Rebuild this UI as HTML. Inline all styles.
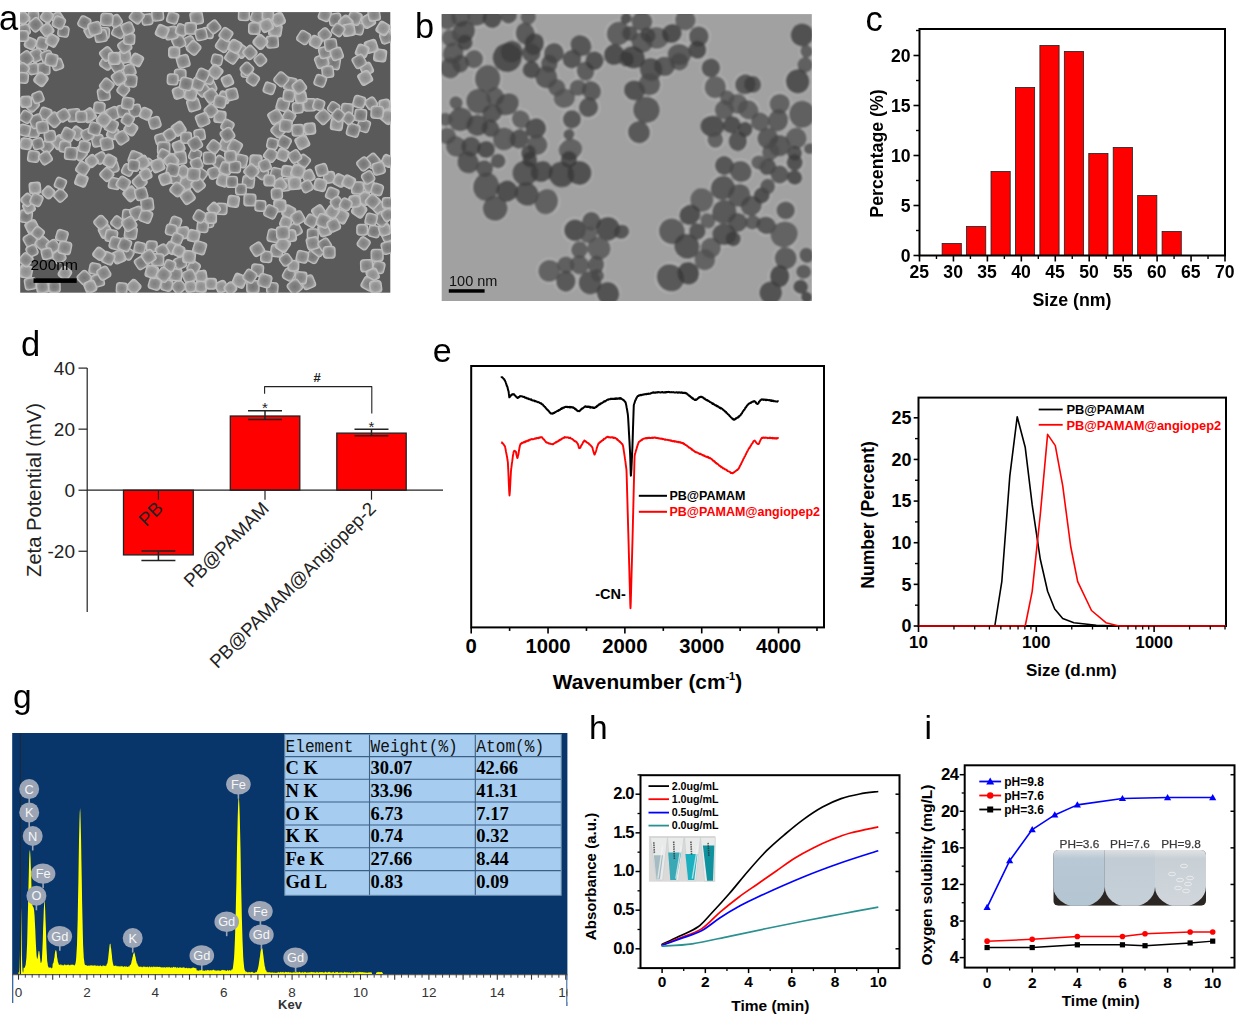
<!DOCTYPE html>
<html><head><meta charset="utf-8"><style>
html,body{margin:0;padding:0;background:#fff;width:1236px;height:1016px;overflow:hidden}
svg{display:block}
</style></head><body>
<svg width="1236" height="1016" viewBox="0 0 1236 1016">
<defs><clipPath id="clipA"><rect x="20.2" y="12.1" width="370.1" height="280.6"/></clipPath><filter id="blurA" x="-5%" y="-5%" width="110%" height="110%"><feGaussianBlur stdDeviation="0.7"/></filter><radialGradient id="pg1"><stop offset="0" stop-color="#7e7e7e"/><stop offset="0.7" stop-color="#8e8e8e"/><stop offset="1" stop-color="#a8a8a8"/></radialGradient><radialGradient id="pg2"><stop offset="0" stop-color="#8c8c8c"/><stop offset="0.7" stop-color="#9a9a9a"/><stop offset="1" stop-color="#b4b4b4"/></radialGradient><radialGradient id="pg3"><stop offset="0" stop-color="#747474"/><stop offset="0.7" stop-color="#848484"/><stop offset="1" stop-color="#a0a0a0"/></radialGradient></defs>
<rect x="20.2" y="12.1" width="370.1" height="280.6" fill="#5a5a5a" stroke="none" stroke-width="1" />
<g clip-path="url(#clipA)"><g filter="url(#blurA)">
<rect x="-5.81" y="-5.81" width="11.62" height="11.62" rx="2.8" fill="url(#pg2)" stroke="#bdbdbd" stroke-width="1.3" transform="translate(219.97,116.79) rotate(5.79)"/>
<rect x="-6.27" y="-6.27" width="12.54" height="12.54" rx="2.8" fill="url(#pg3)" stroke="#bdbdbd" stroke-width="1.3" transform="translate(333.74,62.9) rotate(9.43)"/>
<rect x="-5.57" y="-5.57" width="11.14" height="11.14" rx="2.8" fill="url(#pg2)" stroke="#bdbdbd" stroke-width="1.3" transform="translate(201.14,276.25) rotate(81.53)"/>
<rect x="-5.57" y="-5.57" width="11.14" height="11.14" rx="2.8" fill="url(#pg1)" stroke="#bdbdbd" stroke-width="1.3" transform="translate(114.31,183.44) rotate(11.66)"/>
<rect x="-6.15" y="-6.15" width="12.3" height="12.3" rx="2.8" fill="url(#pg3)" stroke="#bdbdbd" stroke-width="1.3" transform="translate(294.82,229.84) rotate(60.84)"/>
<rect x="-5.71" y="-5.71" width="11.41" height="11.41" rx="2.8" fill="url(#pg1)" stroke="#bdbdbd" stroke-width="1.3" transform="translate(210.99,110.8) rotate(48.29)"/>
<rect x="-6" y="-6" width="12" height="12" rx="2.8" fill="url(#pg1)" stroke="#bdbdbd" stroke-width="1.3" transform="translate(276.86,250.8) rotate(8.05)"/>
<rect x="-6.1" y="-6.1" width="12.2" height="12.2" rx="2.8" fill="url(#pg1)" stroke="#bdbdbd" stroke-width="1.3" transform="translate(282.84,104.81) rotate(16.5)"/>
<rect x="-5.57" y="-5.57" width="11.14" height="11.14" rx="2.8" fill="url(#pg1)" stroke="#bdbdbd" stroke-width="1.3" transform="translate(221.47,208.89) rotate(1.51)"/>
<rect x="-6.1" y="-6.1" width="12.2" height="12.2" rx="2.8" fill="url(#pg2)" stroke="#bdbdbd" stroke-width="1.3" transform="translate(380.15,55.41) rotate(7.54)"/>
<rect x="-5.37" y="-5.37" width="10.73" height="10.73" rx="2.8" fill="url(#pg1)" stroke="#bdbdbd" stroke-width="1.3" transform="translate(33.47,68.89) rotate(77.65)"/>
<rect x="-5.31" y="-5.31" width="10.62" height="10.62" rx="2.8" fill="url(#pg1)" stroke="#bdbdbd" stroke-width="1.3" transform="translate(33.47,16.49) rotate(89.49)"/>
<rect x="-6.23" y="-6.23" width="12.45" height="12.45" rx="2.8" fill="url(#pg2)" stroke="#bdbdbd" stroke-width="1.3" transform="translate(225.96,145.23) rotate(24.11)"/>
<rect x="-5.34" y="-5.34" width="10.69" height="10.69" rx="2.8" fill="url(#pg1)" stroke="#bdbdbd" stroke-width="1.3" transform="translate(189.16,41.94) rotate(63.86)"/>
<rect x="-6.27" y="-6.27" width="12.54" height="12.54" rx="2.8" fill="url(#pg2)" stroke="#bdbdbd" stroke-width="1.3" transform="translate(239.43,280.74) rotate(23.57)"/>
<rect x="-5.5" y="-5.5" width="11" height="11" rx="2.8" fill="url(#pg3)" stroke="#bdbdbd" stroke-width="1.3" transform="translate(288.83,274.75) rotate(28.08)"/>
<rect x="-5.83" y="-5.83" width="11.66" height="11.66" rx="2.8" fill="url(#pg1)" stroke="#bdbdbd" stroke-width="1.3" transform="translate(42.46,43.44) rotate(18.53)"/>
<rect x="-5.8" y="-5.8" width="11.6" height="11.6" rx="2.8" fill="url(#pg3)" stroke="#bdbdbd" stroke-width="1.3" transform="translate(374.16,231.34) rotate(16.01)"/>
<rect x="-6.1" y="-6.1" width="12.21" height="12.21" rx="2.8" fill="url(#pg1)" stroke="#bdbdbd" stroke-width="1.3" transform="translate(357.69,187.93) rotate(89.5)"/>
<rect x="-5.32" y="-5.32" width="10.63" height="10.63" rx="2.8" fill="url(#pg2)" stroke="#bdbdbd" stroke-width="1.3" transform="translate(227.46,80.86) rotate(65.98)"/>
<rect x="-5.81" y="-5.81" width="11.63" height="11.63" rx="2.8" fill="url(#pg1)" stroke="#bdbdbd" stroke-width="1.3" transform="translate(332.25,193.92) rotate(22.11)"/>
<rect x="-5.41" y="-5.41" width="10.81" height="10.81" rx="2.8" fill="url(#pg1)" stroke="#bdbdbd" stroke-width="1.3" transform="translate(160.72,139.25) rotate(73.7)"/>
<rect x="-5.96" y="-5.96" width="11.91" height="11.91" rx="2.8" fill="url(#pg1)" stroke="#bdbdbd" stroke-width="1.3" transform="translate(178.68,286.73) rotate(49.13)"/>
<rect x="-6.27" y="-6.27" width="12.54" height="12.54" rx="2.8" fill="url(#pg2)" stroke="#bdbdbd" stroke-width="1.3" transform="translate(341.23,216.37) rotate(27.7)"/>
<rect x="-6.28" y="-6.28" width="12.56" height="12.56" rx="2.8" fill="url(#pg2)" stroke="#bdbdbd" stroke-width="1.3" transform="translate(186.17,183.44) rotate(30.84)"/>
<rect x="-5.7" y="-5.7" width="11.41" height="11.41" rx="2.8" fill="url(#pg1)" stroke="#bdbdbd" stroke-width="1.3" transform="translate(193.65,267.27) rotate(31.28)"/>
<rect x="-6.14" y="-6.14" width="12.27" height="12.27" rx="2.8" fill="url(#pg3)" stroke="#bdbdbd" stroke-width="1.3" transform="translate(163.71,148.23) rotate(1.28)"/>
<rect x="-5.73" y="-5.73" width="11.46" height="11.46" rx="2.8" fill="url(#pg1)" stroke="#bdbdbd" stroke-width="1.3" transform="translate(347.22,109.31) rotate(4.99)"/>
<rect x="-6.17" y="-6.17" width="12.34" height="12.34" rx="2.8" fill="url(#pg3)" stroke="#bdbdbd" stroke-width="1.3" transform="translate(30.48,240.32) rotate(60.35)"/>
<rect x="-5.9" y="-5.9" width="11.8" height="11.8" rx="2.8" fill="url(#pg1)" stroke="#bdbdbd" stroke-width="1.3" transform="translate(36.47,55.41) rotate(62.34)"/>
<rect x="-5.76" y="-5.76" width="11.52" height="11.52" rx="2.8" fill="url(#pg1)" stroke="#bdbdbd" stroke-width="1.3" transform="translate(378.65,267.27) rotate(14.18)"/>
<rect x="-5.3" y="-5.3" width="10.61" height="10.61" rx="2.8" fill="url(#pg3)" stroke="#bdbdbd" stroke-width="1.3" transform="translate(333.74,107.81) rotate(32.77)"/>
<rect x="-6.27" y="-6.27" width="12.55" height="12.55" rx="2.8" fill="url(#pg2)" stroke="#bdbdbd" stroke-width="1.3" transform="translate(130.78,193.92) rotate(49.24)"/>
<rect x="-5.33" y="-5.33" width="10.67" height="10.67" rx="2.8" fill="url(#pg2)" stroke="#bdbdbd" stroke-width="1.3" transform="translate(384.64,104.81) rotate(79.41)"/>
<rect x="-5.66" y="-5.66" width="11.31" height="11.31" rx="2.8" fill="url(#pg1)" stroke="#bdbdbd" stroke-width="1.3" transform="translate(33.47,131.76) rotate(0.1)"/>
<rect x="-5.38" y="-5.38" width="10.77" height="10.77" rx="2.8" fill="url(#pg2)" stroke="#bdbdbd" stroke-width="1.3" transform="translate(30.48,43.44) rotate(25.1)"/>
<rect x="-5.55" y="-5.55" width="11.1" height="11.1" rx="2.8" fill="url(#pg1)" stroke="#bdbdbd" stroke-width="1.3" transform="translate(213.98,172.96) rotate(69.86)"/>
<rect x="-5.56" y="-5.56" width="11.13" height="11.13" rx="2.8" fill="url(#pg1)" stroke="#bdbdbd" stroke-width="1.3" transform="translate(33.47,156.49) rotate(8.08)"/>
<rect x="-5.89" y="-5.89" width="11.77" height="11.77" rx="2.8" fill="url(#pg3)" stroke="#bdbdbd" stroke-width="1.3" transform="translate(219.97,162.48) rotate(35.46)"/>
<rect x="-5.6" y="-5.6" width="11.21" height="11.21" rx="2.8" fill="url(#pg2)" stroke="#bdbdbd" stroke-width="1.3" transform="translate(224.46,97.33) rotate(20.95)"/>
<rect x="-5.96" y="-5.96" width="11.92" height="11.92" rx="2.8" fill="url(#pg1)" stroke="#bdbdbd" stroke-width="1.3" transform="translate(189.16,276.25) rotate(64.44)"/>
<rect x="-6.06" y="-6.06" width="12.13" height="12.13" rx="2.8" fill="url(#pg1)" stroke="#bdbdbd" stroke-width="1.3" transform="translate(112.81,113.8) rotate(64.86)"/>
<rect x="-5.45" y="-5.45" width="10.9" height="10.9" rx="2.8" fill="url(#pg2)" stroke="#bdbdbd" stroke-width="1.3" transform="translate(221.47,286.73) rotate(65.17)"/>
<rect x="-5.34" y="-5.34" width="10.69" height="10.69" rx="2.8" fill="url(#pg1)" stroke="#bdbdbd" stroke-width="1.3" transform="translate(24.49,29.96) rotate(75.18)"/>
<rect x="-6.03" y="-6.03" width="12.07" height="12.07" rx="2.8" fill="url(#pg2)" stroke="#bdbdbd" stroke-width="1.3" transform="translate(371.17,46.43) rotate(73.1)"/>
<rect x="-6.21" y="-6.21" width="12.42" height="12.42" rx="2.8" fill="url(#pg1)" stroke="#bdbdbd" stroke-width="1.3" transform="translate(321.77,61.4) rotate(67.76)"/>
<rect x="-6.13" y="-6.13" width="12.25" height="12.25" rx="2.8" fill="url(#pg2)" stroke="#bdbdbd" stroke-width="1.3" transform="translate(58.92,142.24) rotate(52.57)"/>
<rect x="-5.39" y="-5.39" width="10.77" height="10.77" rx="2.8" fill="url(#pg3)" stroke="#bdbdbd" stroke-width="1.3" transform="translate(207.99,32.96) rotate(3.77)"/>
<rect x="-6.26" y="-6.26" width="12.52" height="12.52" rx="2.8" fill="url(#pg1)" stroke="#bdbdbd" stroke-width="1.3" transform="translate(222.96,44.93) rotate(33.9)"/>
<rect x="-5.86" y="-5.86" width="11.72" height="11.72" rx="2.8" fill="url(#pg2)" stroke="#bdbdbd" stroke-width="1.3" transform="translate(318.77,211.88) rotate(56.5)"/>
<rect x="-5.79" y="-5.79" width="11.58" height="11.58" rx="2.8" fill="url(#pg1)" stroke="#bdbdbd" stroke-width="1.3" transform="translate(180.18,74.87) rotate(0.3)"/>
<rect x="-6.05" y="-6.05" width="12.1" height="12.1" rx="2.8" fill="url(#pg1)" stroke="#bdbdbd" stroke-width="1.3" transform="translate(31.98,104.81) rotate(45.27)"/>
<rect x="-5.96" y="-5.96" width="11.92" height="11.92" rx="2.8" fill="url(#pg1)" stroke="#bdbdbd" stroke-width="1.3" transform="translate(257.4,270.26) rotate(5.94)"/>
<rect x="-5.55" y="-5.55" width="11.1" height="11.1" rx="2.8" fill="url(#pg3)" stroke="#bdbdbd" stroke-width="1.3" transform="translate(246.92,71.88) rotate(6.7)"/>
<rect x="-5.53" y="-5.53" width="11.07" height="11.07" rx="2.8" fill="url(#pg2)" stroke="#bdbdbd" stroke-width="1.3" transform="translate(178.68,146.73) rotate(68.08)"/>
<rect x="-6.04" y="-6.04" width="12.08" height="12.08" rx="2.8" fill="url(#pg1)" stroke="#bdbdbd" stroke-width="1.3" transform="translate(366.68,265.77) rotate(87.82)"/>
<rect x="-6.15" y="-6.15" width="12.29" height="12.29" rx="2.8" fill="url(#pg3)" stroke="#bdbdbd" stroke-width="1.3" transform="translate(25.99,216.37) rotate(6.91)"/>
<rect x="-6.07" y="-6.07" width="12.13" height="12.13" rx="2.8" fill="url(#pg2)" stroke="#bdbdbd" stroke-width="1.3" transform="translate(88.86,115.29) rotate(55.53)"/>
<rect x="-5.38" y="-5.38" width="10.75" height="10.75" rx="2.8" fill="url(#pg3)" stroke="#bdbdbd" stroke-width="1.3" transform="translate(216.98,59.9) rotate(13.27)"/>
<rect x="-5.95" y="-5.95" width="11.9" height="11.9" rx="2.8" fill="url(#pg2)" stroke="#bdbdbd" stroke-width="1.3" transform="translate(105.33,231.34) rotate(62.36)"/>
<rect x="-5.31" y="-5.31" width="10.62" height="10.62" rx="2.8" fill="url(#pg3)" stroke="#bdbdbd" stroke-width="1.3" transform="translate(127.78,214.87) rotate(5.46)"/>
<rect x="-6.27" y="-6.27" width="12.55" height="12.55" rx="2.8" fill="url(#pg2)" stroke="#bdbdbd" stroke-width="1.3" transform="translate(275.36,29.96) rotate(8.96)"/>
<rect x="-5.98" y="-5.98" width="11.95" height="11.95" rx="2.8" fill="url(#pg3)" stroke="#bdbdbd" stroke-width="1.3" transform="translate(118.8,31.46) rotate(26.18)"/>
<rect x="-5.76" y="-5.76" width="11.53" height="11.53" rx="2.8" fill="url(#pg1)" stroke="#bdbdbd" stroke-width="1.3" transform="translate(46.95,146.73) rotate(41.97)"/>
<rect x="-6.29" y="-6.29" width="12.59" height="12.59" rx="2.8" fill="url(#pg3)" stroke="#bdbdbd" stroke-width="1.3" transform="translate(372.66,160.98) rotate(49.42)"/>
<rect x="-6.28" y="-6.28" width="12.56" height="12.56" rx="2.8" fill="url(#pg1)" stroke="#bdbdbd" stroke-width="1.3" transform="translate(73.89,115.29) rotate(84.26)"/>
<rect x="-5.59" y="-5.59" width="11.18" height="11.18" rx="2.8" fill="url(#pg1)" stroke="#bdbdbd" stroke-width="1.3" transform="translate(64.91,146.73) rotate(6.88)"/>
<rect x="-6.29" y="-6.29" width="12.59" height="12.59" rx="2.8" fill="url(#pg2)" stroke="#bdbdbd" stroke-width="1.3" transform="translate(359.19,210.38) rotate(34.82)"/>
<rect x="-5.37" y="-5.37" width="10.75" height="10.75" rx="2.8" fill="url(#pg3)" stroke="#bdbdbd" stroke-width="1.3" transform="translate(63.41,31.46) rotate(8.13)"/>
<rect x="-6.25" y="-6.25" width="12.51" height="12.51" rx="2.8" fill="url(#pg3)" stroke="#bdbdbd" stroke-width="1.3" transform="translate(273.86,235.83) rotate(11.93)"/>
<rect x="-6.19" y="-6.19" width="12.37" height="12.37" rx="2.8" fill="url(#pg2)" stroke="#bdbdbd" stroke-width="1.3" transform="translate(302.31,142.24) rotate(63.3)"/>
<rect x="-5.8" y="-5.8" width="11.6" height="11.6" rx="2.8" fill="url(#pg1)" stroke="#bdbdbd" stroke-width="1.3" transform="translate(97.84,140.74) rotate(78.85)"/>
<rect x="-5.32" y="-5.32" width="10.65" height="10.65" rx="2.8" fill="url(#pg1)" stroke="#bdbdbd" stroke-width="1.3" transform="translate(22.99,35.95) rotate(0.32)"/>
<rect x="-5.98" y="-5.98" width="11.96" height="11.96" rx="2.8" fill="url(#pg2)" stroke="#bdbdbd" stroke-width="1.3" transform="translate(240.93,50.92) rotate(36.49)"/>
<rect x="-5.72" y="-5.72" width="11.43" height="11.43" rx="2.8" fill="url(#pg1)" stroke="#bdbdbd" stroke-width="1.3" transform="translate(225.96,34.46) rotate(33.85)"/>
<rect x="-6.14" y="-6.14" width="12.28" height="12.28" rx="2.8" fill="url(#pg3)" stroke="#bdbdbd" stroke-width="1.3" transform="translate(252.9,286.73) rotate(0.16)"/>
<rect x="-6.14" y="-6.14" width="12.28" height="12.28" rx="2.8" fill="url(#pg2)" stroke="#bdbdbd" stroke-width="1.3" transform="translate(25.99,271.76) rotate(10.8)"/>
<rect x="-6.01" y="-6.01" width="12.03" height="12.03" rx="2.8" fill="url(#pg3)" stroke="#bdbdbd" stroke-width="1.3" transform="translate(335.24,19.49) rotate(81.14)"/>
<rect x="-5.55" y="-5.55" width="11.11" height="11.11" rx="2.8" fill="url(#pg1)" stroke="#bdbdbd" stroke-width="1.3" transform="translate(99.34,107.81) rotate(5.85)"/>
<rect x="-6.3" y="-6.3" width="12.6" height="12.6" rx="2.8" fill="url(#pg3)" stroke="#bdbdbd" stroke-width="1.3" transform="translate(25.99,58.41) rotate(53.03)"/>
<rect x="-6.23" y="-6.23" width="12.45" height="12.45" rx="2.8" fill="url(#pg1)" stroke="#bdbdbd" stroke-width="1.3" transform="translate(308.29,282.24) rotate(68.01)"/>
<rect x="-5.58" y="-5.58" width="11.16" height="11.16" rx="2.8" fill="url(#pg3)" stroke="#bdbdbd" stroke-width="1.3" transform="translate(272.37,288.23) rotate(4.65)"/>
<rect x="-5.93" y="-5.93" width="11.87" height="11.87" rx="2.8" fill="url(#pg3)" stroke="#bdbdbd" stroke-width="1.3" transform="translate(357.69,28.47) rotate(13.4)"/>
<rect x="-5.74" y="-5.74" width="11.47" height="11.47" rx="2.8" fill="url(#pg3)" stroke="#bdbdbd" stroke-width="1.3" transform="translate(312.78,256.79) rotate(28.4)"/>
<rect x="-6.09" y="-6.09" width="12.17" height="12.17" rx="2.8" fill="url(#pg1)" stroke="#bdbdbd" stroke-width="1.3" transform="translate(318.77,249.31) rotate(38.5)"/>
<rect x="-6.11" y="-6.11" width="12.22" height="12.22" rx="2.8" fill="url(#pg2)" stroke="#bdbdbd" stroke-width="1.3" transform="translate(178.68,128.77) rotate(56.78)"/>
<rect x="-6.02" y="-6.02" width="12.04" height="12.04" rx="2.8" fill="url(#pg1)" stroke="#bdbdbd" stroke-width="1.3" transform="translate(175.69,274.75) rotate(4.45)"/>
<rect x="-5.75" y="-5.75" width="11.5" height="11.5" rx="2.8" fill="url(#pg3)" stroke="#bdbdbd" stroke-width="1.3" transform="translate(46.95,56.91) rotate(67.74)"/>
<rect x="-5.79" y="-5.79" width="11.57" height="11.57" rx="2.8" fill="url(#pg2)" stroke="#bdbdbd" stroke-width="1.3" transform="translate(290.33,235.83) rotate(82.07)"/>
<rect x="-5.47" y="-5.47" width="10.94" height="10.94" rx="2.8" fill="url(#pg3)" stroke="#bdbdbd" stroke-width="1.3" transform="translate(303.8,160.98) rotate(37.34)"/>
<rect x="-5.6" y="-5.6" width="11.2" height="11.2" rx="2.8" fill="url(#pg3)" stroke="#bdbdbd" stroke-width="1.3" transform="translate(180.18,262.78) rotate(66.51)"/>
<rect x="-5.71" y="-5.71" width="11.41" height="11.41" rx="2.8" fill="url(#pg1)" stroke="#bdbdbd" stroke-width="1.3" transform="translate(324.76,14.99) rotate(21.48)"/>
<rect x="-5.86" y="-5.86" width="11.71" height="11.71" rx="2.8" fill="url(#pg2)" stroke="#bdbdbd" stroke-width="1.3" transform="translate(76.89,133.26) rotate(35.49)"/>
<rect x="-5.94" y="-5.94" width="11.89" height="11.89" rx="2.8" fill="url(#pg1)" stroke="#bdbdbd" stroke-width="1.3" transform="translate(248.41,181.94) rotate(6.77)"/>
<rect x="-5.85" y="-5.85" width="11.7" height="11.7" rx="2.8" fill="url(#pg3)" stroke="#bdbdbd" stroke-width="1.3" transform="translate(148.74,165.47) rotate(40.77)"/>
<rect x="-6.3" y="-6.3" width="12.59" height="12.59" rx="2.8" fill="url(#pg2)" stroke="#bdbdbd" stroke-width="1.3" transform="translate(387.63,116.79) rotate(40.5)"/>
<rect x="-5.85" y="-5.85" width="11.7" height="11.7" rx="2.8" fill="url(#pg2)" stroke="#bdbdbd" stroke-width="1.3" transform="translate(362.19,50.92) rotate(21.97)"/>
<rect x="-5.64" y="-5.64" width="11.28" height="11.28" rx="2.8" fill="url(#pg2)" stroke="#bdbdbd" stroke-width="1.3" transform="translate(233.44,201.4) rotate(8.2)"/>
<rect x="-5.67" y="-5.67" width="11.34" height="11.34" rx="2.8" fill="url(#pg2)" stroke="#bdbdbd" stroke-width="1.3" transform="translate(178.68,92.84) rotate(72.84)"/>
<rect x="-6.19" y="-6.19" width="12.37" height="12.37" rx="2.8" fill="url(#pg1)" stroke="#bdbdbd" stroke-width="1.3" transform="translate(136.77,213.38) rotate(67.47)"/>
<rect x="-5.68" y="-5.68" width="11.37" height="11.37" rx="2.8" fill="url(#pg2)" stroke="#bdbdbd" stroke-width="1.3" transform="translate(372.66,274.75) rotate(67.13)"/>
<rect x="-5.68" y="-5.68" width="11.35" height="11.35" rx="2.8" fill="url(#pg1)" stroke="#bdbdbd" stroke-width="1.3" transform="translate(311.29,220.86) rotate(30.44)"/>
<rect x="-5.8" y="-5.8" width="11.6" height="11.6" rx="2.8" fill="url(#pg3)" stroke="#bdbdbd" stroke-width="1.3" transform="translate(363.68,163.98) rotate(51.69)"/>
<rect x="-5.43" y="-5.43" width="10.85" height="10.85" rx="2.8" fill="url(#pg2)" stroke="#bdbdbd" stroke-width="1.3" transform="translate(213.98,208.89) rotate(45.31)"/>
<rect x="-5.39" y="-5.39" width="10.79" height="10.79" rx="2.8" fill="url(#pg1)" stroke="#bdbdbd" stroke-width="1.3" transform="translate(199.64,134.75) rotate(80.71)"/>
<rect x="-5.7" y="-5.7" width="11.4" height="11.4" rx="2.8" fill="url(#pg3)" stroke="#bdbdbd" stroke-width="1.3" transform="translate(261.89,172.96) rotate(40.13)"/>
<rect x="-6.15" y="-6.15" width="12.3" height="12.3" rx="2.8" fill="url(#pg1)" stroke="#bdbdbd" stroke-width="1.3" transform="translate(106.83,143.74) rotate(78.56)"/>
<rect x="-5.43" y="-5.43" width="10.85" height="10.85" rx="2.8" fill="url(#pg1)" stroke="#bdbdbd" stroke-width="1.3" transform="translate(117.31,222.36) rotate(38.27)"/>
<rect x="-6.27" y="-6.27" width="12.54" height="12.54" rx="2.8" fill="url(#pg1)" stroke="#bdbdbd" stroke-width="1.3" transform="translate(323.26,116.79) rotate(44.08)"/>
<rect x="-5.69" y="-5.69" width="11.38" height="11.38" rx="2.8" fill="url(#pg1)" stroke="#bdbdbd" stroke-width="1.3" transform="translate(327.75,71.88) rotate(83.41)"/>
<rect x="-6.27" y="-6.27" width="12.54" height="12.54" rx="2.8" fill="url(#pg1)" stroke="#bdbdbd" stroke-width="1.3" transform="translate(354.7,17.99) rotate(22.36)"/>
<rect x="-5.52" y="-5.52" width="11.05" height="11.05" rx="2.8" fill="url(#pg1)" stroke="#bdbdbd" stroke-width="1.3" transform="translate(24.49,130.26) rotate(13.69)"/>
<rect x="-6.24" y="-6.24" width="12.48" height="12.48" rx="2.8" fill="url(#pg1)" stroke="#bdbdbd" stroke-width="1.3" transform="translate(209.49,86.85) rotate(64.96)"/>
<rect x="-5.39" y="-5.39" width="10.77" height="10.77" rx="2.8" fill="url(#pg1)" stroke="#bdbdbd" stroke-width="1.3" transform="translate(57.43,64.4) rotate(69.92)"/>
<rect x="-6.08" y="-6.08" width="12.16" height="12.16" rx="2.8" fill="url(#pg1)" stroke="#bdbdbd" stroke-width="1.3" transform="translate(145.75,216.37) rotate(20.93)"/>
<rect x="-5.95" y="-5.95" width="11.89" height="11.89" rx="2.8" fill="url(#pg2)" stroke="#bdbdbd" stroke-width="1.3" transform="translate(288.83,211.88) rotate(27.34)"/>
<rect x="-5.93" y="-5.93" width="11.85" height="11.85" rx="2.8" fill="url(#pg1)" stroke="#bdbdbd" stroke-width="1.3" transform="translate(202.63,89.84) rotate(47.54)"/>
<rect x="-6" y="-6" width="12" height="12" rx="2.8" fill="url(#pg1)" stroke="#bdbdbd" stroke-width="1.3" transform="translate(111.32,235.83) rotate(10.09)"/>
<rect x="-5.6" y="-5.6" width="11.2" height="11.2" rx="2.8" fill="url(#pg2)" stroke="#bdbdbd" stroke-width="1.3" transform="translate(34.97,187.93) rotate(84.92)"/>
<rect x="-5.69" y="-5.69" width="11.38" height="11.38" rx="2.8" fill="url(#pg1)" stroke="#bdbdbd" stroke-width="1.3" transform="translate(45.45,113.8) rotate(20.12)"/>
<rect x="-5.31" y="-5.31" width="10.62" height="10.62" rx="2.8" fill="url(#pg1)" stroke="#bdbdbd" stroke-width="1.3" transform="translate(163.71,154.99) rotate(27.14)"/>
<rect x="-5.58" y="-5.58" width="11.16" height="11.16" rx="2.8" fill="url(#pg2)" stroke="#bdbdbd" stroke-width="1.3" transform="translate(315.78,41.94) rotate(28.47)"/>
<rect x="-5.78" y="-5.78" width="11.55" height="11.55" rx="2.8" fill="url(#pg2)" stroke="#bdbdbd" stroke-width="1.3" transform="translate(81.38,180.44) rotate(21.13)"/>
<rect x="-5.33" y="-5.33" width="10.66" height="10.66" rx="2.8" fill="url(#pg3)" stroke="#bdbdbd" stroke-width="1.3" transform="translate(201.14,174.46) rotate(37.06)"/>
<rect x="-5.36" y="-5.36" width="10.71" height="10.71" rx="2.8" fill="url(#pg1)" stroke="#bdbdbd" stroke-width="1.3" transform="translate(175.69,178.95) rotate(17.47)"/>
<rect x="-5.38" y="-5.38" width="10.76" height="10.76" rx="2.8" fill="url(#pg1)" stroke="#bdbdbd" stroke-width="1.3" transform="translate(175.69,222.36) rotate(20.51)"/>
<rect x="-6.23" y="-6.23" width="12.45" height="12.45" rx="2.8" fill="url(#pg1)" stroke="#bdbdbd" stroke-width="1.3" transform="translate(135.27,157.99) rotate(20.41)"/>
<rect x="-6" y="-6" width="11.99" height="11.99" rx="2.8" fill="url(#pg3)" stroke="#bdbdbd" stroke-width="1.3" transform="translate(178.68,41.94) rotate(64.65)"/>
<rect x="-5.98" y="-5.98" width="11.97" height="11.97" rx="2.8" fill="url(#pg3)" stroke="#bdbdbd" stroke-width="1.3" transform="translate(363.68,125.77) rotate(17.83)"/>
<rect x="-6.04" y="-6.04" width="12.08" height="12.08" rx="2.8" fill="url(#pg2)" stroke="#bdbdbd" stroke-width="1.3" transform="translate(345.72,22.48) rotate(45.44)"/>
<rect x="-5.8" y="-5.8" width="11.59" height="11.59" rx="2.8" fill="url(#pg2)" stroke="#bdbdbd" stroke-width="1.3" transform="translate(222.96,180.44) rotate(18.04)"/>
<rect x="-5.53" y="-5.53" width="11.06" height="11.06" rx="2.8" fill="url(#pg3)" stroke="#bdbdbd" stroke-width="1.3" transform="translate(320.27,80.86) rotate(19.93)"/>
<rect x="-5.41" y="-5.41" width="10.82" height="10.82" rx="2.8" fill="url(#pg2)" stroke="#bdbdbd" stroke-width="1.3" transform="translate(57.43,17.99) rotate(56.12)"/>
<rect x="-6.2" y="-6.2" width="12.39" height="12.39" rx="2.8" fill="url(#pg1)" stroke="#bdbdbd" stroke-width="1.3" transform="translate(79.88,153.5) rotate(43.65)"/>
<rect x="-6.25" y="-6.25" width="12.5" height="12.5" rx="2.8" fill="url(#pg1)" stroke="#bdbdbd" stroke-width="1.3" transform="translate(240.93,160.98) rotate(13.17)"/>
<rect x="-5.35" y="-5.35" width="10.71" height="10.71" rx="2.8" fill="url(#pg2)" stroke="#bdbdbd" stroke-width="1.3" transform="translate(293.32,265.77) rotate(2.13)"/>
<rect x="-5.72" y="-5.72" width="11.43" height="11.43" rx="2.8" fill="url(#pg2)" stroke="#bdbdbd" stroke-width="1.3" transform="translate(366.68,68.89) rotate(63.89)"/>
<rect x="-5.69" y="-5.69" width="11.39" height="11.39" rx="2.8" fill="url(#pg3)" stroke="#bdbdbd" stroke-width="1.3" transform="translate(30.48,283.74) rotate(80.84)"/>
<rect x="-6.03" y="-6.03" width="12.07" height="12.07" rx="2.8" fill="url(#pg2)" stroke="#bdbdbd" stroke-width="1.3" transform="translate(279.85,205.89) rotate(89.78)"/>
<rect x="-5.63" y="-5.63" width="11.26" height="11.26" rx="2.8" fill="url(#pg1)" stroke="#bdbdbd" stroke-width="1.3" transform="translate(61.92,235.83) rotate(16.7)"/>
<rect x="-5.33" y="-5.33" width="10.66" height="10.66" rx="2.8" fill="url(#pg1)" stroke="#bdbdbd" stroke-width="1.3" transform="translate(100.84,157.99) rotate(59.8)"/>
<rect x="-6.14" y="-6.14" width="12.28" height="12.28" rx="2.8" fill="url(#pg1)" stroke="#bdbdbd" stroke-width="1.3" transform="translate(309.79,104.81) rotate(88.65)"/>
<rect x="-5.47" y="-5.47" width="10.94" height="10.94" rx="2.8" fill="url(#pg3)" stroke="#bdbdbd" stroke-width="1.3" transform="translate(312.78,234.34) rotate(0.26)"/>
<rect x="-5.38" y="-5.38" width="10.76" height="10.76" rx="2.8" fill="url(#pg1)" stroke="#bdbdbd" stroke-width="1.3" transform="translate(123.29,89.84) rotate(37.82)"/>
<rect x="-5.86" y="-5.86" width="11.72" height="11.72" rx="2.8" fill="url(#pg1)" stroke="#bdbdbd" stroke-width="1.3" transform="translate(129.28,70.38) rotate(68.29)"/>
<rect x="-5.66" y="-5.66" width="11.31" height="11.31" rx="2.8" fill="url(#pg1)" stroke="#bdbdbd" stroke-width="1.3" transform="translate(112.81,166.97) rotate(73.94)"/>
<rect x="-5.39" y="-5.39" width="10.78" height="10.78" rx="2.8" fill="url(#pg2)" stroke="#bdbdbd" stroke-width="1.3" transform="translate(28.98,207.39) rotate(63.47)"/>
<rect x="-5.67" y="-5.67" width="11.35" height="11.35" rx="2.8" fill="url(#pg2)" stroke="#bdbdbd" stroke-width="1.3" transform="translate(329.25,177.45) rotate(82.76)"/>
<rect x="-5.62" y="-5.62" width="11.25" height="11.25" rx="2.8" fill="url(#pg1)" stroke="#bdbdbd" stroke-width="1.3" transform="translate(87.37,134.75) rotate(66.36)"/>
<rect x="-5.33" y="-5.33" width="10.66" height="10.66" rx="2.8" fill="url(#pg1)" stroke="#bdbdbd" stroke-width="1.3" transform="translate(22.99,68.89) rotate(36.97)"/>
<rect x="-5.34" y="-5.34" width="10.68" height="10.68" rx="2.8" fill="url(#pg1)" stroke="#bdbdbd" stroke-width="1.3" transform="translate(151.74,246.31) rotate(3.14)"/>
<rect x="-6.1" y="-6.1" width="12.21" height="12.21" rx="2.8" fill="url(#pg2)" stroke="#bdbdbd" stroke-width="1.3" transform="translate(189.16,256.79) rotate(5.58)"/>
<rect x="-6.05" y="-6.05" width="12.09" height="12.09" rx="2.8" fill="url(#pg3)" stroke="#bdbdbd" stroke-width="1.3" transform="translate(103.83,94.34) rotate(80.87)"/>
<rect x="-5.66" y="-5.66" width="11.33" height="11.33" rx="2.8" fill="url(#pg1)" stroke="#bdbdbd" stroke-width="1.3" transform="translate(227.46,125.77) rotate(30.15)"/>
<rect x="-5.56" y="-5.56" width="11.12" height="11.12" rx="2.8" fill="url(#pg3)" stroke="#bdbdbd" stroke-width="1.3" transform="translate(387.63,235.83) rotate(64.5)"/>
<rect x="-6.22" y="-6.22" width="12.45" height="12.45" rx="2.8" fill="url(#pg1)" stroke="#bdbdbd" stroke-width="1.3" transform="translate(67.9,134.75) rotate(26.77)"/>
<rect x="-5.32" y="-5.32" width="10.65" height="10.65" rx="2.8" fill="url(#pg1)" stroke="#bdbdbd" stroke-width="1.3" transform="translate(169.7,265.77) rotate(21.05)"/>
<rect x="-6.02" y="-6.02" width="12.03" height="12.03" rx="2.8" fill="url(#pg1)" stroke="#bdbdbd" stroke-width="1.3" transform="translate(42.46,243.32) rotate(41.92)"/>
<rect x="-6.09" y="-6.09" width="12.18" height="12.18" rx="2.8" fill="url(#pg1)" stroke="#bdbdbd" stroke-width="1.3" transform="translate(284.34,184.93) rotate(82.22)"/>
<rect x="-5.43" y="-5.43" width="10.87" height="10.87" rx="2.8" fill="url(#pg1)" stroke="#bdbdbd" stroke-width="1.3" transform="translate(27.49,199.9) rotate(44.69)"/>
<rect x="-6.1" y="-6.1" width="12.21" height="12.21" rx="2.8" fill="url(#pg2)" stroke="#bdbdbd" stroke-width="1.3" transform="translate(157.72,165.47) rotate(66.46)"/>
<rect x="-5.91" y="-5.91" width="11.81" height="11.81" rx="2.8" fill="url(#pg3)" stroke="#bdbdbd" stroke-width="1.3" transform="translate(284.34,142.24) rotate(29.5)"/>
<rect x="-5.76" y="-5.76" width="11.52" height="11.52" rx="2.8" fill="url(#pg1)" stroke="#bdbdbd" stroke-width="1.3" transform="translate(386.14,37.45) rotate(70.54)"/>
<rect x="-5.81" y="-5.81" width="11.62" height="11.62" rx="2.8" fill="url(#pg2)" stroke="#bdbdbd" stroke-width="1.3" transform="translate(332.25,211.88) rotate(35.25)"/>
<rect x="-5.55" y="-5.55" width="11.09" height="11.09" rx="2.8" fill="url(#pg1)" stroke="#bdbdbd" stroke-width="1.3" transform="translate(266.38,256.79) rotate(5.83)"/>
<rect x="-5.78" y="-5.78" width="11.56" height="11.56" rx="2.8" fill="url(#pg2)" stroke="#bdbdbd" stroke-width="1.3" transform="translate(378.65,207.39) rotate(49.02)"/>
<rect x="-6.28" y="-6.28" width="12.56" height="12.56" rx="2.8" fill="url(#pg1)" stroke="#bdbdbd" stroke-width="1.3" transform="translate(171.2,32.96) rotate(79.51)"/>
<rect x="-5.56" y="-5.56" width="11.13" height="11.13" rx="2.8" fill="url(#pg1)" stroke="#bdbdbd" stroke-width="1.3" transform="translate(288.83,95.83) rotate(7.57)"/>
<rect x="-5.72" y="-5.72" width="11.44" height="11.44" rx="2.8" fill="url(#pg1)" stroke="#bdbdbd" stroke-width="1.3" transform="translate(297.81,130.26) rotate(88.96)"/>
<rect x="-5.47" y="-5.47" width="10.95" height="10.95" rx="2.8" fill="url(#pg1)" stroke="#bdbdbd" stroke-width="1.3" transform="translate(139.76,247.81) rotate(11.96)"/>
<rect x="-5.92" y="-5.92" width="11.84" height="11.84" rx="2.8" fill="url(#pg1)" stroke="#bdbdbd" stroke-width="1.3" transform="translate(297.81,217.87) rotate(60.67)"/>
<rect x="-6.08" y="-6.08" width="12.16" height="12.16" rx="2.8" fill="url(#pg3)" stroke="#bdbdbd" stroke-width="1.3" transform="translate(270.87,211.88) rotate(26.45)"/>
<rect x="-5.87" y="-5.87" width="11.73" height="11.73" rx="2.8" fill="url(#pg3)" stroke="#bdbdbd" stroke-width="1.3" transform="translate(249.91,276.25) rotate(33.57)"/>
<rect x="-5.5" y="-5.5" width="11" height="11" rx="2.8" fill="url(#pg2)" stroke="#bdbdbd" stroke-width="1.3" transform="translate(112.81,133.26) rotate(22.27)"/>
<rect x="-5.54" y="-5.54" width="11.07" height="11.07" rx="2.8" fill="url(#pg2)" stroke="#bdbdbd" stroke-width="1.3" transform="translate(387.63,160.98) rotate(25.32)"/>
<rect x="-5.63" y="-5.63" width="11.25" height="11.25" rx="2.8" fill="url(#pg2)" stroke="#bdbdbd" stroke-width="1.3" transform="translate(64.91,273.26) rotate(35.65)"/>
<rect x="-5.81" y="-5.81" width="11.61" height="11.61" rx="2.8" fill="url(#pg1)" stroke="#bdbdbd" stroke-width="1.3" transform="translate(225.96,168.47) rotate(20.82)"/>
<rect x="-5.95" y="-5.95" width="11.91" height="11.91" rx="2.8" fill="url(#pg1)" stroke="#bdbdbd" stroke-width="1.3" transform="translate(377.16,255.29) rotate(89.19)"/>
<rect x="-5.3" y="-5.3" width="10.61" height="10.61" rx="2.8" fill="url(#pg2)" stroke="#bdbdbd" stroke-width="1.3" transform="translate(190.66,286.73) rotate(79.45)"/>
<rect x="-6.14" y="-6.14" width="12.28" height="12.28" rx="2.8" fill="url(#pg1)" stroke="#bdbdbd" stroke-width="1.3" transform="translate(180.18,157.99) rotate(82.29)"/>
<rect x="-6.18" y="-6.18" width="12.35" height="12.35" rx="2.8" fill="url(#pg1)" stroke="#bdbdbd" stroke-width="1.3" transform="translate(257.4,16.49) rotate(20.96)"/>
<rect x="-5.49" y="-5.49" width="10.98" height="10.98" rx="2.8" fill="url(#pg2)" stroke="#bdbdbd" stroke-width="1.3" transform="translate(25.99,101.82) rotate(87.57)"/>
<rect x="-6.23" y="-6.23" width="12.46" height="12.46" rx="2.8" fill="url(#pg2)" stroke="#bdbdbd" stroke-width="1.3" transform="translate(282.84,244.81) rotate(33.5)"/>
<rect x="-5.75" y="-5.75" width="11.5" height="11.5" rx="2.8" fill="url(#pg1)" stroke="#bdbdbd" stroke-width="1.3" transform="translate(58.92,22.48) rotate(23.4)"/>
<rect x="-5.41" y="-5.41" width="10.81" height="10.81" rx="2.8" fill="url(#pg3)" stroke="#bdbdbd" stroke-width="1.3" transform="translate(285.84,259.78) rotate(53.65)"/>
<rect x="-5.52" y="-5.52" width="11.04" height="11.04" rx="2.8" fill="url(#pg2)" stroke="#bdbdbd" stroke-width="1.3" transform="translate(171.2,247.81) rotate(33.18)"/>
<rect x="-5.34" y="-5.34" width="10.69" height="10.69" rx="2.8" fill="url(#pg1)" stroke="#bdbdbd" stroke-width="1.3" transform="translate(362.19,229.84) rotate(89.99)"/>
<rect x="-5.9" y="-5.9" width="11.8" height="11.8" rx="2.8" fill="url(#pg2)" stroke="#bdbdbd" stroke-width="1.3" transform="translate(142.75,162.48) rotate(58.65)"/>
<rect x="-6.11" y="-6.11" width="12.23" height="12.23" rx="2.8" fill="url(#pg1)" stroke="#bdbdbd" stroke-width="1.3" transform="translate(183.17,61.4) rotate(73.69)"/>
<rect x="-5.98" y="-5.98" width="11.96" height="11.96" rx="2.8" fill="url(#pg3)" stroke="#bdbdbd" stroke-width="1.3" transform="translate(94.85,128.77) rotate(16.66)"/>
<rect x="-5.38" y="-5.38" width="10.76" height="10.76" rx="2.8" fill="url(#pg1)" stroke="#bdbdbd" stroke-width="1.3" transform="translate(172.69,79.37) rotate(2.83)"/>
<rect x="-5.85" y="-5.85" width="11.7" height="11.7" rx="2.8" fill="url(#pg1)" stroke="#bdbdbd" stroke-width="1.3" transform="translate(300.81,277.75) rotate(5.69)"/>
<rect x="-6.1" y="-6.1" width="12.19" height="12.19" rx="2.8" fill="url(#pg2)" stroke="#bdbdbd" stroke-width="1.3" transform="translate(368.17,20.98) rotate(59.76)"/>
<rect x="-5.94" y="-5.94" width="11.88" height="11.88" rx="2.8" fill="url(#pg2)" stroke="#bdbdbd" stroke-width="1.3" transform="translate(336.74,124.28) rotate(8.2)"/>
<rect x="-5.7" y="-5.7" width="11.4" height="11.4" rx="2.8" fill="url(#pg3)" stroke="#bdbdbd" stroke-width="1.3" transform="translate(195.15,154.99) rotate(24.41)"/>
<rect x="-5.97" y="-5.97" width="11.94" height="11.94" rx="2.8" fill="url(#pg1)" stroke="#bdbdbd" stroke-width="1.3" transform="translate(270.87,154.99) rotate(37.61)"/>
<rect x="-5.61" y="-5.61" width="11.22" height="11.22" rx="2.8" fill="url(#pg3)" stroke="#bdbdbd" stroke-width="1.3" transform="translate(213.98,26.97) rotate(50.99)"/>
<rect x="-5.71" y="-5.71" width="11.43" height="11.43" rx="2.8" fill="url(#pg3)" stroke="#bdbdbd" stroke-width="1.3" transform="translate(234.94,166.97) rotate(1.64)"/>
<rect x="-5.94" y="-5.94" width="11.89" height="11.89" rx="2.8" fill="url(#pg1)" stroke="#bdbdbd" stroke-width="1.3" transform="translate(231.95,56.91) rotate(35.17)"/>
<rect x="-5.5" y="-5.5" width="11.01" height="11.01" rx="2.8" fill="url(#pg2)" stroke="#bdbdbd" stroke-width="1.3" transform="translate(174.19,52.42) rotate(0.53)"/>
<rect x="-5.72" y="-5.72" width="11.45" height="11.45" rx="2.8" fill="url(#pg1)" stroke="#bdbdbd" stroke-width="1.3" transform="translate(321.77,169.96) rotate(73.83)"/>
<rect x="-5.88" y="-5.88" width="11.76" height="11.76" rx="2.8" fill="url(#pg2)" stroke="#bdbdbd" stroke-width="1.3" transform="translate(130.78,128.77) rotate(32.83)"/>
<rect x="-5.43" y="-5.43" width="10.86" height="10.86" rx="2.8" fill="url(#pg2)" stroke="#bdbdbd" stroke-width="1.3" transform="translate(201.14,286.73) rotate(4.65)"/>
<rect x="-5.94" y="-5.94" width="11.88" height="11.88" rx="2.8" fill="url(#pg1)" stroke="#bdbdbd" stroke-width="1.3" transform="translate(42.46,286.73) rotate(81.88)"/>
<rect x="-5.87" y="-5.87" width="11.75" height="11.75" rx="2.8" fill="url(#pg2)" stroke="#bdbdbd" stroke-width="1.3" transform="translate(183.17,232.84) rotate(83.45)"/>
<rect x="-5.45" y="-5.45" width="10.89" height="10.89" rx="2.8" fill="url(#pg2)" stroke="#bdbdbd" stroke-width="1.3" transform="translate(178.68,250.8) rotate(25.5)"/>
<rect x="-6.23" y="-6.23" width="12.45" height="12.45" rx="2.8" fill="url(#pg1)" stroke="#bdbdbd" stroke-width="1.3" transform="translate(290.33,83.86) rotate(9.79)"/>
<rect x="-6.05" y="-6.05" width="12.11" height="12.11" rx="2.8" fill="url(#pg2)" stroke="#bdbdbd" stroke-width="1.3" transform="translate(324.76,229.84) rotate(71.29)"/>
<rect x="-5.6" y="-5.6" width="11.2" height="11.2" rx="2.8" fill="url(#pg1)" stroke="#bdbdbd" stroke-width="1.3" transform="translate(324.76,52.42) rotate(75.36)"/>
<rect x="-6.28" y="-6.28" width="12.55" height="12.55" rx="2.8" fill="url(#pg1)" stroke="#bdbdbd" stroke-width="1.3" transform="translate(54.43,119.78) rotate(43.45)"/>
<rect x="-5.91" y="-5.91" width="11.82" height="11.82" rx="2.8" fill="url(#pg1)" stroke="#bdbdbd" stroke-width="1.3" transform="translate(58.92,256.79) rotate(57.27)"/>
<rect x="-6.2" y="-6.2" width="12.41" height="12.41" rx="2.8" fill="url(#pg2)" stroke="#bdbdbd" stroke-width="1.3" transform="translate(365.18,198.41) rotate(55.83)"/>
<rect x="-5.94" y="-5.94" width="11.88" height="11.88" rx="2.8" fill="url(#pg1)" stroke="#bdbdbd" stroke-width="1.3" transform="translate(312.78,243.32) rotate(77.09)"/>
<rect x="-5.91" y="-5.91" width="11.83" height="11.83" rx="2.8" fill="url(#pg1)" stroke="#bdbdbd" stroke-width="1.3" transform="translate(207.99,77.87) rotate(17.65)"/>
<rect x="-5.48" y="-5.48" width="10.97" height="10.97" rx="2.8" fill="url(#pg1)" stroke="#bdbdbd" stroke-width="1.3" transform="translate(269.37,88.35) rotate(19.63)"/>
<rect x="-6.24" y="-6.24" width="12.48" height="12.48" rx="2.8" fill="url(#pg3)" stroke="#bdbdbd" stroke-width="1.3" transform="translate(276.86,174.46) rotate(14.08)"/>
<rect x="-5.42" y="-5.42" width="10.85" height="10.85" rx="2.8" fill="url(#pg2)" stroke="#bdbdbd" stroke-width="1.3" transform="translate(285.84,222.36) rotate(22.24)"/>
<rect x="-5.34" y="-5.34" width="10.68" height="10.68" rx="2.8" fill="url(#pg1)" stroke="#bdbdbd" stroke-width="1.3" transform="translate(260.39,59.9) rotate(50.61)"/>
<rect x="-5.97" y="-5.97" width="11.94" height="11.94" rx="2.8" fill="url(#pg1)" stroke="#bdbdbd" stroke-width="1.3" transform="translate(368.17,283.74) rotate(29.18)"/>
<rect x="-5.9" y="-5.9" width="11.8" height="11.8" rx="2.8" fill="url(#pg3)" stroke="#bdbdbd" stroke-width="1.3" transform="translate(35.72,24.72) rotate(49.5)"/>
<rect x="-5.95" y="-5.95" width="11.9" height="11.9" rx="2.8" fill="url(#pg2)" stroke="#bdbdbd" stroke-width="1.3" transform="translate(234.94,46.43) rotate(27.74)"/>
<rect x="-5.73" y="-5.73" width="11.45" height="11.45" rx="2.8" fill="url(#pg1)" stroke="#bdbdbd" stroke-width="1.3" transform="translate(162.22,250.8) rotate(59.3)"/>
<rect x="-5.8" y="-5.8" width="11.61" height="11.61" rx="2.8" fill="url(#pg1)" stroke="#bdbdbd" stroke-width="1.3" transform="translate(154.73,283.74) rotate(16.09)"/>
<rect x="-5.92" y="-5.92" width="11.84" height="11.84" rx="2.8" fill="url(#pg2)" stroke="#bdbdbd" stroke-width="1.3" transform="translate(133.77,286.73) rotate(44.06)"/>
<rect x="-5.75" y="-5.75" width="11.49" height="11.49" rx="2.8" fill="url(#pg1)" stroke="#bdbdbd" stroke-width="1.3" transform="translate(52.93,246.31) rotate(55.67)"/>
<rect x="-6.14" y="-6.14" width="12.27" height="12.27" rx="2.8" fill="url(#pg1)" stroke="#bdbdbd" stroke-width="1.3" transform="translate(193.65,104.81) rotate(72.95)"/>
<rect x="-5.41" y="-5.41" width="10.81" height="10.81" rx="2.8" fill="url(#pg1)" stroke="#bdbdbd" stroke-width="1.3" transform="translate(171.2,229.84) rotate(11.56)"/>
<rect x="-5.67" y="-5.67" width="11.33" height="11.33" rx="2.8" fill="url(#pg1)" stroke="#bdbdbd" stroke-width="1.3" transform="translate(154.73,122.78) rotate(72.21)"/>
<rect x="-5.34" y="-5.34" width="10.68" height="10.68" rx="2.8" fill="url(#pg3)" stroke="#bdbdbd" stroke-width="1.3" transform="translate(272.37,143.74) rotate(11.72)"/>
<rect x="-6.08" y="-6.08" width="12.16" height="12.16" rx="2.8" fill="url(#pg1)" stroke="#bdbdbd" stroke-width="1.3" transform="translate(139.76,181.94) rotate(46.03)"/>
<rect x="-6.05" y="-6.05" width="12.1" height="12.1" rx="2.8" fill="url(#pg2)" stroke="#bdbdbd" stroke-width="1.3" transform="translate(124.79,56.91) rotate(80.54)"/>
<rect x="-5.33" y="-5.33" width="10.65" height="10.65" rx="2.8" fill="url(#pg1)" stroke="#bdbdbd" stroke-width="1.3" transform="translate(22.99,77.87) rotate(5.97)"/>
<rect x="-5.49" y="-5.49" width="10.99" height="10.99" rx="2.8" fill="url(#pg1)" stroke="#bdbdbd" stroke-width="1.3" transform="translate(81.38,116.79) rotate(88.36)"/>
<rect x="-5.59" y="-5.59" width="11.18" height="11.18" rx="2.8" fill="url(#pg2)" stroke="#bdbdbd" stroke-width="1.3" transform="translate(384.64,229.84) rotate(72.99)"/>
<rect x="-5.99" y="-5.99" width="11.97" height="11.97" rx="2.8" fill="url(#pg2)" stroke="#bdbdbd" stroke-width="1.3" transform="translate(278.35,19.49) rotate(64.9)"/>
<rect x="-5.37" y="-5.37" width="10.73" height="10.73" rx="2.8" fill="url(#pg3)" stroke="#bdbdbd" stroke-width="1.3" transform="translate(127.78,253.8) rotate(31.58)"/>
<rect x="-5.46" y="-5.46" width="10.92" height="10.92" rx="2.8" fill="url(#pg3)" stroke="#bdbdbd" stroke-width="1.3" transform="translate(207.99,222.36) rotate(80.69)"/>
<rect x="-6.21" y="-6.21" width="12.41" height="12.41" rx="2.8" fill="url(#pg3)" stroke="#bdbdbd" stroke-width="1.3" transform="translate(381.65,219.37) rotate(41.08)"/>
<rect x="-5.8" y="-5.8" width="11.6" height="11.6" rx="2.8" fill="url(#pg2)" stroke="#bdbdbd" stroke-width="1.3" transform="translate(375.66,286.73) rotate(82.79)"/>
<rect x="-5.89" y="-5.89" width="11.78" height="11.78" rx="2.8" fill="url(#pg2)" stroke="#bdbdbd" stroke-width="1.3" transform="translate(279.85,184.93) rotate(55.43)"/>
<rect x="-5.62" y="-5.62" width="11.24" height="11.24" rx="2.8" fill="url(#pg2)" stroke="#bdbdbd" stroke-width="1.3" transform="translate(267.87,14.99) rotate(3.31)"/>
<rect x="-5.7" y="-5.7" width="11.41" height="11.41" rx="2.8" fill="url(#pg3)" stroke="#bdbdbd" stroke-width="1.3" transform="translate(324.76,244.81) rotate(57.29)"/>
<rect x="-5.98" y="-5.98" width="11.96" height="11.96" rx="2.8" fill="url(#pg2)" stroke="#bdbdbd" stroke-width="1.3" transform="translate(348.71,29.96) rotate(80.59)"/>
<rect x="-6.09" y="-6.09" width="12.18" height="12.18" rx="2.8" fill="url(#pg1)" stroke="#bdbdbd" stroke-width="1.3" transform="translate(111.32,125.77) rotate(23.79)"/>
<rect x="-5.94" y="-5.94" width="11.87" height="11.87" rx="2.8" fill="url(#pg1)" stroke="#bdbdbd" stroke-width="1.3" transform="translate(82.87,168.47) rotate(32.38)"/>
<rect x="-5.86" y="-5.86" width="11.71" height="11.71" rx="2.8" fill="url(#pg1)" stroke="#bdbdbd" stroke-width="1.3" transform="translate(198.14,184.93) rotate(52.2)"/>
<rect x="-5.55" y="-5.55" width="11.1" height="11.1" rx="2.8" fill="url(#pg1)" stroke="#bdbdbd" stroke-width="1.3" transform="translate(324.76,34.46) rotate(48.21)"/>
<rect x="-6.04" y="-6.04" width="12.08" height="12.08" rx="2.8" fill="url(#pg1)" stroke="#bdbdbd" stroke-width="1.3" transform="translate(106.83,62.9) rotate(33.43)"/>
<rect x="-6.29" y="-6.29" width="12.58" height="12.58" rx="2.8" fill="url(#pg3)" stroke="#bdbdbd" stroke-width="1.3" transform="translate(294.82,286.73) rotate(51.96)"/>
<rect x="-5.63" y="-5.63" width="11.26" height="11.26" rx="2.8" fill="url(#pg2)" stroke="#bdbdbd" stroke-width="1.3" transform="translate(287.34,171.46) rotate(7.32)"/>
<rect x="-5.48" y="-5.48" width="10.95" height="10.95" rx="2.8" fill="url(#pg1)" stroke="#bdbdbd" stroke-width="1.3" transform="translate(196.65,163.98) rotate(66.92)"/>
<rect x="-5.6" y="-5.6" width="11.19" height="11.19" rx="2.8" fill="url(#pg3)" stroke="#bdbdbd" stroke-width="1.3" transform="translate(60.42,195.41) rotate(46.45)"/>
<rect x="-5.94" y="-5.94" width="11.88" height="11.88" rx="2.8" fill="url(#pg3)" stroke="#bdbdbd" stroke-width="1.3" transform="translate(43.95,68.89) rotate(88.56)"/>
<rect x="-6.03" y="-6.03" width="12.07" height="12.07" rx="2.8" fill="url(#pg2)" stroke="#bdbdbd" stroke-width="1.3" transform="translate(118.8,256.79) rotate(67.24)"/>
<rect x="-5.45" y="-5.45" width="10.9" height="10.9" rx="2.8" fill="url(#pg1)" stroke="#bdbdbd" stroke-width="1.3" transform="translate(336.74,202.9) rotate(55.44)"/>
<rect x="-5.72" y="-5.72" width="11.44" height="11.44" rx="2.8" fill="url(#pg1)" stroke="#bdbdbd" stroke-width="1.3" transform="translate(288.83,116.79) rotate(32.77)"/>
<rect x="-5.43" y="-5.43" width="10.86" height="10.86" rx="2.8" fill="url(#pg1)" stroke="#bdbdbd" stroke-width="1.3" transform="translate(181.68,29.96) rotate(20.45)"/>
<rect x="-5.32" y="-5.32" width="10.64" height="10.64" rx="2.8" fill="url(#pg3)" stroke="#bdbdbd" stroke-width="1.3" transform="translate(240.93,189.43) rotate(0.24)"/>
<rect x="-5.6" y="-5.6" width="11.21" height="11.21" rx="2.8" fill="url(#pg2)" stroke="#bdbdbd" stroke-width="1.3" transform="translate(22.99,17.99) rotate(47.08)"/>
<rect x="-5.71" y="-5.71" width="11.43" height="11.43" rx="2.8" fill="url(#pg2)" stroke="#bdbdbd" stroke-width="1.3" transform="translate(339.73,180.44) rotate(27.1)"/>
<rect x="-5.5" y="-5.5" width="11.01" height="11.01" rx="2.8" fill="url(#pg1)" stroke="#bdbdbd" stroke-width="1.3" transform="translate(115.81,20.98) rotate(56.15)"/>
<rect x="-5.46" y="-5.46" width="10.92" height="10.92" rx="2.8" fill="url(#pg2)" stroke="#bdbdbd" stroke-width="1.3" transform="translate(269.37,180.44) rotate(1.27)"/>
<rect x="-6.01" y="-6.01" width="12.01" height="12.01" rx="2.8" fill="url(#pg1)" stroke="#bdbdbd" stroke-width="1.3" transform="translate(193.65,47.93) rotate(40.58)"/>
<rect x="-5.94" y="-5.94" width="11.88" height="11.88" rx="2.8" fill="url(#pg3)" stroke="#bdbdbd" stroke-width="1.3" transform="translate(123.29,110.8) rotate(78.42)"/>
<rect x="-5.7" y="-5.7" width="11.4" height="11.4" rx="2.8" fill="url(#pg1)" stroke="#bdbdbd" stroke-width="1.3" transform="translate(36.47,199.9) rotate(23.78)"/>
<rect x="-5.36" y="-5.36" width="10.71" height="10.71" rx="2.8" fill="url(#pg3)" stroke="#bdbdbd" stroke-width="1.3" transform="translate(37.96,143.74) rotate(73.88)"/>
<rect x="-5.89" y="-5.89" width="11.79" height="11.79" rx="2.8" fill="url(#pg1)" stroke="#bdbdbd" stroke-width="1.3" transform="translate(106.83,53.92) rotate(52.06)"/>
<rect x="-5.55" y="-5.55" width="11.1" height="11.1" rx="2.8" fill="url(#pg1)" stroke="#bdbdbd" stroke-width="1.3" transform="translate(49.94,136.25) rotate(81.32)"/>
<rect x="-5.36" y="-5.36" width="10.72" height="10.72" rx="2.8" fill="url(#pg2)" stroke="#bdbdbd" stroke-width="1.3" transform="translate(210.99,283.74) rotate(2.27)"/>
<rect x="-5.54" y="-5.54" width="11.08" height="11.08" rx="2.8" fill="url(#pg1)" stroke="#bdbdbd" stroke-width="1.3" transform="translate(202.63,226.85) rotate(5.25)"/>
<rect x="-5.31" y="-5.31" width="10.62" height="10.62" rx="2.8" fill="url(#pg2)" stroke="#bdbdbd" stroke-width="1.3" transform="translate(91.86,160.98) rotate(49.58)"/>
<rect x="-5.44" y="-5.44" width="10.88" height="10.88" rx="2.8" fill="url(#pg1)" stroke="#bdbdbd" stroke-width="1.3" transform="translate(172.69,17.99) rotate(17.96)"/>
<rect x="-6.11" y="-6.11" width="12.23" height="12.23" rx="2.8" fill="url(#pg3)" stroke="#bdbdbd" stroke-width="1.3" transform="translate(353.2,130.26) rotate(15.72)"/>
<rect x="-5.36" y="-5.36" width="10.73" height="10.73" rx="2.8" fill="url(#pg1)" stroke="#bdbdbd" stroke-width="1.3" transform="translate(371.17,103.32) rotate(56.34)"/>
<rect x="-6.02" y="-6.02" width="12.03" height="12.03" rx="2.8" fill="url(#pg1)" stroke="#bdbdbd" stroke-width="1.3" transform="translate(157.72,259.78) rotate(0.57)"/>
<rect x="-6.05" y="-6.05" width="12.09" height="12.09" rx="2.8" fill="url(#pg1)" stroke="#bdbdbd" stroke-width="1.3" transform="translate(372.66,201.4) rotate(41.87)"/>
<rect x="-5.48" y="-5.48" width="10.95" height="10.95" rx="2.8" fill="url(#pg3)" stroke="#bdbdbd" stroke-width="1.3" transform="translate(231.95,181.94) rotate(89.69)"/>
<rect x="-5.53" y="-5.53" width="11.06" height="11.06" rx="2.8" fill="url(#pg3)" stroke="#bdbdbd" stroke-width="1.3" transform="translate(103.83,32.96) rotate(3.49)"/>
<rect x="-6.19" y="-6.19" width="12.38" height="12.38" rx="2.8" fill="url(#pg3)" stroke="#bdbdbd" stroke-width="1.3" transform="translate(147.25,204.4) rotate(83.27)"/>
<rect x="-6.01" y="-6.01" width="12.02" height="12.02" rx="2.8" fill="url(#pg1)" stroke="#bdbdbd" stroke-width="1.3" transform="translate(198.14,83.86) rotate(23.94)"/>
<rect x="-5.99" y="-5.99" width="11.97" height="11.97" rx="2.8" fill="url(#pg3)" stroke="#bdbdbd" stroke-width="1.3" transform="translate(330.75,44.93) rotate(82.55)"/>
<rect x="-5.6" y="-5.6" width="11.19" height="11.19" rx="2.8" fill="url(#pg2)" stroke="#bdbdbd" stroke-width="1.3" transform="translate(309.79,128.77) rotate(83.57)"/>
<rect x="-5.39" y="-5.39" width="10.77" height="10.77" rx="2.8" fill="url(#pg2)" stroke="#bdbdbd" stroke-width="1.3" transform="translate(183.17,171.46) rotate(45.67)"/>
<rect x="-5.56" y="-5.56" width="11.12" height="11.12" rx="2.8" fill="url(#pg2)" stroke="#bdbdbd" stroke-width="1.3" transform="translate(282.84,154.99) rotate(21.25)"/>
<rect x="-6.24" y="-6.24" width="12.49" height="12.49" rx="2.8" fill="url(#pg3)" stroke="#bdbdbd" stroke-width="1.3" transform="translate(36.47,121.28) rotate(67.15)"/>
<rect x="-5.49" y="-5.49" width="10.98" height="10.98" rx="2.8" fill="url(#pg2)" stroke="#bdbdbd" stroke-width="1.3" transform="translate(46.95,16.49) rotate(34.98)"/>
<rect x="-5.68" y="-5.68" width="11.36" height="11.36" rx="2.8" fill="url(#pg1)" stroke="#bdbdbd" stroke-width="1.3" transform="translate(231.95,94.34) rotate(76.67)"/>
<rect x="-5.77" y="-5.77" width="11.54" height="11.54" rx="2.8" fill="url(#pg1)" stroke="#bdbdbd" stroke-width="1.3" transform="translate(249.91,52.42) rotate(47.76)"/>
<rect x="-6.16" y="-6.16" width="12.32" height="12.32" rx="2.8" fill="url(#pg2)" stroke="#bdbdbd" stroke-width="1.3" transform="translate(103.83,119.78) rotate(39.35)"/>
<rect x="-5.87" y="-5.87" width="11.74" height="11.74" rx="2.8" fill="url(#pg2)" stroke="#bdbdbd" stroke-width="1.3" transform="translate(109.82,160.98) rotate(27.7)"/>
<rect x="-5.69" y="-5.69" width="11.38" height="11.38" rx="2.8" fill="url(#pg2)" stroke="#bdbdbd" stroke-width="1.3" transform="translate(46.95,29.96) rotate(52.68)"/>
<rect x="-5.44" y="-5.44" width="10.89" height="10.89" rx="2.8" fill="url(#pg1)" stroke="#bdbdbd" stroke-width="1.3" transform="translate(243.92,14.99) rotate(2.42)"/>
<rect x="-5.92" y="-5.92" width="11.84" height="11.84" rx="2.8" fill="url(#pg2)" stroke="#bdbdbd" stroke-width="1.3" transform="translate(320.27,184.93) rotate(14.56)"/>
<rect x="-6" y="-6" width="12" height="12" rx="2.8" fill="url(#pg2)" stroke="#bdbdbd" stroke-width="1.3" transform="translate(255.9,160.98) rotate(2.78)"/>
<rect x="-5.99" y="-5.99" width="11.99" height="11.99" rx="2.8" fill="url(#pg1)" stroke="#bdbdbd" stroke-width="1.3" transform="translate(121.8,137.75) rotate(57.05)"/>
<rect x="-6.04" y="-6.04" width="12.07" height="12.07" rx="2.8" fill="url(#pg3)" stroke="#bdbdbd" stroke-width="1.3" transform="translate(130.78,80.86) rotate(5.92)"/>
<rect x="-5.5" y="-5.5" width="11" height="11" rx="2.8" fill="url(#pg1)" stroke="#bdbdbd" stroke-width="1.3" transform="translate(276.86,193.92) rotate(85.91)"/>
<rect x="-6.18" y="-6.18" width="12.36" height="12.36" rx="2.8" fill="url(#pg1)" stroke="#bdbdbd" stroke-width="1.3" transform="translate(202.63,119.78) rotate(68.02)"/>
<rect x="-5.41" y="-5.41" width="10.81" height="10.81" rx="2.8" fill="url(#pg1)" stroke="#bdbdbd" stroke-width="1.3" transform="translate(318.77,104.81) rotate(18.52)"/>
<rect x="-5.33" y="-5.33" width="10.67" height="10.67" rx="2.8" fill="url(#pg1)" stroke="#bdbdbd" stroke-width="1.3" transform="translate(297.81,107.81) rotate(85.43)"/>
<rect x="-6.13" y="-6.13" width="12.25" height="12.25" rx="2.8" fill="url(#pg3)" stroke="#bdbdbd" stroke-width="1.3" transform="translate(227.46,134.75) rotate(56.84)"/>
<rect x="-5.78" y="-5.78" width="11.55" height="11.55" rx="2.8" fill="url(#pg2)" stroke="#bdbdbd" stroke-width="1.3" transform="translate(193.65,235.83) rotate(11.94)"/>
<rect x="-5.59" y="-5.59" width="11.19" height="11.19" rx="2.8" fill="url(#pg3)" stroke="#bdbdbd" stroke-width="1.3" transform="translate(199.64,216.37) rotate(30.29)"/>
<rect x="-5.32" y="-5.32" width="10.64" height="10.64" rx="2.8" fill="url(#pg3)" stroke="#bdbdbd" stroke-width="1.3" transform="translate(60.42,183.44) rotate(23.1)"/>
<rect x="-5.35" y="-5.35" width="10.7" height="10.7" rx="2.8" fill="url(#pg3)" stroke="#bdbdbd" stroke-width="1.3" transform="translate(37.96,97.33) rotate(68.39)"/>
<rect x="-6.07" y="-6.07" width="12.14" height="12.14" rx="2.8" fill="url(#pg1)" stroke="#bdbdbd" stroke-width="1.3" transform="translate(210.99,95.83) rotate(54.18)"/>
<rect x="-6.15" y="-6.15" width="12.3" height="12.3" rx="2.8" fill="url(#pg1)" stroke="#bdbdbd" stroke-width="1.3" transform="translate(187.66,196.91) rotate(55.64)"/>
<rect x="-6.09" y="-6.09" width="12.18" height="12.18" rx="2.8" fill="url(#pg1)" stroke="#bdbdbd" stroke-width="1.3" transform="translate(377.16,112.3) rotate(2.81)"/>
<rect x="-5.65" y="-5.65" width="11.29" height="11.29" rx="2.8" fill="url(#pg2)" stroke="#bdbdbd" stroke-width="1.3" transform="translate(308.29,175.95) rotate(63.42)"/>
<rect x="-6.01" y="-6.01" width="12.03" height="12.03" rx="2.8" fill="url(#pg3)" stroke="#bdbdbd" stroke-width="1.3" transform="translate(135.27,110.8) rotate(74.5)"/>
<rect x="-5.47" y="-5.47" width="10.94" height="10.94" rx="2.8" fill="url(#pg2)" stroke="#bdbdbd" stroke-width="1.3" transform="translate(210.99,217.87) rotate(0.12)"/>
<rect x="-5.59" y="-5.59" width="11.18" height="11.18" rx="2.8" fill="url(#pg1)" stroke="#bdbdbd" stroke-width="1.3" transform="translate(264.88,165.47) rotate(67.55)"/>
<rect x="-5.3" y="-5.3" width="10.61" height="10.61" rx="2.8" fill="url(#pg1)" stroke="#bdbdbd" stroke-width="1.3" transform="translate(348.71,118.29) rotate(44.17)"/>
<rect x="-6" y="-6" width="11.99" height="11.99" rx="2.8" fill="url(#pg1)" stroke="#bdbdbd" stroke-width="1.3" transform="translate(378.65,168.47) rotate(74.28)"/>
<rect x="-5.89" y="-5.89" width="11.79" height="11.79" rx="2.8" fill="url(#pg3)" stroke="#bdbdbd" stroke-width="1.3" transform="translate(272.37,41.94) rotate(86.15)"/>
<rect x="-5.88" y="-5.88" width="11.76" height="11.76" rx="2.8" fill="url(#pg2)" stroke="#bdbdbd" stroke-width="1.3" transform="translate(190.66,94.34) rotate(14.3)"/>
<rect x="-6.24" y="-6.24" width="12.48" height="12.48" rx="2.8" fill="url(#pg2)" stroke="#bdbdbd" stroke-width="1.3" transform="translate(297.81,171.46) rotate(20.84)"/>
<rect x="-5.41" y="-5.41" width="10.82" height="10.82" rx="2.8" fill="url(#pg1)" stroke="#bdbdbd" stroke-width="1.3" transform="translate(169.7,134.75) rotate(57.29)"/>
<rect x="-5.79" y="-5.79" width="11.58" height="11.58" rx="2.8" fill="url(#pg1)" stroke="#bdbdbd" stroke-width="1.3" transform="translate(329.25,252.3) rotate(89.2)"/>
<rect x="-5.93" y="-5.93" width="11.86" height="11.86" rx="2.8" fill="url(#pg1)" stroke="#bdbdbd" stroke-width="1.3" transform="translate(123.29,183.44) rotate(32.01)"/>
<rect x="-6.23" y="-6.23" width="12.46" height="12.46" rx="2.8" fill="url(#pg1)" stroke="#bdbdbd" stroke-width="1.3" transform="translate(196.65,17.99) rotate(80.27)"/>
<rect x="-5.72" y="-5.72" width="11.44" height="11.44" rx="2.8" fill="url(#pg3)" stroke="#bdbdbd" stroke-width="1.3" transform="translate(141.26,262.78) rotate(58.13)"/>
<rect x="-5.51" y="-5.51" width="11.01" height="11.01" rx="2.8" fill="url(#pg2)" stroke="#bdbdbd" stroke-width="1.3" transform="translate(145.75,113.8) rotate(23.69)"/>
<rect x="-5.68" y="-5.68" width="11.36" height="11.36" rx="2.8" fill="url(#pg2)" stroke="#bdbdbd" stroke-width="1.3" transform="translate(300.81,97.33) rotate(79.56)"/>
<rect x="-6.24" y="-6.24" width="12.49" height="12.49" rx="2.8" fill="url(#pg1)" stroke="#bdbdbd" stroke-width="1.3" transform="translate(64.91,247.81) rotate(11.42)"/>
<rect x="-5.65" y="-5.65" width="11.3" height="11.3" rx="2.8" fill="url(#pg2)" stroke="#bdbdbd" stroke-width="1.3" transform="translate(52.19,40.44) rotate(29.4)"/>
<rect x="-6.17" y="-6.17" width="12.34" height="12.34" rx="2.8" fill="url(#pg3)" stroke="#bdbdbd" stroke-width="1.3" transform="translate(281.35,79.37) rotate(40.53)"/>
<rect x="-5.47" y="-5.47" width="10.94" height="10.94" rx="2.8" fill="url(#pg3)" stroke="#bdbdbd" stroke-width="1.3" transform="translate(338.23,115.29) rotate(39.49)"/>
<rect x="-5.88" y="-5.88" width="11.76" height="11.76" rx="2.8" fill="url(#pg1)" stroke="#bdbdbd" stroke-width="1.3" transform="translate(219.97,101.82) rotate(11.35)"/>
<rect x="-5.94" y="-5.94" width="11.89" height="11.89" rx="2.8" fill="url(#pg2)" stroke="#bdbdbd" stroke-width="1.3" transform="translate(31.98,226.85) rotate(62.69)"/>
<rect x="-5.57" y="-5.57" width="11.13" height="11.13" rx="2.8" fill="url(#pg2)" stroke="#bdbdbd" stroke-width="1.3" transform="translate(369.67,186.43) rotate(67.93)"/>
<rect x="-6.02" y="-6.02" width="12.05" height="12.05" rx="2.8" fill="url(#pg3)" stroke="#bdbdbd" stroke-width="1.3" transform="translate(209.49,157.99) rotate(87.73)"/>
<rect x="-5.9" y="-5.9" width="11.81" height="11.81" rx="2.8" fill="url(#pg2)" stroke="#bdbdbd" stroke-width="1.3" transform="translate(383.14,28.47) rotate(31.38)"/>
<rect x="-5.63" y="-5.63" width="11.26" height="11.26" rx="2.8" fill="url(#pg1)" stroke="#bdbdbd" stroke-width="1.3" transform="translate(377.16,189.43) rotate(17.03)"/>
<rect x="-5.46" y="-5.46" width="10.93" height="10.93" rx="2.8" fill="url(#pg2)" stroke="#bdbdbd" stroke-width="1.3" transform="translate(90.36,31.46) rotate(59.21)"/>
<rect x="-5.68" y="-5.68" width="11.37" height="11.37" rx="2.8" fill="url(#pg3)" stroke="#bdbdbd" stroke-width="1.3" transform="translate(54.43,286.73) rotate(88.54)"/>
<rect x="-6.03" y="-6.03" width="12.07" height="12.07" rx="2.8" fill="url(#pg2)" stroke="#bdbdbd" stroke-width="1.3" transform="translate(215.48,71.88) rotate(39.14)"/>
<rect x="-5.41" y="-5.41" width="10.82" height="10.82" rx="2.8" fill="url(#pg3)" stroke="#bdbdbd" stroke-width="1.3" transform="translate(147.25,19.49) rotate(82.03)"/>
<rect x="-5.51" y="-5.51" width="11.01" height="11.01" rx="2.8" fill="url(#pg1)" stroke="#bdbdbd" stroke-width="1.3" transform="translate(363.68,243.32) rotate(34.95)"/>
<rect x="-5.31" y="-5.31" width="10.63" height="10.63" rx="2.8" fill="url(#pg1)" stroke="#bdbdbd" stroke-width="1.3" transform="translate(46.95,253.8) rotate(76.89)"/>
<rect x="-5.99" y="-5.99" width="11.99" height="11.99" rx="2.8" fill="url(#pg3)" stroke="#bdbdbd" stroke-width="1.3" transform="translate(84.37,277.75) rotate(45.04)"/>
<rect x="-5.76" y="-5.76" width="11.53" height="11.53" rx="2.8" fill="url(#pg1)" stroke="#bdbdbd" stroke-width="1.3" transform="translate(302.31,256.79) rotate(12.76)"/>
<rect x="-5.31" y="-5.31" width="10.61" height="10.61" rx="2.8" fill="url(#pg1)" stroke="#bdbdbd" stroke-width="1.3" transform="translate(177.19,238.83) rotate(21.81)"/>
<rect x="-6" y="-6" width="12" height="12" rx="2.8" fill="url(#pg1)" stroke="#bdbdbd" stroke-width="1.3" transform="translate(299.31,86.85) rotate(52.87)"/>
<rect x="-6.15" y="-6.15" width="12.29" height="12.29" rx="2.8" fill="url(#pg2)" stroke="#bdbdbd" stroke-width="1.3" transform="translate(365.18,77.87) rotate(60.11)"/>
<rect x="-5.98" y="-5.98" width="11.96" height="11.96" rx="2.8" fill="url(#pg1)" stroke="#bdbdbd" stroke-width="1.3" transform="translate(257.4,249.31) rotate(57.74)"/>
<rect x="-5.73" y="-5.73" width="11.47" height="11.47" rx="2.8" fill="url(#pg1)" stroke="#bdbdbd" stroke-width="1.3" transform="translate(108.32,258.29) rotate(23.38)"/>
<rect x="-6.19" y="-6.19" width="12.39" height="12.39" rx="2.8" fill="url(#pg1)" stroke="#bdbdbd" stroke-width="1.3" transform="translate(323.26,220.86) rotate(21.82)"/>
<rect x="-6.01" y="-6.01" width="12.03" height="12.03" rx="2.8" fill="url(#pg3)" stroke="#bdbdbd" stroke-width="1.3" transform="translate(117.31,65.89) rotate(56.67)"/>
<rect x="-6.15" y="-6.15" width="12.3" height="12.3" rx="2.8" fill="url(#pg1)" stroke="#bdbdbd" stroke-width="1.3" transform="translate(251.41,171.46) rotate(43.45)"/>
<rect x="-5.92" y="-5.92" width="11.84" height="11.84" rx="2.8" fill="url(#pg2)" stroke="#bdbdbd" stroke-width="1.3" transform="translate(40.96,79.37) rotate(36.84)"/>
<rect x="-6.19" y="-6.19" width="12.39" height="12.39" rx="2.8" fill="url(#pg1)" stroke="#bdbdbd" stroke-width="1.3" transform="translate(234.94,146.73) rotate(29.52)"/>
<rect x="-5.69" y="-5.69" width="11.38" height="11.38" rx="2.8" fill="url(#pg1)" stroke="#bdbdbd" stroke-width="1.3" transform="translate(106.83,174.46) rotate(44.09)"/>
<rect x="-5.34" y="-5.34" width="10.68" height="10.68" rx="2.8" fill="url(#pg2)" stroke="#bdbdbd" stroke-width="1.3" transform="translate(230.45,288.23) rotate(48.9)"/>
<rect x="-6.02" y="-6.02" width="12.03" height="12.03" rx="2.8" fill="url(#pg2)" stroke="#bdbdbd" stroke-width="1.3" transform="translate(294.82,183.44) rotate(85.62)"/>
<rect x="-5.82" y="-5.82" width="11.64" height="11.64" rx="2.8" fill="url(#pg1)" stroke="#bdbdbd" stroke-width="1.3" transform="translate(127.78,103.32) rotate(9.1)"/>
<rect x="-5.84" y="-5.84" width="11.68" height="11.68" rx="2.8" fill="url(#pg1)" stroke="#bdbdbd" stroke-width="1.3" transform="translate(333.74,225.35) rotate(64.56)"/>
<rect x="-5.94" y="-5.94" width="11.88" height="11.88" rx="2.8" fill="url(#pg3)" stroke="#bdbdbd" stroke-width="1.3" transform="translate(141.26,193.92) rotate(74.61)"/>
<rect x="-5.71" y="-5.71" width="11.42" height="11.42" rx="2.8" fill="url(#pg2)" stroke="#bdbdbd" stroke-width="1.3" transform="translate(354.7,201.4) rotate(85.32)"/>
<rect x="-6.29" y="-6.29" width="12.58" height="12.58" rx="2.8" fill="url(#pg1)" stroke="#bdbdbd" stroke-width="1.3" transform="translate(264.88,280.74) rotate(16.54)"/>
<rect x="-6.03" y="-6.03" width="12.06" height="12.06" rx="2.8" fill="url(#pg1)" stroke="#bdbdbd" stroke-width="1.3" transform="translate(148.74,256.79) rotate(55.26)"/>
<rect x="-5.55" y="-5.55" width="11.1" height="11.1" rx="2.8" fill="url(#pg1)" stroke="#bdbdbd" stroke-width="1.3" transform="translate(252.9,79.37) rotate(34.37)"/>
<rect x="-5.31" y="-5.31" width="10.63" height="10.63" rx="2.8" fill="url(#pg1)" stroke="#bdbdbd" stroke-width="1.3" transform="translate(37.96,232.84) rotate(37.67)"/>
<rect x="-5.93" y="-5.93" width="11.86" height="11.86" rx="2.8" fill="url(#pg3)" stroke="#bdbdbd" stroke-width="1.3" transform="translate(359.19,61.4) rotate(60.74)"/>
<rect x="-5.41" y="-5.41" width="10.82" height="10.82" rx="2.8" fill="url(#pg1)" stroke="#bdbdbd" stroke-width="1.3" transform="translate(127.78,169.96) rotate(27.31)"/>
<rect x="-6.24" y="-6.24" width="12.48" height="12.48" rx="2.8" fill="url(#pg2)" stroke="#bdbdbd" stroke-width="1.3" transform="translate(171.2,160.98) rotate(47.44)"/>
<rect x="-6.29" y="-6.29" width="12.59" height="12.59" rx="2.8" fill="url(#pg1)" stroke="#bdbdbd" stroke-width="1.3" transform="translate(282.84,232.84) rotate(86.48)"/>
<rect x="-5.51" y="-5.51" width="11.02" height="11.02" rx="2.8" fill="url(#pg1)" stroke="#bdbdbd" stroke-width="1.3" transform="translate(94.85,268.77) rotate(11.64)"/>
<rect x="-6.11" y="-6.11" width="12.22" height="12.22" rx="2.8" fill="url(#pg1)" stroke="#bdbdbd" stroke-width="1.3" transform="translate(118.8,77.87) rotate(57.09)"/>
<rect x="-5.94" y="-5.94" width="11.88" height="11.88" rx="2.8" fill="url(#pg2)" stroke="#bdbdbd" stroke-width="1.3" transform="translate(266.38,25.47) rotate(64.86)"/>
<rect x="-5.65" y="-5.65" width="11.31" height="11.31" rx="2.8" fill="url(#pg1)" stroke="#bdbdbd" stroke-width="1.3" transform="translate(294.82,156.49) rotate(57.49)"/>
<rect x="-5.77" y="-5.77" width="11.54" height="11.54" rx="2.8" fill="url(#pg2)" stroke="#bdbdbd" stroke-width="1.3" transform="translate(348.71,181.94) rotate(26.49)"/>
<rect x="-6.08" y="-6.08" width="12.16" height="12.16" rx="2.8" fill="url(#pg2)" stroke="#bdbdbd" stroke-width="1.3" transform="translate(260.39,41.94) rotate(42.25)"/>
<rect x="-5.57" y="-5.57" width="11.13" height="11.13" rx="2.8" fill="url(#pg3)" stroke="#bdbdbd" stroke-width="1.3" transform="translate(338.23,29.96) rotate(33.85)"/>
<rect x="-6.28" y="-6.28" width="12.57" height="12.57" rx="2.8" fill="url(#pg1)" stroke="#bdbdbd" stroke-width="1.3" transform="translate(275.36,116.79) rotate(61.09)"/>
<rect x="-5.3" y="-5.3" width="10.61" height="10.61" rx="2.8" fill="url(#pg3)" stroke="#bdbdbd" stroke-width="1.3" transform="translate(31.98,250.8) rotate(64.96)"/>
<rect x="-5.66" y="-5.66" width="11.32" height="11.32" rx="2.8" fill="url(#pg3)" stroke="#bdbdbd" stroke-width="1.3" transform="translate(368.17,177.45) rotate(58.9)"/>
<rect x="-5.78" y="-5.78" width="11.56" height="11.56" rx="2.8" fill="url(#pg1)" stroke="#bdbdbd" stroke-width="1.3" transform="translate(25.99,259.78) rotate(38.56)"/>
<rect x="-5.96" y="-5.96" width="11.92" height="11.92" rx="2.8" fill="url(#pg3)" stroke="#bdbdbd" stroke-width="1.3" transform="translate(303.8,37.45) rotate(32.62)"/>
<rect x="-6.15" y="-6.15" width="12.31" height="12.31" rx="2.8" fill="url(#pg3)" stroke="#bdbdbd" stroke-width="1.3" transform="translate(70.9,153.5) rotate(5.14)"/>
<rect x="-6.08" y="-6.08" width="12.17" height="12.17" rx="2.8" fill="url(#pg3)" stroke="#bdbdbd" stroke-width="1.3" transform="translate(172.69,169.96) rotate(12.64)"/>
<rect x="-5.93" y="-5.93" width="11.87" height="11.87" rx="2.8" fill="url(#pg1)" stroke="#bdbdbd" stroke-width="1.3" transform="translate(249.91,199.9) rotate(1.35)"/>
<rect x="-5.51" y="-5.51" width="11.02" height="11.02" rx="2.8" fill="url(#pg3)" stroke="#bdbdbd" stroke-width="1.3" transform="translate(133.77,165.47) rotate(6.48)"/>
<rect x="-5.55" y="-5.55" width="11.1" height="11.1" rx="2.8" fill="url(#pg2)" stroke="#bdbdbd" stroke-width="1.3" transform="translate(25.99,143.74) rotate(9.14)"/>
<rect x="-6.15" y="-6.15" width="12.31" height="12.31" rx="2.8" fill="url(#pg1)" stroke="#bdbdbd" stroke-width="1.3" transform="translate(199.64,247.81) rotate(16.71)"/>
<rect x="-5.65" y="-5.65" width="11.29" height="11.29" rx="2.8" fill="url(#pg1)" stroke="#bdbdbd" stroke-width="1.3" transform="translate(371.17,219.37) rotate(13.74)"/>
<rect x="-6.09" y="-6.09" width="12.18" height="12.18" rx="2.8" fill="url(#pg1)" stroke="#bdbdbd" stroke-width="1.3" transform="translate(115.81,243.32) rotate(15.11)"/>
<rect x="-5.97" y="-5.97" width="11.94" height="11.94" rx="2.8" fill="url(#pg3)" stroke="#bdbdbd" stroke-width="1.3" transform="translate(100.84,35.95) rotate(80.45)"/>
<rect x="-5.5" y="-5.5" width="10.99" height="10.99" rx="2.8" fill="url(#pg1)" stroke="#bdbdbd" stroke-width="1.3" transform="translate(306.8,186.43) rotate(62.35)"/>
<rect x="-6.04" y="-6.04" width="12.08" height="12.08" rx="2.8" fill="url(#pg1)" stroke="#bdbdbd" stroke-width="1.3" transform="translate(177.19,189.43) rotate(39.47)"/>
<rect x="-5.86" y="-5.86" width="11.71" height="11.71" rx="2.8" fill="url(#pg2)" stroke="#bdbdbd" stroke-width="1.3" transform="translate(162.22,31.46) rotate(23.8)"/>
<rect x="-6.13" y="-6.13" width="12.25" height="12.25" rx="2.8" fill="url(#pg1)" stroke="#bdbdbd" stroke-width="1.3" transform="translate(278.35,130.26) rotate(42.59)"/>
<rect x="-5.78" y="-5.78" width="11.57" height="11.57" rx="2.8" fill="url(#pg1)" stroke="#bdbdbd" stroke-width="1.3" transform="translate(42.46,127.27) rotate(81.49)"/>
<rect x="-5.55" y="-5.55" width="11.09" height="11.09" rx="2.8" fill="url(#pg1)" stroke="#bdbdbd" stroke-width="1.3" transform="translate(166.71,285.23) rotate(14.82)"/>
<rect x="-5.46" y="-5.46" width="10.92" height="10.92" rx="2.8" fill="url(#pg1)" stroke="#bdbdbd" stroke-width="1.3" transform="translate(345.72,204.4) rotate(28.86)"/>
<rect x="-5.97" y="-5.97" width="11.93" height="11.93" rx="2.8" fill="url(#pg3)" stroke="#bdbdbd" stroke-width="1.3" transform="translate(97.84,280.74) rotate(75.65)"/>
<rect x="-5.73" y="-5.73" width="11.45" height="11.45" rx="2.8" fill="url(#pg1)" stroke="#bdbdbd" stroke-width="1.3" transform="translate(190.66,28.47) rotate(90)"/>
<rect x="-5.48" y="-5.48" width="10.96" height="10.96" rx="2.8" fill="url(#pg1)" stroke="#bdbdbd" stroke-width="1.3" transform="translate(127.78,119.78) rotate(32.43)"/>
<rect x="-5.32" y="-5.32" width="10.64" height="10.64" rx="2.8" fill="url(#pg3)" stroke="#bdbdbd" stroke-width="1.3" transform="translate(260.39,205.89) rotate(4.13)"/>
<rect x="-6.11" y="-6.11" width="12.22" height="12.22" rx="2.8" fill="url(#pg1)" stroke="#bdbdbd" stroke-width="1.3" transform="translate(130.78,232.84) rotate(8.46)"/>
<rect x="-5.78" y="-5.78" width="11.57" height="11.57" rx="2.8" fill="url(#pg1)" stroke="#bdbdbd" stroke-width="1.3" transform="translate(374.16,14.99) rotate(80.78)"/>
<rect x="-5.51" y="-5.51" width="11.03" height="11.03" rx="2.8" fill="url(#pg2)" stroke="#bdbdbd" stroke-width="1.3" transform="translate(99.34,253.8) rotate(37.4)"/>
<rect x="-5.64" y="-5.64" width="11.28" height="11.28" rx="2.8" fill="url(#pg3)" stroke="#bdbdbd" stroke-width="1.3" transform="translate(201.14,34.46) rotate(77.55)"/>
<rect x="-5.64" y="-5.64" width="11.28" height="11.28" rx="2.8" fill="url(#pg2)" stroke="#bdbdbd" stroke-width="1.3" transform="translate(165.21,178.95) rotate(70.07)"/>
<rect x="-5.58" y="-5.58" width="11.17" height="11.17" rx="2.8" fill="url(#pg3)" stroke="#bdbdbd" stroke-width="1.3" transform="translate(25.99,116.79) rotate(30.78)"/>
<rect x="-5.85" y="-5.85" width="11.71" height="11.71" rx="2.8" fill="url(#pg3)" stroke="#bdbdbd" stroke-width="1.3" transform="translate(387.63,247.81) rotate(74.41)"/>
<rect x="-5.66" y="-5.66" width="11.31" height="11.31" rx="2.8" fill="url(#pg3)" stroke="#bdbdbd" stroke-width="1.3" transform="translate(246.92,68.89) rotate(44.44)"/>
<rect x="-5.8" y="-5.8" width="11.61" height="11.61" rx="2.8" fill="url(#pg3)" stroke="#bdbdbd" stroke-width="1.3" transform="translate(202.63,74.87) rotate(24.45)"/>
<rect x="-6.27" y="-6.27" width="12.55" height="12.55" rx="2.8" fill="url(#pg1)" stroke="#bdbdbd" stroke-width="1.3" transform="translate(129.28,223.86) rotate(58.91)"/>
<rect x="-5.63" y="-5.63" width="11.26" height="11.26" rx="2.8" fill="url(#pg3)" stroke="#bdbdbd" stroke-width="1.3" transform="translate(84.37,22.48) rotate(28.54)"/>
<rect x="-5.43" y="-5.43" width="10.86" height="10.86" rx="2.8" fill="url(#pg1)" stroke="#bdbdbd" stroke-width="1.3" transform="translate(186.17,137.75) rotate(87.55)"/>
<rect x="-6.08" y="-6.08" width="12.17" height="12.17" rx="2.8" fill="url(#pg1)" stroke="#bdbdbd" stroke-width="1.3" transform="translate(106.83,19.49) rotate(3.6)"/>
<rect x="-5.85" y="-5.85" width="11.69" height="11.69" rx="2.8" fill="url(#pg3)" stroke="#bdbdbd" stroke-width="1.3" transform="translate(360.69,115.29) rotate(4.47)"/>
<rect x="-5.41" y="-5.41" width="10.82" height="10.82" rx="2.8" fill="url(#pg1)" stroke="#bdbdbd" stroke-width="1.3" transform="translate(121.8,288.23) rotate(4.18)"/>
<rect x="-5.91" y="-5.91" width="11.82" height="11.82" rx="2.8" fill="url(#pg1)" stroke="#bdbdbd" stroke-width="1.3" transform="translate(103.83,273.26) rotate(59.22)"/>
<rect x="-5.92" y="-5.92" width="11.83" height="11.83" rx="2.8" fill="url(#pg1)" stroke="#bdbdbd" stroke-width="1.3" transform="translate(124.79,46.43) rotate(56.41)"/>
<rect x="-5.51" y="-5.51" width="11.03" height="11.03" rx="2.8" fill="url(#pg1)" stroke="#bdbdbd" stroke-width="1.3" transform="translate(387.63,214.87) rotate(60.03)"/>
<rect x="-5.93" y="-5.93" width="11.85" height="11.85" rx="2.8" fill="url(#pg2)" stroke="#bdbdbd" stroke-width="1.3" transform="translate(151.74,271.76) rotate(15.65)"/>
<rect x="-6.17" y="-6.17" width="12.34" height="12.34" rx="2.8" fill="url(#pg1)" stroke="#bdbdbd" stroke-width="1.3" transform="translate(163.71,274.75) rotate(37.94)"/>
<rect x="-6.21" y="-6.21" width="12.43" height="12.43" rx="2.8" fill="url(#pg3)" stroke="#bdbdbd" stroke-width="1.3" transform="translate(195.15,143.74) rotate(59.01)"/>
<rect x="-6.17" y="-6.17" width="12.34" height="12.34" rx="2.8" fill="url(#pg3)" stroke="#bdbdbd" stroke-width="1.3" transform="translate(186.17,83.86) rotate(12.48)"/>
<rect x="-5.86" y="-5.86" width="11.72" height="11.72" rx="2.8" fill="url(#pg3)" stroke="#bdbdbd" stroke-width="1.3" transform="translate(124.79,244.81) rotate(23.22)"/>
<rect x="-5.48" y="-5.48" width="10.97" height="10.97" rx="2.8" fill="url(#pg1)" stroke="#bdbdbd" stroke-width="1.3" transform="translate(129.28,38.95) rotate(3.08)"/>
<rect x="-5.73" y="-5.73" width="11.46" height="11.46" rx="2.8" fill="url(#pg1)" stroke="#bdbdbd" stroke-width="1.3" transform="translate(45.45,157.99) rotate(57.76)"/>
<rect x="-5.8" y="-5.8" width="11.6" height="11.6" rx="2.8" fill="url(#pg1)" stroke="#bdbdbd" stroke-width="1.3" transform="translate(100.84,222.36) rotate(46.99)"/>
<rect x="-6.07" y="-6.07" width="12.15" height="12.15" rx="2.8" fill="url(#pg1)" stroke="#bdbdbd" stroke-width="1.3" transform="translate(136.77,16.49) rotate(37.9)"/>
<rect x="-5.75" y="-5.75" width="11.49" height="11.49" rx="2.8" fill="url(#pg1)" stroke="#bdbdbd" stroke-width="1.3" transform="translate(254.4,28.47) rotate(1.27)"/>
<rect x="-5.89" y="-5.89" width="11.79" height="11.79" rx="2.8" fill="url(#pg2)" stroke="#bdbdbd" stroke-width="1.3" transform="translate(114.31,58.41) rotate(89.38)"/>
<rect x="-5.78" y="-5.78" width="11.55" height="11.55" rx="2.8" fill="url(#pg1)" stroke="#bdbdbd" stroke-width="1.3" transform="translate(213.98,146.73) rotate(37.12)"/>
<rect x="-5.38" y="-5.38" width="10.77" height="10.77" rx="2.8" fill="url(#pg2)" stroke="#bdbdbd" stroke-width="1.3" transform="translate(48.44,192.42) rotate(42.5)"/>
<rect x="-5.93" y="-5.93" width="11.85" height="11.85" rx="2.8" fill="url(#pg1)" stroke="#bdbdbd" stroke-width="1.3" transform="translate(106.83,85.35) rotate(38.43)"/>
<rect x="-5.98" y="-5.98" width="11.97" height="11.97" rx="2.8" fill="url(#pg1)" stroke="#bdbdbd" stroke-width="1.3" transform="translate(51.44,59.9) rotate(10.95)"/>
<rect x="-5.52" y="-5.52" width="11.04" height="11.04" rx="2.8" fill="url(#pg1)" stroke="#bdbdbd" stroke-width="1.3" transform="translate(84.37,146.73) rotate(10.92)"/>
<rect x="-5.32" y="-5.32" width="10.64" height="10.64" rx="2.8" fill="url(#pg2)" stroke="#bdbdbd" stroke-width="1.3" transform="translate(145.75,174.46) rotate(64.74)"/>
<rect x="-5.75" y="-5.75" width="11.5" height="11.5" rx="2.8" fill="url(#pg1)" stroke="#bdbdbd" stroke-width="1.3" transform="translate(127.78,28.47) rotate(66.98)"/>
<rect x="-5.67" y="-5.67" width="11.33" height="11.33" rx="2.8" fill="url(#pg2)" stroke="#bdbdbd" stroke-width="1.3" transform="translate(90.36,286.73) rotate(67.25)"/>
<rect x="-6.03" y="-6.03" width="12.06" height="12.06" rx="2.8" fill="url(#pg1)" stroke="#bdbdbd" stroke-width="1.3" transform="translate(285.84,125.77) rotate(7.59)"/>
<rect x="-5.76" y="-5.76" width="11.52" height="11.52" rx="2.8" fill="url(#pg3)" stroke="#bdbdbd" stroke-width="1.3" transform="translate(157.72,14.99) rotate(83.91)"/>
<rect x="-6.21" y="-6.21" width="12.43" height="12.43" rx="2.8" fill="url(#pg1)" stroke="#bdbdbd" stroke-width="1.3" transform="translate(193.65,174.46) rotate(4.74)"/>
<rect x="-5.31" y="-5.31" width="10.62" height="10.62" rx="2.8" fill="url(#pg1)" stroke="#bdbdbd" stroke-width="1.3" transform="translate(387.63,202.9) rotate(1.33)"/>
<rect x="-5.69" y="-5.69" width="11.38" height="11.38" rx="2.8" fill="url(#pg2)" stroke="#bdbdbd" stroke-width="1.3" transform="translate(136.77,59.9) rotate(28.12)"/>
<rect x="-6.26" y="-6.26" width="12.52" height="12.52" rx="2.8" fill="url(#pg1)" stroke="#bdbdbd" stroke-width="1.3" transform="translate(94.85,28.47) rotate(75.14)"/>
<rect x="-5.62" y="-5.62" width="11.23" height="11.23" rx="2.8" fill="url(#pg1)" stroke="#bdbdbd" stroke-width="1.3" transform="translate(230.45,156.49) rotate(85.39)"/>
<rect x="-5.77" y="-5.77" width="11.54" height="11.54" rx="2.8" fill="url(#pg1)" stroke="#bdbdbd" stroke-width="1.3" transform="translate(359.19,101.82) rotate(14.98)"/>
<rect x="-5.66" y="-5.66" width="11.33" height="11.33" rx="2.8" fill="url(#pg1)" stroke="#bdbdbd" stroke-width="1.3" transform="translate(63.41,115.29) rotate(58.04)"/>
<rect x="-5.78" y="-5.78" width="11.55" height="11.55" rx="2.8" fill="url(#pg1)" stroke="#bdbdbd" stroke-width="1.3" transform="translate(336.74,53.92) rotate(70.03)"/>
</g></g>
<rect x="33.5" y="278.3" width="43.2" height="4.6" fill="#000" stroke="none" stroke-width="1" />
<text x="30.5" y="270.3" font-size="15.5" text-anchor="start" font-weight="normal" fill="#000" font-family='"Liberation Sans", sans-serif' >200nm</text>
<defs><clipPath id="clipB"><rect x="441.7" y="14.1" width="370.1" height="286.9"/></clipPath><filter id="blurB" x="-5%" y="-5%" width="110%" height="110%"><feGaussianBlur stdDeviation="1.0"/></filter></defs>
<rect x="441.7" y="14.1" width="370.1" height="286.9" fill="#a1a1a1" stroke="none" stroke-width="1" />
<g clip-path="url(#clipB)"><g filter="url(#blurB)">
<circle cx="447.02" cy="20.02" r="10.93" fill="#bababa" opacity="0.75"/>
<circle cx="460.56" cy="17.01" r="10.93" fill="#bababa" opacity="0.75"/>
<circle cx="477.12" cy="17.01" r="10.93" fill="#bababa" opacity="0.75"/>
<circle cx="492.17" cy="18.51" r="10.93" fill="#bababa" opacity="0.75"/>
<circle cx="508.72" cy="15.5" r="9.97" fill="#bababa" opacity="0.75"/>
<circle cx="528.28" cy="17.01" r="9.01" fill="#bababa" opacity="0.75"/>
<circle cx="463.57" cy="32.06" r="12.86" fill="#bababa" opacity="0.75"/>
<circle cx="450.03" cy="38.08" r="9.97" fill="#bababa" opacity="0.75"/>
<circle cx="453.04" cy="53.13" r="11.89" fill="#bababa" opacity="0.75"/>
<circle cx="465.08" cy="42.59" r="9.01" fill="#bababa" opacity="0.75"/>
<circle cx="474.11" cy="59.15" r="10.93" fill="#bababa" opacity="0.75"/>
<circle cx="450.03" cy="68.18" r="11.89" fill="#bababa" opacity="0.75"/>
<circle cx="460.56" cy="63.66" r="9.97" fill="#bababa" opacity="0.75"/>
<circle cx="507.22" cy="57.64" r="15.75" fill="#bababa" opacity="0.75"/>
<circle cx="511.73" cy="51.62" r="11.89" fill="#bababa" opacity="0.75"/>
<circle cx="487.65" cy="78.71" r="14.78" fill="#bababa" opacity="0.75"/>
<circle cx="478.62" cy="101.28" r="13.82" fill="#bababa" opacity="0.75"/>
<circle cx="495.18" cy="96.77" r="10.93" fill="#bababa" opacity="0.75"/>
<circle cx="507.22" cy="104.29" r="12.86" fill="#bababa" opacity="0.75"/>
<circle cx="525.27" cy="33.56" r="11.89" fill="#bababa" opacity="0.75"/>
<circle cx="534.3" cy="44.1" r="11.89" fill="#bababa" opacity="0.75"/>
<circle cx="531.29" cy="53.13" r="10.93" fill="#bababa" opacity="0.75"/>
<circle cx="531.29" cy="69.68" r="9.97" fill="#bababa" opacity="0.75"/>
<circle cx="546.34" cy="77.21" r="12.86" fill="#bababa" opacity="0.75"/>
<circle cx="553.87" cy="53.13" r="11.89" fill="#bababa" opacity="0.75"/>
<circle cx="549.35" cy="63.66" r="9.97" fill="#bababa" opacity="0.75"/>
<circle cx="556.88" cy="87.74" r="9.97" fill="#bababa" opacity="0.75"/>
<circle cx="564.4" cy="98.27" r="11.89" fill="#bababa" opacity="0.75"/>
<circle cx="571.93" cy="59.15" r="10.93" fill="#bababa" opacity="0.75"/>
<circle cx="580.95" cy="45.6" r="11.89" fill="#bababa" opacity="0.75"/>
<circle cx="585.47" cy="71.19" r="10.93" fill="#bababa" opacity="0.75"/>
<circle cx="594.5" cy="60.65" r="10.93" fill="#bababa" opacity="0.75"/>
<circle cx="577.95" cy="87.74" r="9.97" fill="#bababa" opacity="0.75"/>
<circle cx="591.49" cy="90.75" r="10.93" fill="#bababa" opacity="0.75"/>
<circle cx="588.48" cy="107.3" r="11.89" fill="#bababa" opacity="0.75"/>
<circle cx="571.93" cy="119.34" r="10.93" fill="#bababa" opacity="0.75"/>
<circle cx="618.58" cy="33.56" r="13.82" fill="#bababa" opacity="0.75"/>
<circle cx="614.06" cy="54.63" r="11.89" fill="#bababa" opacity="0.75"/>
<circle cx="626.1" cy="59.15" r="9.01" fill="#bababa" opacity="0.75"/>
<circle cx="626.1" cy="18.51" r="7.08" fill="#bababa" opacity="0.75"/>
<circle cx="456.05" cy="102.79" r="8.04" fill="#bababa" opacity="0.75"/>
<circle cx="460.56" cy="119.34" r="13.82" fill="#bababa" opacity="0.75"/>
<circle cx="445.51" cy="119.34" r="8.04" fill="#bababa" opacity="0.75"/>
<circle cx="477.12" cy="125.36" r="11.89" fill="#bababa" opacity="0.75"/>
<circle cx="492.17" cy="113.32" r="10.93" fill="#bababa" opacity="0.75"/>
<circle cx="490.66" cy="128.37" r="9.97" fill="#bababa" opacity="0.75"/>
<circle cx="504.21" cy="138.91" r="12.86" fill="#bababa" opacity="0.75"/>
<circle cx="520.76" cy="119.34" r="10.93" fill="#bababa" opacity="0.75"/>
<circle cx="519.25" cy="138.91" r="10.93" fill="#bababa" opacity="0.75"/>
<circle cx="535.81" cy="128.37" r="11.89" fill="#bababa" opacity="0.75"/>
<circle cx="537.31" cy="144.93" r="11.89" fill="#bababa" opacity="0.75"/>
<circle cx="447.02" cy="135.9" r="9.97" fill="#bababa" opacity="0.75"/>
<circle cx="456.05" cy="146.43" r="11.89" fill="#bababa" opacity="0.75"/>
<circle cx="471.1" cy="146.43" r="10.93" fill="#bababa" opacity="0.75"/>
<circle cx="486.15" cy="149.44" r="9.97" fill="#bababa" opacity="0.75"/>
<circle cx="570.42" cy="149.44" r="12.86" fill="#bababa" opacity="0.75"/>
<circle cx="568.92" cy="134.39" r="7.08" fill="#bababa" opacity="0.75"/>
<circle cx="528.28" cy="152.45" r="9.01" fill="#bababa" opacity="0.75"/>
<circle cx="641.97" cy="21.49" r="11.84" fill="#bababa" opacity="0.75"/>
<circle cx="629.99" cy="33.46" r="8.96" fill="#bababa" opacity="0.75"/>
<circle cx="656.94" cy="37.95" r="12.8" fill="#bababa" opacity="0.75"/>
<circle cx="641.97" cy="42.44" r="11.84" fill="#bababa" opacity="0.75"/>
<circle cx="647.96" cy="34.96" r="8.96" fill="#bababa" opacity="0.75"/>
<circle cx="671.91" cy="33.46" r="10.88" fill="#bababa" opacity="0.75"/>
<circle cx="685.38" cy="19.99" r="11.84" fill="#bababa" opacity="0.75"/>
<circle cx="698.86" cy="36.46" r="11.84" fill="#bababa" opacity="0.75"/>
<circle cx="697.36" cy="49.93" r="10.88" fill="#bababa" opacity="0.75"/>
<circle cx="679.4" cy="54.42" r="12.8" fill="#bababa" opacity="0.75"/>
<circle cx="679.4" cy="61.9" r="9.92" fill="#bababa" opacity="0.75"/>
<circle cx="664.43" cy="66.4" r="11.84" fill="#bababa" opacity="0.75"/>
<circle cx="650.95" cy="69.39" r="12.8" fill="#bababa" opacity="0.75"/>
<circle cx="632.99" cy="57.41" r="12.8" fill="#bababa" opacity="0.75"/>
<circle cx="634.49" cy="90.35" r="11.84" fill="#bababa" opacity="0.75"/>
<circle cx="649.46" cy="84.36" r="12.8" fill="#bababa" opacity="0.75"/>
<circle cx="646.46" cy="109.81" r="14.71" fill="#bababa" opacity="0.75"/>
<circle cx="638.98" cy="132.26" r="12.8" fill="#bababa" opacity="0.75"/>
<circle cx="710.83" cy="67.89" r="10.88" fill="#bababa" opacity="0.75"/>
<circle cx="715.32" cy="87.35" r="12.8" fill="#bababa" opacity="0.75"/>
<circle cx="745.26" cy="84.36" r="11.84" fill="#bababa" opacity="0.75"/>
<circle cx="752.75" cy="84.36" r="9.92" fill="#bababa" opacity="0.75"/>
<circle cx="727.3" cy="97.83" r="8.96" fill="#bababa" opacity="0.75"/>
<circle cx="724.31" cy="109.81" r="10.88" fill="#bababa" opacity="0.75"/>
<circle cx="737.78" cy="103.82" r="11.84" fill="#bababa" opacity="0.75"/>
<circle cx="748.26" cy="109.81" r="11.84" fill="#bababa" opacity="0.75"/>
<circle cx="760.23" cy="121.78" r="10.88" fill="#bababa" opacity="0.75"/>
<circle cx="712.33" cy="126.28" r="12.8" fill="#bababa" opacity="0.75"/>
<circle cx="715.32" cy="139.75" r="9.92" fill="#bababa" opacity="0.75"/>
<circle cx="731.79" cy="124.78" r="9.92" fill="#bababa" opacity="0.75"/>
<circle cx="737.78" cy="141.25" r="10.88" fill="#bababa" opacity="0.75"/>
<circle cx="745.26" cy="129.27" r="8.96" fill="#bababa" opacity="0.75"/>
<circle cx="802.15" cy="34.96" r="12.8" fill="#bababa" opacity="0.75"/>
<circle cx="806.64" cy="51.43" r="8.01" fill="#bababa" opacity="0.75"/>
<circle cx="805.14" cy="64.9" r="8.96" fill="#bababa" opacity="0.75"/>
<circle cx="797.66" cy="81.37" r="13.76" fill="#bababa" opacity="0.75"/>
<circle cx="779.69" cy="103.82" r="11.84" fill="#bababa" opacity="0.75"/>
<circle cx="778.2" cy="120.29" r="11.84" fill="#bababa" opacity="0.75"/>
<circle cx="802.15" cy="114.3" r="14.71" fill="#bababa" opacity="0.75"/>
<circle cx="767.72" cy="138.25" r="11.84" fill="#bababa" opacity="0.75"/>
<circle cx="779.69" cy="145.74" r="11.84" fill="#bababa" opacity="0.75"/>
<circle cx="796.16" cy="138.25" r="11.84" fill="#bababa" opacity="0.75"/>
<circle cx="794.66" cy="153.22" r="8.96" fill="#bababa" opacity="0.75"/>
<circle cx="770.71" cy="151.72" r="9.92" fill="#bababa" opacity="0.75"/>
<circle cx="809.63" cy="148.73" r="7.05" fill="#bababa" opacity="0.75"/>
<circle cx="468.09" cy="162.51" r="11.89" fill="#bababa" opacity="0.75"/>
<circle cx="484.64" cy="168.53" r="9.97" fill="#bababa" opacity="0.75"/>
<circle cx="498.19" cy="161.01" r="9.01" fill="#bababa" opacity="0.75"/>
<circle cx="486.15" cy="186.59" r="14.78" fill="#bababa" opacity="0.75"/>
<circle cx="507.22" cy="191.11" r="11.89" fill="#bababa" opacity="0.75"/>
<circle cx="495.18" cy="208.41" r="13.82" fill="#bababa" opacity="0.75"/>
<circle cx="525.27" cy="173.05" r="13.82" fill="#bababa" opacity="0.75"/>
<circle cx="541.83" cy="171.54" r="11.89" fill="#bababa" opacity="0.75"/>
<circle cx="526.78" cy="194.12" r="12.86" fill="#bababa" opacity="0.75"/>
<circle cx="546.34" cy="201.64" r="13.82" fill="#bababa" opacity="0.75"/>
<circle cx="561.39" cy="174.55" r="13.82" fill="#bababa" opacity="0.75"/>
<circle cx="579.45" cy="173.05" r="13.82" fill="#bababa" opacity="0.75"/>
<circle cx="568.92" cy="159.5" r="9.97" fill="#bababa" opacity="0.75"/>
<circle cx="529.79" cy="159.5" r="9.01" fill="#bababa" opacity="0.75"/>
<circle cx="574.94" cy="230.23" r="12.86" fill="#bababa" opacity="0.75"/>
<circle cx="591.49" cy="221.21" r="10.93" fill="#bababa" opacity="0.75"/>
<circle cx="608.04" cy="228.73" r="13.82" fill="#bababa" opacity="0.75"/>
<circle cx="621.59" cy="231.74" r="9.01" fill="#bababa" opacity="0.75"/>
<circle cx="588.48" cy="234.75" r="9.97" fill="#bababa" opacity="0.75"/>
<circle cx="579.45" cy="249.8" r="9.97" fill="#bababa" opacity="0.75"/>
<circle cx="599.01" cy="248.29" r="12.86" fill="#bababa" opacity="0.75"/>
<circle cx="596" cy="264.85" r="9.97" fill="#bababa" opacity="0.75"/>
<circle cx="549.35" cy="270.87" r="12.86" fill="#bababa" opacity="0.75"/>
<circle cx="565.91" cy="264.85" r="9.97" fill="#bababa" opacity="0.75"/>
<circle cx="579.45" cy="264.85" r="10.93" fill="#bababa" opacity="0.75"/>
<circle cx="565.91" cy="281.4" r="11.89" fill="#bababa" opacity="0.75"/>
<circle cx="589.98" cy="282.91" r="12.86" fill="#bababa" opacity="0.75"/>
<circle cx="608.04" cy="293.44" r="12.86" fill="#bababa" opacity="0.75"/>
<circle cx="597.51" cy="275.38" r="8.04" fill="#bababa" opacity="0.75"/>
<circle cx="724.31" cy="165.49" r="10.88" fill="#bababa" opacity="0.75"/>
<circle cx="740.77" cy="171.47" r="12.8" fill="#bababa" opacity="0.75"/>
<circle cx="722.81" cy="187.94" r="13.76" fill="#bababa" opacity="0.75"/>
<circle cx="701.85" cy="199.92" r="12.8" fill="#bababa" opacity="0.75"/>
<circle cx="689.87" cy="214.89" r="11.84" fill="#bababa" opacity="0.75"/>
<circle cx="671.91" cy="231.35" r="14.71" fill="#bababa" opacity="0.75"/>
<circle cx="686.88" cy="246.32" r="13.76" fill="#bababa" opacity="0.75"/>
<circle cx="704.84" cy="259.8" r="11.84" fill="#bababa" opacity="0.75"/>
<circle cx="710.83" cy="247.82" r="11.84" fill="#bababa" opacity="0.75"/>
<circle cx="697.36" cy="231.35" r="9.92" fill="#bababa" opacity="0.75"/>
<circle cx="707.84" cy="220.87" r="8.96" fill="#bababa" opacity="0.75"/>
<circle cx="724.31" cy="211.89" r="13.76" fill="#bababa" opacity="0.75"/>
<circle cx="739.28" cy="195.43" r="12.8" fill="#bababa" opacity="0.75"/>
<circle cx="751.25" cy="205.9" r="11.84" fill="#bababa" opacity="0.75"/>
<circle cx="761.73" cy="195.43" r="9.92" fill="#bababa" opacity="0.75"/>
<circle cx="767.72" cy="186.44" r="8.96" fill="#bababa" opacity="0.75"/>
<circle cx="767.72" cy="166.98" r="9.92" fill="#bababa" opacity="0.75"/>
<circle cx="779.69" cy="174.47" r="10.88" fill="#bababa" opacity="0.75"/>
<circle cx="794.66" cy="162.49" r="9.92" fill="#bababa" opacity="0.75"/>
<circle cx="794.66" cy="177.46" r="8.96" fill="#bababa" opacity="0.75"/>
<circle cx="785.68" cy="210.4" r="10.88" fill="#bababa" opacity="0.75"/>
<circle cx="737.78" cy="222.37" r="10.88" fill="#bababa" opacity="0.75"/>
<circle cx="752.75" cy="222.37" r="8.96" fill="#bababa" opacity="0.75"/>
<circle cx="766.22" cy="225.37" r="10.88" fill="#bababa" opacity="0.75"/>
<circle cx="724.31" cy="234.35" r="12.8" fill="#bababa" opacity="0.75"/>
<circle cx="733.29" cy="238.84" r="8.96" fill="#bababa" opacity="0.75"/>
<circle cx="784.19" cy="234.35" r="14.71" fill="#bababa" opacity="0.75"/>
<circle cx="785.68" cy="258.3" r="12.8" fill="#bababa" opacity="0.75"/>
<circle cx="779.69" cy="276.26" r="11.84" fill="#bababa" opacity="0.75"/>
<circle cx="770.71" cy="292.73" r="12.8" fill="#bababa" opacity="0.75"/>
<circle cx="670.41" cy="277.76" r="15.67" fill="#bababa" opacity="0.75"/>
<circle cx="688.38" cy="273.27" r="12.8" fill="#bababa" opacity="0.75"/>
<circle cx="806.64" cy="255.31" r="8.96" fill="#bababa" opacity="0.75"/>
<circle cx="803.65" cy="271.77" r="8.96" fill="#bababa" opacity="0.75"/>
<circle cx="800.65" cy="286.74" r="8.96" fill="#bababa" opacity="0.75"/>
<circle cx="806.64" cy="297.22" r="7.05" fill="#bababa" opacity="0.75"/>
<circle cx="758.74" cy="162.49" r="8.96" fill="#bababa" opacity="0.75"/>
<ellipse cx="0" cy="0" rx="9.4" ry="9.44" fill="rgb(74,74,74)" opacity="0.8" transform="translate(447.02,20.02) rotate(66.59)"/>
<ellipse cx="0" cy="0" rx="9.65" ry="9.48" fill="rgb(70,70,70)" opacity="0.8" transform="translate(460.56,17.01) rotate(109.01)"/>
<ellipse cx="0" cy="0" rx="9.42" ry="9.11" fill="rgb(70,70,70)" opacity="0.8" transform="translate(477.12,17.01) rotate(179.22)"/>
<ellipse cx="0" cy="0" rx="9.72" ry="9.44" fill="rgb(59,59,59)" opacity="0.8" transform="translate(492.17,18.51) rotate(71.48)"/>
<ellipse cx="0" cy="0" rx="8.46" ry="8.12" fill="rgb(67,67,67)" opacity="0.8" transform="translate(508.72,15.5) rotate(166.65)"/>
<ellipse cx="0" cy="0" rx="7.95" ry="7.66" fill="rgb(79,79,79)" opacity="0.8" transform="translate(528.28,17.01) rotate(11.53)"/>
<ellipse cx="0" cy="0" rx="12.2" ry="10.69" fill="rgb(63,63,63)" opacity="0.8" transform="translate(463.57,32.06) rotate(140.41)"/>
<ellipse cx="0" cy="0" rx="8.69" ry="8.66" fill="rgb(77,77,77)" opacity="0.8" transform="translate(450.03,38.08) rotate(158.19)"/>
<ellipse cx="0" cy="0" rx="10.98" ry="10.24" fill="rgb(73,73,73)" opacity="0.8" transform="translate(453.04,53.13) rotate(131.06)"/>
<ellipse cx="0" cy="0" rx="7.7" ry="7.88" fill="rgb(58,58,58)" opacity="0.8" transform="translate(465.08,42.59) rotate(158.2)"/>
<ellipse cx="0" cy="0" rx="9.19" ry="9.39" fill="rgb(76,76,76)" opacity="0.8" transform="translate(474.11,59.15) rotate(46.44)"/>
<ellipse cx="0" cy="0" rx="10.57" ry="10.48" fill="rgb(71,71,71)" opacity="0.8" transform="translate(450.03,68.18) rotate(54.18)"/>
<ellipse cx="0" cy="0" rx="9.03" ry="8.52" fill="rgb(68,68,68)" opacity="0.8" transform="translate(460.56,63.66) rotate(96.14)"/>
<ellipse cx="0" cy="0" rx="14.65" ry="14.73" fill="rgb(55,55,55)" opacity="0.8" transform="translate(507.22,57.64) rotate(122.76)"/>
<ellipse cx="0" cy="0" rx="11.06" ry="10.9" fill="rgb(60,60,60)" opacity="0.8" transform="translate(511.73,51.62) rotate(120.83)"/>
<ellipse cx="0" cy="0" rx="13.85" ry="12.89" fill="rgb(73,73,73)" opacity="0.8" transform="translate(487.65,78.71) rotate(97.52)"/>
<ellipse cx="0" cy="0" rx="12.68" ry="12.5" fill="rgb(73,73,73)" opacity="0.8" transform="translate(478.62,101.28) rotate(38)"/>
<ellipse cx="0" cy="0" rx="9.43" ry="8.99" fill="rgb(75,75,75)" opacity="0.8" transform="translate(495.18,96.77) rotate(86.76)"/>
<ellipse cx="0" cy="0" rx="12.24" ry="10.75" fill="rgb(68,68,68)" opacity="0.8" transform="translate(507.22,104.29) rotate(144.11)"/>
<ellipse cx="0" cy="0" rx="11.11" ry="9.77" fill="rgb(68,68,68)" opacity="0.8" transform="translate(525.27,33.56) rotate(76.89)"/>
<ellipse cx="0" cy="0" rx="11.08" ry="9.8" fill="rgb(56,56,56)" opacity="0.8" transform="translate(534.3,44.1) rotate(110.62)"/>
<ellipse cx="0" cy="0" rx="9.55" ry="9.48" fill="rgb(63,63,63)" opacity="0.8" transform="translate(531.29,53.13) rotate(99.15)"/>
<ellipse cx="0" cy="0" rx="8.72" ry="8.93" fill="rgb(57,57,57)" opacity="0.8" transform="translate(531.29,69.68) rotate(55.74)"/>
<ellipse cx="0" cy="0" rx="11.12" ry="11.31" fill="rgb(68,68,68)" opacity="0.8" transform="translate(546.34,77.21) rotate(170.8)"/>
<ellipse cx="0" cy="0" rx="10.4" ry="10.05" fill="rgb(65,65,65)" opacity="0.8" transform="translate(553.87,53.13) rotate(124.15)"/>
<ellipse cx="0" cy="0" rx="8.53" ry="8.89" fill="rgb(67,67,67)" opacity="0.8" transform="translate(549.35,63.66) rotate(161.4)"/>
<ellipse cx="0" cy="0" rx="8.59" ry="8.8" fill="rgb(74,74,74)" opacity="0.8" transform="translate(556.88,87.74) rotate(69.51)"/>
<ellipse cx="0" cy="0" rx="10.86" ry="9.87" fill="rgb(80,80,80)" opacity="0.8" transform="translate(564.4,98.27) rotate(175.12)"/>
<ellipse cx="0" cy="0" rx="9.69" ry="9.32" fill="rgb(62,62,62)" opacity="0.8" transform="translate(571.93,59.15) rotate(129.66)"/>
<ellipse cx="0" cy="0" rx="11.16" ry="10.26" fill="rgb(64,64,64)" opacity="0.8" transform="translate(580.95,45.6) rotate(46.48)"/>
<ellipse cx="0" cy="0" rx="9.73" ry="8.87" fill="rgb(73,73,73)" opacity="0.8" transform="translate(585.47,71.19) rotate(74.74)"/>
<ellipse cx="0" cy="0" rx="9.48" ry="9.26" fill="rgb(59,59,59)" opacity="0.8" transform="translate(594.5,60.65) rotate(106.06)"/>
<ellipse cx="0" cy="0" rx="8.29" ry="8.57" fill="rgb(76,76,76)" opacity="0.8" transform="translate(577.95,87.74) rotate(83.93)"/>
<ellipse cx="0" cy="0" rx="10.12" ry="9.51" fill="rgb(70,70,70)" opacity="0.8" transform="translate(591.49,90.75) rotate(50.21)"/>
<ellipse cx="0" cy="0" rx="10.09" ry="9.82" fill="rgb(66,66,66)" opacity="0.8" transform="translate(588.48,107.3) rotate(121.68)"/>
<ellipse cx="0" cy="0" rx="9.42" ry="9.34" fill="rgb(65,65,65)" opacity="0.8" transform="translate(571.93,119.34) rotate(106.68)"/>
<ellipse cx="0" cy="0" rx="12.14" ry="11.77" fill="rgb(74,74,74)" opacity="0.8" transform="translate(618.58,33.56) rotate(136.46)"/>
<ellipse cx="0" cy="0" rx="10.37" ry="10.66" fill="rgb(55,55,55)" opacity="0.8" transform="translate(614.06,54.63) rotate(18.88)"/>
<ellipse cx="0" cy="0" rx="8.14" ry="7.67" fill="rgb(71,71,71)" opacity="0.8" transform="translate(626.1,59.15) rotate(23.66)"/>
<ellipse cx="0" cy="0" rx="5.63" ry="5.83" fill="rgb(60,60,60)" opacity="0.8" transform="translate(626.1,18.51) rotate(42.97)"/>
<ellipse cx="0" cy="0" rx="6.91" ry="6.68" fill="rgb(74,74,74)" opacity="0.8" transform="translate(456.05,102.79) rotate(17.46)"/>
<ellipse cx="0" cy="0" rx="12.34" ry="11.98" fill="rgb(69,69,69)" opacity="0.8" transform="translate(460.56,119.34) rotate(150.04)"/>
<ellipse cx="0" cy="0" rx="7.01" ry="6.92" fill="rgb(78,78,78)" opacity="0.8" transform="translate(445.51,119.34) rotate(14.39)"/>
<ellipse cx="0" cy="0" rx="10.82" ry="10.78" fill="rgb(62,62,62)" opacity="0.8" transform="translate(477.12,125.36) rotate(81.2)"/>
<ellipse cx="0" cy="0" rx="9.98" ry="8.9" fill="rgb(65,65,65)" opacity="0.8" transform="translate(492.17,113.32) rotate(172.36)"/>
<ellipse cx="0" cy="0" rx="9" ry="8.77" fill="rgb(63,63,63)" opacity="0.8" transform="translate(490.66,128.37) rotate(33.05)"/>
<ellipse cx="0" cy="0" rx="11.41" ry="11.69" fill="rgb(74,74,74)" opacity="0.8" transform="translate(504.21,138.91) rotate(15.4)"/>
<ellipse cx="0" cy="0" rx="9.52" ry="9" fill="rgb(80,80,80)" opacity="0.8" transform="translate(520.76,119.34) rotate(52.55)"/>
<ellipse cx="0" cy="0" rx="10.05" ry="9.35" fill="rgb(64,64,64)" opacity="0.8" transform="translate(519.25,138.91) rotate(114.15)"/>
<ellipse cx="0" cy="0" rx="10.55" ry="10.22" fill="rgb(59,59,59)" opacity="0.8" transform="translate(535.81,128.37) rotate(165.71)"/>
<ellipse cx="0" cy="0" rx="10.3" ry="10.3" fill="rgb(74,74,74)" opacity="0.8" transform="translate(537.31,144.93) rotate(149.86)"/>
<ellipse cx="0" cy="0" rx="9.18" ry="8.39" fill="rgb(77,77,77)" opacity="0.8" transform="translate(447.02,135.9) rotate(171.03)"/>
<ellipse cx="0" cy="0" rx="10.32" ry="10.62" fill="rgb(76,76,76)" opacity="0.8" transform="translate(456.05,146.43) rotate(150.61)"/>
<ellipse cx="0" cy="0" rx="9.94" ry="9.88" fill="rgb(62,62,62)" opacity="0.8" transform="translate(471.1,146.43) rotate(97.89)"/>
<ellipse cx="0" cy="0" rx="9.06" ry="8.79" fill="rgb(58,58,58)" opacity="0.8" transform="translate(486.15,149.44) rotate(174.77)"/>
<ellipse cx="0" cy="0" rx="12.01" ry="10.69" fill="rgb(77,77,77)" opacity="0.8" transform="translate(570.42,149.44) rotate(162.65)"/>
<ellipse cx="0" cy="0" rx="5.82" ry="5.44" fill="rgb(68,68,68)" opacity="0.8" transform="translate(568.92,134.39) rotate(159.04)"/>
<ellipse cx="0" cy="0" rx="7.81" ry="7.1" fill="rgb(60,60,60)" opacity="0.8" transform="translate(528.28,152.45) rotate(134.15)"/>
<ellipse cx="0" cy="0" rx="10.6" ry="9.97" fill="rgb(72,72,72)" opacity="0.8" transform="translate(641.97,21.49) rotate(3.57)"/>
<ellipse cx="0" cy="0" rx="7.63" ry="7.84" fill="rgb(65,65,65)" opacity="0.8" transform="translate(629.99,33.46) rotate(110.19)"/>
<ellipse cx="0" cy="0" rx="11.08" ry="11.81" fill="rgb(80,80,80)" opacity="0.8" transform="translate(656.94,37.95) rotate(97.38)"/>
<ellipse cx="0" cy="0" rx="10.92" ry="10.1" fill="rgb(72,72,72)" opacity="0.8" transform="translate(641.97,42.44) rotate(35.52)"/>
<ellipse cx="0" cy="0" rx="8.03" ry="7.15" fill="rgb(63,63,63)" opacity="0.8" transform="translate(647.96,34.96) rotate(43.1)"/>
<ellipse cx="0" cy="0" rx="10.07" ry="9.66" fill="rgb(55,55,55)" opacity="0.8" transform="translate(671.91,33.46) rotate(148.23)"/>
<ellipse cx="0" cy="0" rx="10.58" ry="10.36" fill="rgb(79,79,79)" opacity="0.8" transform="translate(685.38,19.99) rotate(72.05)"/>
<ellipse cx="0" cy="0" rx="10.33" ry="10.01" fill="rgb(68,68,68)" opacity="0.8" transform="translate(698.86,36.46) rotate(94.91)"/>
<ellipse cx="0" cy="0" rx="9.16" ry="9.15" fill="rgb(56,56,56)" opacity="0.8" transform="translate(697.36,49.93) rotate(147.51)"/>
<ellipse cx="0" cy="0" rx="11.9" ry="10.64" fill="rgb(70,70,70)" opacity="0.8" transform="translate(679.4,54.42) rotate(8.97)"/>
<ellipse cx="0" cy="0" rx="9.12" ry="8.74" fill="rgb(71,71,71)" opacity="0.8" transform="translate(679.4,61.9) rotate(15.5)"/>
<ellipse cx="0" cy="0" rx="10.58" ry="9.88" fill="rgb(67,67,67)" opacity="0.8" transform="translate(664.43,66.4) rotate(12.92)"/>
<ellipse cx="0" cy="0" rx="11.74" ry="11.32" fill="rgb(61,61,61)" opacity="0.8" transform="translate(650.95,69.39) rotate(64.95)"/>
<ellipse cx="0" cy="0" rx="12.17" ry="11.12" fill="rgb(55,55,55)" opacity="0.8" transform="translate(632.99,57.41) rotate(22.97)"/>
<ellipse cx="0" cy="0" rx="10.84" ry="10.14" fill="rgb(60,60,60)" opacity="0.8" transform="translate(634.49,90.35) rotate(14.38)"/>
<ellipse cx="0" cy="0" rx="10.98" ry="11.16" fill="rgb(72,72,72)" opacity="0.8" transform="translate(649.46,84.36) rotate(117.05)"/>
<ellipse cx="0" cy="0" rx="13.3" ry="13.52" fill="rgb(68,68,68)" opacity="0.8" transform="translate(646.46,109.81) rotate(112.13)"/>
<ellipse cx="0" cy="0" rx="10.99" ry="11.37" fill="rgb(65,65,65)" opacity="0.8" transform="translate(638.98,132.26) rotate(136.81)"/>
<ellipse cx="0" cy="0" rx="9.54" ry="9.55" fill="rgb(62,62,62)" opacity="0.8" transform="translate(710.83,67.89) rotate(82.95)"/>
<ellipse cx="0" cy="0" rx="11.2" ry="10.92" fill="rgb(80,80,80)" opacity="0.8" transform="translate(715.32,87.35) rotate(106.18)"/>
<ellipse cx="0" cy="0" rx="10.5" ry="10.19" fill="rgb(65,65,65)" opacity="0.8" transform="translate(745.26,84.36) rotate(158.34)"/>
<ellipse cx="0" cy="0" rx="8.55" ry="8.78" fill="rgb(63,63,63)" opacity="0.8" transform="translate(752.75,84.36) rotate(142.37)"/>
<ellipse cx="0" cy="0" rx="7.38" ry="7.63" fill="rgb(78,78,78)" opacity="0.8" transform="translate(727.3,97.83) rotate(169.03)"/>
<ellipse cx="0" cy="0" rx="9.8" ry="9.75" fill="rgb(76,76,76)" opacity="0.8" transform="translate(724.31,109.81) rotate(142.64)"/>
<ellipse cx="0" cy="0" rx="10.14" ry="10.06" fill="rgb(80,80,80)" opacity="0.8" transform="translate(737.78,103.82) rotate(95.75)"/>
<ellipse cx="0" cy="0" rx="10.69" ry="9.7" fill="rgb(79,79,79)" opacity="0.8" transform="translate(748.26,109.81) rotate(25.83)"/>
<ellipse cx="0" cy="0" rx="9.51" ry="9.37" fill="rgb(76,76,76)" opacity="0.8" transform="translate(760.23,121.78) rotate(101.58)"/>
<ellipse cx="0" cy="0" rx="12.04" ry="10.8" fill="rgb(58,58,58)" opacity="0.8" transform="translate(712.33,126.28) rotate(4.23)"/>
<ellipse cx="0" cy="0" rx="8.22" ry="8.04" fill="rgb(77,77,77)" opacity="0.8" transform="translate(715.32,139.75) rotate(86.75)"/>
<ellipse cx="0" cy="0" rx="9.09" ry="8.48" fill="rgb(56,56,56)" opacity="0.8" transform="translate(731.79,124.78) rotate(143.77)"/>
<ellipse cx="0" cy="0" rx="10.15" ry="9.41" fill="rgb(62,62,62)" opacity="0.8" transform="translate(737.78,141.25) rotate(95.22)"/>
<ellipse cx="0" cy="0" rx="7.37" ry="7.68" fill="rgb(56,56,56)" opacity="0.8" transform="translate(745.26,129.27) rotate(168.22)"/>
<ellipse cx="0" cy="0" rx="11.62" ry="11.68" fill="rgb(57,57,57)" opacity="0.8" transform="translate(802.15,34.96) rotate(32.48)"/>
<ellipse cx="0" cy="0" rx="6.55" ry="6.3" fill="rgb(74,74,74)" opacity="0.8" transform="translate(806.64,51.43) rotate(44.99)"/>
<ellipse cx="0" cy="0" rx="7.87" ry="7.85" fill="rgb(74,74,74)" opacity="0.8" transform="translate(805.14,64.9) rotate(45.52)"/>
<ellipse cx="0" cy="0" rx="12.38" ry="11.94" fill="rgb(57,57,57)" opacity="0.8" transform="translate(797.66,81.37) rotate(75.28)"/>
<ellipse cx="0" cy="0" rx="10.45" ry="9.97" fill="rgb(78,78,78)" opacity="0.8" transform="translate(779.69,103.82) rotate(167.31)"/>
<ellipse cx="0" cy="0" rx="11.13" ry="10.18" fill="rgb(73,73,73)" opacity="0.8" transform="translate(778.2,120.29) rotate(102.31)"/>
<ellipse cx="0" cy="0" rx="13.74" ry="13.1" fill="rgb(75,75,75)" opacity="0.8" transform="translate(802.15,114.3) rotate(87.07)"/>
<ellipse cx="0" cy="0" rx="10.48" ry="10.72" fill="rgb(70,70,70)" opacity="0.8" transform="translate(767.72,138.25) rotate(29.27)"/>
<ellipse cx="0" cy="0" rx="10.88" ry="10.76" fill="rgb(69,69,69)" opacity="0.8" transform="translate(779.69,145.74) rotate(93.11)"/>
<ellipse cx="0" cy="0" rx="10.69" ry="10.69" fill="rgb(79,79,79)" opacity="0.8" transform="translate(796.16,138.25) rotate(24.53)"/>
<ellipse cx="0" cy="0" rx="7.45" ry="7.55" fill="rgb(62,62,62)" opacity="0.8" transform="translate(794.66,153.22) rotate(56.67)"/>
<ellipse cx="0" cy="0" rx="9" ry="8.44" fill="rgb(76,76,76)" opacity="0.8" transform="translate(770.71,151.72) rotate(140.32)"/>
<ellipse cx="0" cy="0" rx="5.91" ry="5.55" fill="rgb(73,73,73)" opacity="0.8" transform="translate(809.63,148.73) rotate(153.66)"/>
<ellipse cx="0" cy="0" rx="11.21" ry="10.78" fill="rgb(63,63,63)" opacity="0.8" transform="translate(468.09,162.51) rotate(55.3)"/>
<ellipse cx="0" cy="0" rx="8.69" ry="8.34" fill="rgb(66,66,66)" opacity="0.8" transform="translate(484.64,168.53) rotate(31)"/>
<ellipse cx="0" cy="0" rx="7.52" ry="7.5" fill="rgb(68,68,68)" opacity="0.8" transform="translate(498.19,161.01) rotate(155.48)"/>
<ellipse cx="0" cy="0" rx="14.28" ry="13.12" fill="rgb(69,69,69)" opacity="0.8" transform="translate(486.15,186.59) rotate(107.82)"/>
<ellipse cx="0" cy="0" rx="10.74" ry="10.8" fill="rgb(55,55,55)" opacity="0.8" transform="translate(507.22,191.11) rotate(117.43)"/>
<ellipse cx="0" cy="0" rx="12.56" ry="12.51" fill="rgb(67,67,67)" opacity="0.8" transform="translate(495.18,208.41) rotate(154.2)"/>
<ellipse cx="0" cy="0" rx="12.97" ry="12.73" fill="rgb(62,62,62)" opacity="0.8" transform="translate(525.27,173.05) rotate(8.25)"/>
<ellipse cx="0" cy="0" rx="11.1" ry="10.5" fill="rgb(57,57,57)" opacity="0.8" transform="translate(541.83,171.54) rotate(139.92)"/>
<ellipse cx="0" cy="0" rx="12.2" ry="11.72" fill="rgb(61,61,61)" opacity="0.8" transform="translate(526.78,194.12) rotate(43.58)"/>
<ellipse cx="0" cy="0" rx="12.96" ry="11.71" fill="rgb(76,76,76)" opacity="0.8" transform="translate(546.34,201.64) rotate(111.94)"/>
<ellipse cx="0" cy="0" rx="13.08" ry="12.76" fill="rgb(56,56,56)" opacity="0.8" transform="translate(561.39,174.55) rotate(45.9)"/>
<ellipse cx="0" cy="0" rx="12.33" ry="12.1" fill="rgb(57,57,57)" opacity="0.8" transform="translate(579.45,173.05) rotate(131.21)"/>
<ellipse cx="0" cy="0" rx="8.35" ry="8.23" fill="rgb(56,56,56)" opacity="0.8" transform="translate(568.92,159.5) rotate(164.48)"/>
<ellipse cx="0" cy="0" rx="7.62" ry="7.58" fill="rgb(55,55,55)" opacity="0.8" transform="translate(529.79,159.5) rotate(121.59)"/>
<ellipse cx="0" cy="0" rx="11.02" ry="11.05" fill="rgb(57,57,57)" opacity="0.8" transform="translate(574.94,230.23) rotate(68.34)"/>
<ellipse cx="0" cy="0" rx="9.37" ry="9.48" fill="rgb(67,67,67)" opacity="0.8" transform="translate(591.49,221.21) rotate(171.96)"/>
<ellipse cx="0" cy="0" rx="12.07" ry="11.96" fill="rgb(57,57,57)" opacity="0.8" transform="translate(608.04,228.73) rotate(159)"/>
<ellipse cx="0" cy="0" rx="7.88" ry="7.18" fill="rgb(63,63,63)" opacity="0.8" transform="translate(621.59,231.74) rotate(159.69)"/>
<ellipse cx="0" cy="0" rx="8.33" ry="8.87" fill="rgb(79,79,79)" opacity="0.8" transform="translate(588.48,234.75) rotate(67.36)"/>
<ellipse cx="0" cy="0" rx="8.59" ry="8.4" fill="rgb(76,76,76)" opacity="0.8" transform="translate(579.45,249.8) rotate(119.32)"/>
<ellipse cx="0" cy="0" rx="11.81" ry="11.66" fill="rgb(79,79,79)" opacity="0.8" transform="translate(599.01,248.29) rotate(47.81)"/>
<ellipse cx="0" cy="0" rx="9.14" ry="8.3" fill="rgb(71,71,71)" opacity="0.8" transform="translate(596,264.85) rotate(101.89)"/>
<ellipse cx="0" cy="0" rx="11.12" ry="11.26" fill="rgb(77,77,77)" opacity="0.8" transform="translate(549.35,270.87) rotate(63.39)"/>
<ellipse cx="0" cy="0" rx="8.52" ry="8.67" fill="rgb(75,75,75)" opacity="0.8" transform="translate(565.91,264.85) rotate(133.61)"/>
<ellipse cx="0" cy="0" rx="9.83" ry="9.53" fill="rgb(75,75,75)" opacity="0.8" transform="translate(579.45,264.85) rotate(32.24)"/>
<ellipse cx="0" cy="0" rx="10.59" ry="9.87" fill="rgb(65,65,65)" opacity="0.8" transform="translate(565.91,281.4) rotate(100.76)"/>
<ellipse cx="0" cy="0" rx="11.8" ry="11.46" fill="rgb(64,64,64)" opacity="0.8" transform="translate(589.98,282.91) rotate(75.62)"/>
<ellipse cx="0" cy="0" rx="11.8" ry="11.21" fill="rgb(60,60,60)" opacity="0.8" transform="translate(608.04,293.44) rotate(56.24)"/>
<ellipse cx="0" cy="0" rx="6.93" ry="6.28" fill="rgb(72,72,72)" opacity="0.8" transform="translate(597.51,275.38) rotate(32.62)"/>
<ellipse cx="0" cy="0" rx="9.67" ry="9.59" fill="rgb(63,63,63)" opacity="0.8" transform="translate(724.31,165.49) rotate(64.66)"/>
<ellipse cx="0" cy="0" rx="11.26" ry="10.64" fill="rgb(70,70,70)" opacity="0.8" transform="translate(740.77,171.47) rotate(24.57)"/>
<ellipse cx="0" cy="0" rx="12.52" ry="11.8" fill="rgb(66,66,66)" opacity="0.8" transform="translate(722.81,187.94) rotate(138.4)"/>
<ellipse cx="0" cy="0" rx="12.03" ry="11.77" fill="rgb(80,80,80)" opacity="0.8" transform="translate(701.85,199.92) rotate(80.68)"/>
<ellipse cx="0" cy="0" rx="10.91" ry="10.1" fill="rgb(58,58,58)" opacity="0.8" transform="translate(689.87,214.89) rotate(152.44)"/>
<ellipse cx="0" cy="0" rx="12.97" ry="13.21" fill="rgb(73,73,73)" opacity="0.8" transform="translate(671.91,231.35) rotate(122.67)"/>
<ellipse cx="0" cy="0" rx="12.9" ry="12.46" fill="rgb(61,61,61)" opacity="0.8" transform="translate(686.88,246.32) rotate(33.27)"/>
<ellipse cx="0" cy="0" rx="10.67" ry="10.47" fill="rgb(78,78,78)" opacity="0.8" transform="translate(704.84,259.8) rotate(70.41)"/>
<ellipse cx="0" cy="0" rx="10.16" ry="10.4" fill="rgb(80,80,80)" opacity="0.8" transform="translate(710.83,247.82) rotate(154.71)"/>
<ellipse cx="0" cy="0" rx="8.38" ry="8.43" fill="rgb(61,61,61)" opacity="0.8" transform="translate(697.36,231.35) rotate(102.31)"/>
<ellipse cx="0" cy="0" rx="8.01" ry="7.36" fill="rgb(80,80,80)" opacity="0.8" transform="translate(707.84,220.87) rotate(52.74)"/>
<ellipse cx="0" cy="0" rx="12.44" ry="12.02" fill="rgb(65,65,65)" opacity="0.8" transform="translate(724.31,211.89) rotate(146.61)"/>
<ellipse cx="0" cy="0" rx="11.62" ry="11.31" fill="rgb(71,71,71)" opacity="0.8" transform="translate(739.28,195.43) rotate(114.06)"/>
<ellipse cx="0" cy="0" rx="10.81" ry="10.04" fill="rgb(70,70,70)" opacity="0.8" transform="translate(751.25,205.9) rotate(154.8)"/>
<ellipse cx="0" cy="0" rx="8.22" ry="8.11" fill="rgb(58,58,58)" opacity="0.8" transform="translate(761.73,195.43) rotate(114.13)"/>
<ellipse cx="0" cy="0" rx="7.93" ry="7.61" fill="rgb(71,71,71)" opacity="0.8" transform="translate(767.72,186.44) rotate(88.54)"/>
<ellipse cx="0" cy="0" rx="8.78" ry="8.12" fill="rgb(61,61,61)" opacity="0.8" transform="translate(767.72,166.98) rotate(140.79)"/>
<ellipse cx="0" cy="0" rx="9.14" ry="9.34" fill="rgb(69,69,69)" opacity="0.8" transform="translate(779.69,174.47) rotate(116.27)"/>
<ellipse cx="0" cy="0" rx="8.3" ry="8.2" fill="rgb(59,59,59)" opacity="0.8" transform="translate(794.66,162.49) rotate(118.35)"/>
<ellipse cx="0" cy="0" rx="7.4" ry="7.72" fill="rgb(56,56,56)" opacity="0.8" transform="translate(794.66,177.46) rotate(112.19)"/>
<ellipse cx="0" cy="0" rx="9.13" ry="9.47" fill="rgb(70,70,70)" opacity="0.8" transform="translate(785.68,210.4) rotate(91.07)"/>
<ellipse cx="0" cy="0" rx="9.67" ry="9.79" fill="rgb(66,66,66)" opacity="0.8" transform="translate(737.78,222.37) rotate(58.16)"/>
<ellipse cx="0" cy="0" rx="7.87" ry="7.16" fill="rgb(74,74,74)" opacity="0.8" transform="translate(752.75,222.37) rotate(154.49)"/>
<ellipse cx="0" cy="0" rx="9.92" ry="8.85" fill="rgb(65,65,65)" opacity="0.8" transform="translate(766.22,225.37) rotate(14.4)"/>
<ellipse cx="0" cy="0" rx="12.18" ry="10.84" fill="rgb(61,61,61)" opacity="0.8" transform="translate(724.31,234.35) rotate(11.4)"/>
<ellipse cx="0" cy="0" rx="7.65" ry="7.69" fill="rgb(58,58,58)" opacity="0.8" transform="translate(733.29,238.84) rotate(87.3)"/>
<ellipse cx="0" cy="0" rx="13.9" ry="12.94" fill="rgb(77,77,77)" opacity="0.8" transform="translate(784.19,234.35) rotate(152.15)"/>
<ellipse cx="0" cy="0" rx="11.13" ry="11.21" fill="rgb(72,72,72)" opacity="0.8" transform="translate(785.68,258.3) rotate(125.87)"/>
<ellipse cx="0" cy="0" rx="11" ry="9.94" fill="rgb(55,55,55)" opacity="0.8" transform="translate(779.69,276.26) rotate(88.02)"/>
<ellipse cx="0" cy="0" rx="11.51" ry="11.53" fill="rgb(60,60,60)" opacity="0.8" transform="translate(770.71,292.73) rotate(72.26)"/>
<ellipse cx="0" cy="0" rx="14.37" ry="13.28" fill="rgb(66,66,66)" opacity="0.8" transform="translate(670.41,277.76) rotate(46.19)"/>
<ellipse cx="0" cy="0" rx="11.49" ry="11.03" fill="rgb(55,55,55)" opacity="0.8" transform="translate(688.38,273.27) rotate(72.33)"/>
<ellipse cx="0" cy="0" rx="7.96" ry="7.27" fill="rgb(69,69,69)" opacity="0.8" transform="translate(806.64,255.31) rotate(66.53)"/>
<ellipse cx="0" cy="0" rx="7.73" ry="7.19" fill="rgb(73,73,73)" opacity="0.8" transform="translate(803.65,271.77) rotate(4)"/>
<ellipse cx="0" cy="0" rx="7.62" ry="7.19" fill="rgb(58,58,58)" opacity="0.8" transform="translate(800.65,286.74) rotate(4.95)"/>
<ellipse cx="0" cy="0" rx="5.85" ry="5.57" fill="rgb(55,55,55)" opacity="0.8" transform="translate(806.64,297.22) rotate(33.26)"/>
<ellipse cx="0" cy="0" rx="7.62" ry="7.32" fill="rgb(77,77,77)" opacity="0.8" transform="translate(758.74,162.49) rotate(5.91)"/>
</g></g>
<rect x="448.8" y="289.2" width="35.8" height="3.5" fill="#000" stroke="none" stroke-width="1" />
<text x="449" y="286" font-size="14.5" text-anchor="start" font-weight="normal" fill="#111" font-family='"Liberation Sans", sans-serif' >100 nm</text>
<rect x="942.13" y="243.5" width="19.2" height="12" fill="#ff0000" stroke="#202020" stroke-width="0.8" />
<rect x="966.57" y="226.5" width="19.2" height="29" fill="#ff0000" stroke="#202020" stroke-width="0.8" />
<rect x="991.01" y="171.5" width="19.2" height="84" fill="#ff0000" stroke="#202020" stroke-width="0.8" />
<rect x="1015.45" y="87.5" width="19.2" height="168" fill="#ff0000" stroke="#202020" stroke-width="0.8" />
<rect x="1039.89" y="45.5" width="19.2" height="210" fill="#ff0000" stroke="#202020" stroke-width="0.8" />
<rect x="1064.33" y="51.5" width="19.2" height="204" fill="#ff0000" stroke="#202020" stroke-width="0.8" />
<rect x="1088.77" y="153.5" width="19.2" height="102" fill="#ff0000" stroke="#202020" stroke-width="0.8" />
<rect x="1113.21" y="147.5" width="19.2" height="108" fill="#ff0000" stroke="#202020" stroke-width="0.8" />
<rect x="1137.65" y="195.5" width="19.2" height="60" fill="#ff0000" stroke="#202020" stroke-width="0.8" />
<rect x="1162.09" y="231.5" width="19.2" height="24" fill="#ff0000" stroke="#202020" stroke-width="0.8" />
<rect x="919.5" y="29" width="305.5" height="226.5" fill="none" stroke="#000" stroke-width="2" />
<line x1="913.5" y1="255.5" x2="919.5" y2="255.5" stroke="#000" stroke-width="1.6" />
<text x="910.5" y="261.9" font-size="17.6" text-anchor="end" font-weight="bold" fill="#000" font-family='"Liberation Sans", sans-serif' >0</text>
<line x1="913.5" y1="205.5" x2="919.5" y2="205.5" stroke="#000" stroke-width="1.6" />
<text x="910.5" y="211.9" font-size="17.6" text-anchor="end" font-weight="bold" fill="#000" font-family='"Liberation Sans", sans-serif' >5</text>
<line x1="913.5" y1="155.5" x2="919.5" y2="155.5" stroke="#000" stroke-width="1.6" />
<text x="910.5" y="161.9" font-size="17.6" text-anchor="end" font-weight="bold" fill="#000" font-family='"Liberation Sans", sans-serif' >10</text>
<line x1="913.5" y1="105.5" x2="919.5" y2="105.5" stroke="#000" stroke-width="1.6" />
<text x="910.5" y="111.9" font-size="17.6" text-anchor="end" font-weight="bold" fill="#000" font-family='"Liberation Sans", sans-serif' >15</text>
<line x1="913.5" y1="55.5" x2="919.5" y2="55.5" stroke="#000" stroke-width="1.6" />
<text x="910.5" y="61.9" font-size="17.6" text-anchor="end" font-weight="bold" fill="#000" font-family='"Liberation Sans", sans-serif' >20</text>
<line x1="916" y1="230.5" x2="919.5" y2="230.5" stroke="#000" stroke-width="1.4" />
<line x1="916" y1="180.5" x2="919.5" y2="180.5" stroke="#000" stroke-width="1.4" />
<line x1="916" y1="130.5" x2="919.5" y2="130.5" stroke="#000" stroke-width="1.4" />
<line x1="916" y1="80.5" x2="919.5" y2="80.5" stroke="#000" stroke-width="1.4" />
<line x1="916" y1="30.5" x2="919.5" y2="30.5" stroke="#000" stroke-width="1.4" />
<line x1="919.5" y1="255.5" x2="919.5" y2="261.5" stroke="#000" stroke-width="1.6" />
<text x="919.2" y="277.7" font-size="17.6" text-anchor="middle" font-weight="bold" fill="#000" font-family='"Liberation Sans", sans-serif' >25</text>
<line x1="953.44" y1="255.5" x2="953.44" y2="261.5" stroke="#000" stroke-width="1.6" />
<text x="953.14" y="277.7" font-size="17.6" text-anchor="middle" font-weight="bold" fill="#000" font-family='"Liberation Sans", sans-serif' >30</text>
<line x1="987.39" y1="255.5" x2="987.39" y2="261.5" stroke="#000" stroke-width="1.6" />
<text x="987.09" y="277.7" font-size="17.6" text-anchor="middle" font-weight="bold" fill="#000" font-family='"Liberation Sans", sans-serif' >35</text>
<line x1="1021.33" y1="255.5" x2="1021.33" y2="261.5" stroke="#000" stroke-width="1.6" />
<text x="1021.03" y="277.7" font-size="17.6" text-anchor="middle" font-weight="bold" fill="#000" font-family='"Liberation Sans", sans-serif' >40</text>
<line x1="1055.28" y1="255.5" x2="1055.28" y2="261.5" stroke="#000" stroke-width="1.6" />
<text x="1054.98" y="277.7" font-size="17.6" text-anchor="middle" font-weight="bold" fill="#000" font-family='"Liberation Sans", sans-serif' >45</text>
<line x1="1089.22" y1="255.5" x2="1089.22" y2="261.5" stroke="#000" stroke-width="1.6" />
<text x="1088.92" y="277.7" font-size="17.6" text-anchor="middle" font-weight="bold" fill="#000" font-family='"Liberation Sans", sans-serif' >50</text>
<line x1="1123.17" y1="255.5" x2="1123.17" y2="261.5" stroke="#000" stroke-width="1.6" />
<text x="1122.87" y="277.7" font-size="17.6" text-anchor="middle" font-weight="bold" fill="#000" font-family='"Liberation Sans", sans-serif' >55</text>
<line x1="1157.11" y1="255.5" x2="1157.11" y2="261.5" stroke="#000" stroke-width="1.6" />
<text x="1156.81" y="277.7" font-size="17.6" text-anchor="middle" font-weight="bold" fill="#000" font-family='"Liberation Sans", sans-serif' >60</text>
<line x1="1191.06" y1="255.5" x2="1191.06" y2="261.5" stroke="#000" stroke-width="1.6" />
<text x="1190.76" y="277.7" font-size="17.6" text-anchor="middle" font-weight="bold" fill="#000" font-family='"Liberation Sans", sans-serif' >65</text>
<line x1="1225" y1="255.5" x2="1225" y2="261.5" stroke="#000" stroke-width="1.6" />
<text x="1224.7" y="277.7" font-size="17.6" text-anchor="middle" font-weight="bold" fill="#000" font-family='"Liberation Sans", sans-serif' >70</text>
<line x1="936.47" y1="255.5" x2="936.47" y2="259" stroke="#000" stroke-width="1.4" />
<line x1="970.42" y1="255.5" x2="970.42" y2="259" stroke="#000" stroke-width="1.4" />
<line x1="1004.36" y1="255.5" x2="1004.36" y2="259" stroke="#000" stroke-width="1.4" />
<line x1="1038.31" y1="255.5" x2="1038.31" y2="259" stroke="#000" stroke-width="1.4" />
<line x1="1072.25" y1="255.5" x2="1072.25" y2="259" stroke="#000" stroke-width="1.4" />
<line x1="1106.19" y1="255.5" x2="1106.19" y2="259" stroke="#000" stroke-width="1.4" />
<line x1="1140.14" y1="255.5" x2="1140.14" y2="259" stroke="#000" stroke-width="1.4" />
<line x1="1174.08" y1="255.5" x2="1174.08" y2="259" stroke="#000" stroke-width="1.4" />
<line x1="1208.03" y1="255.5" x2="1208.03" y2="259" stroke="#000" stroke-width="1.4" />
<text x="1072" y="306" font-size="17.8" text-anchor="middle" font-weight="bold" fill="#000" font-family='"Liberation Sans", sans-serif' >Size (nm)</text>
<text x="0" y="0" font-size="17.8" text-anchor="middle" font-weight="bold" fill="#000" font-family='"Liberation Sans", sans-serif' transform="translate(882.6,153.5) rotate(-90)">Percentage (%)</text>
<rect x="123.5" y="490.2" width="69.8" height="64.71" fill="#ff0000" stroke="#222" stroke-width="1.3" />
<rect x="230.3" y="416.02" width="69.5" height="74.18" fill="#ff0000" stroke="#222" stroke-width="1.3" />
<rect x="336.8" y="433.12" width="69.4" height="57.08" fill="#ff0000" stroke="#222" stroke-width="1.3" />
<line x1="158.4" y1="550.94" x2="158.4" y2="560.41" stroke="#222" stroke-width="1.5" />
<line x1="141.4" y1="550.94" x2="175.4" y2="550.94" stroke="#222" stroke-width="1.5" />
<line x1="141.4" y1="560.41" x2="175.4" y2="560.41" stroke="#222" stroke-width="1.5" />
<line x1="265" y1="410.83" x2="265" y2="419.38" stroke="#222" stroke-width="1.5" />
<line x1="248" y1="410.83" x2="282" y2="410.83" stroke="#222" stroke-width="1.5" />
<line x1="248" y1="419.38" x2="282" y2="419.38" stroke="#222" stroke-width="1.5" />
<line x1="371.5" y1="429.15" x2="371.5" y2="435.87" stroke="#222" stroke-width="1.5" />
<line x1="354.5" y1="429.15" x2="388.5" y2="429.15" stroke="#222" stroke-width="1.5" />
<line x1="354.5" y1="435.87" x2="388.5" y2="435.87" stroke="#222" stroke-width="1.5" />
<line x1="87.2" y1="368" x2="87.2" y2="612" stroke="#222" stroke-width="1.2" />
<line x1="78.5" y1="368.1" x2="87.2" y2="368.1" stroke="#222" stroke-width="1.2" />
<text x="75" y="374.9" font-size="19" text-anchor="end" font-weight="normal" fill="#222" font-family='"Liberation Sans", sans-serif' >40</text>
<line x1="78.5" y1="429.15" x2="87.2" y2="429.15" stroke="#222" stroke-width="1.2" />
<text x="75" y="435.95" font-size="19" text-anchor="end" font-weight="normal" fill="#222" font-family='"Liberation Sans", sans-serif' >20</text>
<line x1="78.5" y1="490.2" x2="87.2" y2="490.2" stroke="#222" stroke-width="1.2" />
<text x="75" y="497" font-size="19" text-anchor="end" font-weight="normal" fill="#222" font-family='"Liberation Sans", sans-serif' >0</text>
<line x1="78.5" y1="551.25" x2="87.2" y2="551.25" stroke="#222" stroke-width="1.2" />
<text x="75" y="558.05" font-size="19" text-anchor="end" font-weight="normal" fill="#222" font-family='"Liberation Sans", sans-serif' >-20</text>
<line x1="87.2" y1="490.2" x2="443" y2="490.2" stroke="#222" stroke-width="1.3" />
<line x1="158.4" y1="490.2" x2="158.4" y2="499.7" stroke="#222" stroke-width="1.2" />
<line x1="265" y1="490.2" x2="265" y2="499.7" stroke="#222" stroke-width="1.2" />
<line x1="371.5" y1="490.2" x2="371.5" y2="499.7" stroke="#222" stroke-width="1.2" />
<polyline points="264.6,393.7 264.6,386.6 371.8,386.6 371.8,413.5" fill="none" stroke="#222" stroke-width="1.1" stroke-linejoin="round" />
<text x="317" y="382.2" font-size="13" text-anchor="middle" font-weight="bold" fill="#222" font-family='"Liberation Sans", sans-serif' >#</text>
<text x="265" y="413" font-size="15" text-anchor="middle" font-weight="normal" fill="#222" font-family='"Liberation Sans", sans-serif' >*</text>
<text x="371.3" y="432" font-size="15" text-anchor="middle" font-weight="normal" fill="#222" font-family='"Liberation Sans", sans-serif' >*</text>
<text x="0" y="0" font-size="20.2" text-anchor="middle" font-weight="normal" fill="#222" font-family='"Liberation Sans", sans-serif' transform="translate(40.5,490) rotate(-90)">Zeta Potential (mV)</text>
<text x="0" y="0" font-size="18.7" text-anchor="end" font-weight="normal" fill="#222" font-family='"Liberation Sans", sans-serif' transform="translate(164,509.5) rotate(-45)">PB</text>
<text x="0" y="0" font-size="18.7" text-anchor="end" font-weight="normal" fill="#222" font-family='"Liberation Sans", sans-serif' transform="translate(270,509.8) rotate(-45)">PB@PAMAM</text>
<text x="0" y="0" font-size="18.7" text-anchor="end" font-weight="normal" fill="#222" font-family='"Liberation Sans", sans-serif' transform="translate(377,509.8) rotate(-45)">PB@PAMAM@Angiopep-2</text>
<polyline points="501.3,376.34 501.64,377.12 501.97,377.34 502.31,377.27 502.65,377.72 502.98,377.96 503.32,378.51 503.65,379.02 503.99,378.98 504.33,379.4 504.66,380.44 505,380.67 505.28,381.58 505.55,381.75 505.83,382.78 506.11,383.71 506.38,384.13 506.66,385.42 506.94,386.17 507.22,386.35 507.49,387.21 507.77,388.53 508.05,389.85 508.32,390.59 508.6,391.5 508.78,393.2 508.95,394.39 509.12,395.88 509.3,397.3 509.6,397.22 509.9,396.86 510.2,396.54 510.5,396.08 510.8,395.67 511.16,395.17 511.53,394.64 511.89,394.93 512.25,394.51 512.61,394.43 512.98,394.05 513.34,394.58 513.7,394.48 514.03,394.19 514.36,394.59 514.69,395.15 515.02,395.45 515.35,395.95 515.68,395.96 516.02,396.62 516.35,396.87 516.68,396.94 517.01,397.41 517.34,397.85 517.67,398.01 518,397.91 518.37,397.71 518.73,397.06 519.1,396.93 519.47,397.03 519.83,396.46 520.2,395.97 520.56,396.2 520.93,396.31 521.29,396.32 521.65,396.17 522.02,396.32 522.38,396.5 522.75,396.82 523.11,396.77 523.47,396.81 523.84,397.01 524.2,396.82 524.56,396.96 524.93,397.56 525.29,397.88 525.65,397.74 526.02,397.73 526.38,397.71 526.75,398.07 527.11,398.54 527.47,398.52 527.84,398.49 528.2,398.85 528.55,398.54 528.89,398.86 529.24,399.29 529.59,399.16 529.94,399.2 530.28,399.2 530.63,399.52 530.98,399.93 531.33,399.39 531.67,400.06 532.02,400.21 532.37,400.39 532.72,400.41 533.06,400.58 533.41,400.51 533.76,400.66 534.11,400.7 534.45,400.56 534.8,401.26 535.15,401.18 535.49,401.04 535.84,401.38 536.19,401.49 536.54,401.53 536.88,401.65 537.23,401.91 537.58,402.1 537.93,402.22 538.27,402.23 538.62,402.06 538.97,402.33 539.32,402.42 539.66,402.83 540.01,403.16 540.36,403.27 540.71,403.43 541.05,403.62 541.4,403.41 541.73,404.12 542.06,404.3 542.39,404.21 542.72,404.49 543.05,404.83 543.38,405.7 543.72,405.7 544.05,405.96 544.38,406.67 544.71,406.83 545.04,406.99 545.37,407.4 545.7,408.01 546.02,408.11 546.34,408.53 546.67,409.18 546.99,409.35 547.31,409.6 547.63,410.05 547.96,410.08 548.28,410.68 548.6,411.04 548.92,411.23 549.24,411.52 549.57,412.41 549.89,412.48 550.21,412.59 550.53,413.15 550.86,413.56 551.18,413.23 551.5,413.43 551.85,413.47 552.19,413.8 552.54,413.31 552.89,413.56 553.24,413.38 553.58,413.1 553.93,412.69 554.28,413.03 554.62,412.71 554.97,412.33 555.32,411.94 555.66,412.05 556.01,411.68 556.36,411.62 556.71,411.25 557.05,411.28 557.4,410.69 557.75,410.66 558.1,410.93 558.44,410.68 558.79,410.08 559.14,410.27 559.49,409.7 559.83,409.94 560.18,409.61 560.53,409.18 560.88,408.87 561.22,408.51 561.57,408.92 561.92,408.14 562.27,408.49 562.61,408.39 562.96,407.93 563.31,407.46 563.66,407.78 564,407.69 564.35,407.35 564.7,407.08 565.06,406.95 565.43,406.9 565.79,406.78 566.15,407.1 566.51,406.94 566.88,406.79 567.24,406.74 567.6,407.15 567.96,406.91 568.33,407.07 568.69,406.96 569.05,407.36 569.41,407.4 569.77,406.8 570.14,406.94 570.5,407.05 570.86,407.52 571.23,407.4 571.59,407.1 571.95,407.05 572.31,407.42 572.67,407.59 573.04,407.74 573.4,407.42 573.74,408.01 574.08,408.11 574.42,408.21 574.76,408.83 575.1,408.58 575.44,409.22 575.78,409.06 576.12,409.42 576.46,410.23 576.8,410.03 577.14,410.68 577.48,410.8 577.82,411.16 578.16,411 578.5,411.12 578.84,410.95 579.18,411.2 579.53,410.83 579.87,410.85 580.21,410.55 580.55,409.74 580.89,409.75 581.24,409.15 581.58,408.82 581.92,408.56 582.26,408.83 582.61,408.49 582.95,408.24 583.29,407.61 583.63,407.54 583.97,407.41 584.32,406.9 584.66,406.82 585,406.39 585.35,406.25 585.7,406.37 586.06,406.81 586.41,406.6 586.76,406.89 587.11,406.62 587.46,406.55 587.81,406.97 588.17,407.06 588.52,406.54 588.87,407.06 589.22,406.72 589.57,406.79 589.92,407.39 590.28,406.86 590.63,407.06 590.98,407.64 591.33,407.3 591.68,407.14 592.03,407.24 592.39,407.35 592.74,407.76 593.09,407.37 593.44,407.99 593.79,407.66 594.14,408.08 594.5,408.03 594.85,407.57 595.2,407.48 595.56,407.39 595.93,406.86 596.29,406.95 596.65,406.21 597.01,405.87 597.38,406.22 597.74,405.41 598.1,405.31 598.44,404.96 598.78,404.64 599.12,404.24 599.46,404.63 599.8,404.46 600.14,404.27 600.48,403.47 600.82,403.35 601.16,403.44 601.5,403.5 601.84,403 602.18,402.91 602.52,402.7 602.86,402.22 603.2,402.23 603.54,401.87 603.88,401.64 604.22,401.33 604.56,401.27 604.9,401.57 605.24,401 605.58,400.95 605.92,400.75 606.26,400.77 606.6,400.19 606.94,399.95 607.28,399.79 607.62,399.61 607.96,399.83 608.3,399.71 608.65,399.22 609.01,399.18 609.36,399.27 609.72,399.25 610.07,399.22 610.42,398.94 610.78,398.76 611.13,398.88 611.49,398.73 611.84,399.04 612.19,398.67 612.55,398.65 612.9,399.01 613.26,398.74 613.61,399.06 613.96,398.82 614.32,399.05 614.67,398.52 615.03,398.74 615.38,398.91 615.74,398.38 616.09,398.96 616.44,398.39 616.8,398.78 617.15,398.9 617.51,398.75 617.86,398.37 618.21,398.19 618.57,398.45 618.92,398.7 619.28,398.23 619.63,398.62 619.98,398.09 620.34,398.63 620.69,398.04 621.05,398.29 621.4,398.76 621.74,398.9 622.08,399.21 622.42,399.42 622.75,399.62 623.09,399.87 623.43,399.82 623.77,400.31 624.11,400.42 624.45,401.17 624.78,401.56 625.12,401.74 625.46,402.13 625.8,403.34 626.02,404.27 626.24,405.18 626.46,406.32 626.68,407.74 626.9,408.72 627.12,410.03 627.34,411.38 627.56,412.76 627.78,414.07 628,416.03 628.12,417.73 628.23,419.75 628.35,421.34 628.46,423.53 628.58,425.42 628.69,427.48 628.81,429.65 628.93,432.12 629.04,433.89 629.16,435.97 629.27,438.19 629.39,440 629.51,441.91 629.62,444.35 629.74,446.45 629.85,448.7 629.97,450.75 630.08,453.16 630.2,455.47 630.28,457.73 630.36,460.56 630.43,463.24 630.51,465.79 630.59,468.41 630.67,470.77 630.74,472.98 630.82,474.68 630.9,475.64 631.01,474.97 631.11,473.34 631.22,471.87 631.33,470.41 631.44,468.62 631.54,465.79 631.65,463.89 631.76,461.64 631.86,458.91 631.97,456.84 632.08,454.59 632.19,451.89 632.29,449.74 632.4,447.37 632.48,444.76 632.56,442.43 632.65,439.93 632.73,437.43 632.81,434.6 632.89,431.75 632.98,429.23 633.06,426.64 633.14,424.31 633.22,421.87 633.31,418.81 633.39,416.68 633.47,414.24 633.55,411.62 633.64,409.47 633.72,407.07 633.8,405.42 634.11,403.75 634.42,403.33 634.72,402.23 635.03,401.23 635.34,400.2 635.65,399.99 635.96,399.35 636.27,398.15 636.58,397.99 636.88,397.47 637.19,396.81 637.5,396.33 637.86,395.93 638.21,396.07 638.57,395.94 638.93,395.4 639.29,395.6 639.64,395.28 640,395.03 640.36,395.07 640.71,394.87 641.07,395.36 641.43,395.33 641.79,394.68 642.14,394.95 642.5,394.76 642.86,394.49 643.21,394.55 643.57,394.46 643.93,394.74 644.29,394.16 644.64,394.23 645,394.34 645.36,393.98 645.71,394.34 646.07,394.27 646.43,394.36 646.79,393.86 647.14,393.85 647.5,393.97 647.86,393.72 648.21,393.87 648.57,393.57 648.93,393.8 649.29,393.8 649.64,393.73 650,393.76 650.38,393.33 650.77,393.17 651.15,393.31 651.53,393.13 651.92,392.87 652.3,392.63 652.65,392.51 653.01,392.35 653.36,392.8 653.72,392.29 654.07,392.72 654.42,392.56 654.78,392.84 655.13,392.69 655.48,392.83 655.84,392.23 656.19,392.47 656.55,392.51 656.9,392.32 657.25,392.44 657.61,392.33 657.96,392.44 658.32,392.05 658.67,392.35 659.02,392.35 659.38,392.23 659.73,392.29 660.08,392.54 660.44,392.46 660.79,392.32 661.15,392.41 661.5,392.21 661.85,392.08 662.21,391.93 662.56,392.11 662.92,392.32 663.27,392.51 663.62,392.46 663.98,392.23 664.33,392.55 664.68,392.17 665.04,392.42 665.39,392.11 665.75,392.33 666.1,392.49 666.45,392 666.81,391.9 667.16,392.2 667.52,392.13 667.87,391.99 668.22,391.73 668.58,391.99 668.93,392.01 669.28,391.98 669.64,392.29 669.99,392.09 670.35,392.19 670.7,392.31 671.06,392.22 671.42,392.05 671.77,392.25 672.13,392.19 672.49,392.22 672.85,392.23 673.21,392.1 673.57,392.28 673.92,392.3 674.28,392.54 674.64,392.45 675,392.52 675.36,392.49 675.71,392.55 676.07,392.42 676.43,392.27 676.79,392.23 677.15,392.56 677.5,392.7 677.86,392.5 678.22,392.24 678.58,392.74 678.94,392.52 679.3,392.54 679.65,392.26 680.01,392.61 680.37,392.8 680.73,392.6 681.09,392.57 681.44,392.81 681.8,392.38 682.16,392.75 682.52,393.08 682.88,392.92 683.23,392.75 683.59,392.97 683.95,392.93 684.31,392.68 684.67,392.72 685.03,393.24 685.38,392.88 685.74,392.82 686.1,393.44 686.43,393.43 686.76,393.55 687.09,393.89 687.41,394.29 687.74,394.16 688.07,394.78 688.4,395.1 688.73,395.45 689.06,395.35 689.39,395.86 689.71,395.87 690.04,396.37 690.37,396.37 690.7,397.07 691.03,397.38 691.36,397.25 691.69,397.43 692.01,398.19 692.34,398.26 692.67,398.6 693,398.27 693.33,399.12 693.66,399.17 693.99,399.17 694.31,399.44 694.64,399.84 694.97,399.99 695.3,399.68 695.64,399.88 695.97,399.42 696.31,399.82 696.65,399.26 696.99,399.37 697.33,399 697.66,398.67 698,398.18 698.34,398.12 698.67,397.61 699.01,397.37 699.35,397.55 699.69,397.11 700.03,397.21 700.36,396.71 700.7,396.92 701.04,397 701.38,396.82 701.72,396.81 702.06,397.17 702.4,397.41 702.74,397.34 703.08,397.61 703.42,397.72 703.76,398.3 704.1,398.71 704.44,398.45 704.78,398.52 705.12,399.19 705.46,399.48 705.8,399.78 706.14,399.74 706.48,399.76 706.82,400.31 707.16,400.01 707.5,400.61 707.84,400.4 708.18,400.82 708.52,401.09 708.86,401.21 709.2,401.26 709.54,401.51 709.88,402.12 710.22,402.07 710.56,402.35 710.9,402.29 711.24,402.84 711.58,402.76 711.92,403.15 712.26,403.57 712.6,403.82 712.93,403.36 713.27,404.08 713.61,404.32 713.95,404.14 714.29,404.38 714.63,404.72 714.97,405.15 715.31,404.99 715.65,405.52 715.99,405.63 716.33,405.41 716.67,406.14 717.01,405.71 717.35,406 717.69,406.56 718.03,406.33 718.37,406.75 718.71,406.78 719.05,407.21 719.39,407.67 719.73,407.91 720.07,407.5 720.4,407.72 720.74,408.46 721.08,408.1 721.42,408.46 721.76,408.55 722.1,408.73 722.44,408.89 722.78,409.52 723.12,409.82 723.46,410 723.8,410.34 724.12,410.5 724.45,410.61 724.77,411.08 725.09,411.63 725.41,411.71 725.74,411.76 726.06,411.95 726.38,412.89 726.7,412.97 727.03,413.12 727.35,413.62 727.67,413.91 727.99,414.21 728.32,414.21 728.64,414.74 728.96,415.1 729.28,415.27 729.61,416.07 729.93,416.08 730.25,416.57 730.57,416.92 730.9,417.27 731.22,417.57 731.54,417.92 731.86,417.89 732.19,418.72 732.51,418.44 732.83,419.24 733.15,419.43 733.48,419.63 733.8,419.25 734.14,419.2 734.48,419.61 734.82,419.24 735.16,419.01 735.49,419.26 735.83,418.38 736.17,418.51 736.51,418.23 736.85,417.79 737.19,417.76 737.53,417.76 737.87,417.67 738.21,416.85 738.54,416.97 738.88,416.42 739.22,416.66 739.56,415.89 739.9,415.57 740.21,415.43 740.52,415.26 740.82,414.55 741.13,413.99 741.44,414.01 741.75,413.55 742.06,413.13 742.36,412.28 742.67,411.91 742.98,411.32 743.29,411.08 743.6,410.46 743.9,410.01 744.21,409.86 744.52,409.52 744.83,408.8 745.14,408 745.44,407.93 745.75,407.32 746.06,407.24 746.37,406.61 746.68,406.26 746.98,405.75 747.29,405.23 747.6,405.09 747.95,404.78 748.29,404.15 748.63,403.82 748.98,403.74 749.33,403.64 749.67,403.15 750.01,403.13 750.36,403.09 750.71,402.53 751.05,402.87 751.39,402.56 751.74,402.13 752.09,401.92 752.43,401.77 752.77,401.55 753.12,401.69 753.47,401.39 753.81,401.31 754.15,400.99 754.5,401.5 754.84,401.35 755.19,401.65 755.53,401.8 755.88,402.8 756.22,402.8 756.57,403.42 756.91,403.69 757.26,403.93 757.6,403.98 757.94,403.73 758.29,403.36 758.63,402.84 758.98,401.89 759.32,401.65 759.67,401.16 760.01,400.96 760.36,400.35 760.7,399.87 761.05,399.77 761.41,399.41 761.76,399.75 762.12,399.52 762.47,399.36 762.82,399.45 763.18,399.86 763.53,399.59 763.89,399.38 764.24,399.41 764.59,399.84 764.95,399.8 765.3,400.08 765.66,399.62 766.01,399.83 766.36,400.1 766.72,399.67 767.07,399.75 767.43,400.11 767.78,399.96 768.13,399.89 768.49,400.05 768.84,400.35 769.2,400.32 769.55,400.05 769.9,400.1 770.26,400.69 770.61,400.59 770.97,400.31 771.32,400.83 771.67,400.29 772.03,400.58 772.38,400.96 772.74,400.91 773.09,400.66 773.44,401.13 773.8,400.97 774.15,401.2 774.51,401.27 774.86,400.99 775.21,401.21 775.57,401.16 775.92,401.49 776.28,401.43 776.63,401.43 776.98,401.52 777.34,401.68 777.69,401.2 778.05,401.19 778.4,401.6" fill="none" stroke="#000" stroke-width="2.0" stroke-linejoin="round" />
<polyline points="501.3,442.42 501.64,442.69 501.97,442.35 502.31,442.65 502.65,443.45 502.98,443.67 503.32,444.02 503.65,444.21 503.99,444.91 504.33,445.45 504.66,446.01 505,446.34 505.22,447.54 505.45,448.56 505.67,449.88 505.89,451.21 506.12,452.37 506.34,453.32 506.56,454.48 506.78,455.58 507.01,456.71 507.23,458.05 507.45,459.77 507.68,461.14 507.9,462.71 508,465.09 508.1,466.91 508.2,469.08 508.3,471.05 508.4,473.16 508.5,475.69 508.6,477.88 508.7,480.46 508.8,483.12 508.9,485.21 509,487.18 509.1,489.75 509.2,491.51 509.3,493.04 509.4,494.48 509.5,495.46 509.62,494.49 509.73,492.95 509.85,491.9 509.96,490.15 510.08,487.61 510.19,485.79 510.31,483.54 510.42,481.13 510.54,478.98 510.65,476.8 510.77,474.99 510.88,472.62 511,470.82 511.21,468.77 511.42,467.47 511.62,465.85 511.83,463.95 512.04,462.47 512.25,461.2 512.45,459.55 512.66,457.87 512.87,456.25 513.08,454.97 513.28,453.97 513.49,452.41 513.7,451.83 514.07,450.96 514.43,451.18 514.8,450.69 515.17,451.26 515.53,451.37 515.9,451.69 516.13,452.94 516.37,454.2 516.6,455.25 516.83,456.08 517.07,456.96 517.3,458.06 517.52,457.88 517.75,457.02 517.97,455.84 518.19,455.39 518.42,454.2 518.64,453.03 518.86,451.24 519.08,450.33 519.31,448.62 519.53,447.87 519.75,446.5 519.98,445.43 520.2,444.91 520.54,443.92 520.89,443.83 521.23,443.73 521.58,443.05 521.92,442.83 522.26,443.16 522.61,442.71 522.95,442.78 523.29,442.16 523.64,442.26 523.98,441.99 524.33,442.21 524.67,441.66 525.01,442.14 525.36,441.35 525.7,441.71 526.04,441.08 526.39,441.11 526.73,441.37 527.08,440.77 527.42,440.66 527.76,440.88 528.11,440.53 528.45,440.16 528.79,440.68 529.14,439.96 529.48,439.75 529.83,439.83 530.17,439.89 530.51,439.86 530.86,439.3 531.2,439.34 531.55,439.04 531.9,439.24 532.25,439.38 532.61,439.29 532.96,439.33 533.31,439.15 533.66,439.16 534.01,438.98 534.36,438.74 534.72,438.5 535.07,438.73 535.42,438.42 535.77,438.2 536.12,438.37 536.47,438.6 536.83,438 537.18,438.25 537.53,438.05 537.88,438.06 538.23,437.73 538.58,438.23 538.94,437.67 539.29,437.84 539.64,437.64 539.99,437.29 540.34,437.6 540.69,437.26 541.05,437.18 541.4,437.18 541.75,437.3 542.1,437.32 542.44,437.99 542.78,438.21 543.12,438.89 543.45,439.22 543.79,439.66 544.13,439.55 544.47,440.12 544.81,440.41 545.15,441.05 545.48,441.47 545.82,441.96 546.16,442.25 546.5,442.28 546.86,442.59 547.23,442.84 547.59,442.64 547.95,442.81 548.31,443.2 548.67,443.1 549.04,443.64 549.4,443.42 549.76,443.43 550.12,443.6 550.49,443.75 550.85,443.84 551.21,444.13 551.57,444.15 551.94,444.09 552.3,444.35 552.64,443.93 552.97,444.29 553.31,444.18 553.64,443.85 553.98,443.47 554.31,443.32 554.65,443.18 554.98,442.61 555.32,442.67 555.65,442.54 555.99,442.11 556.32,441.85 556.66,442.15 556.99,441.64 557.33,441.55 557.66,441.64 558,441.22 558.33,440.8 558.67,441.09 559,440.46 559.34,440.02 559.67,440.29 560.01,439.68 560.34,439.63 560.68,439.81 561.01,439.49 561.35,438.83 561.68,438.94 562.02,438.72 562.35,438.57 562.69,438.18 563.02,438.25 563.36,437.7 563.69,437.68 564.03,437.58 564.36,437.83 564.7,437.1 565.06,437.55 565.43,437.15 565.79,437.42 566.15,437.31 566.51,437.39 566.88,437.64 567.24,437.43 567.6,437.29 567.96,437.33 568.33,437.34 568.69,437.93 569.05,437.83 569.41,438.12 569.77,438.01 570.14,437.63 570.5,438.17 570.85,438.45 571.2,438.61 571.54,438.66 571.89,438.78 572.24,439.08 572.59,439.57 572.93,439.44 573.28,439.86 573.63,440.07 573.98,440.65 574.32,440.78 574.67,441.12 575.02,441.29 575.37,441.16 575.71,441.35 576.06,441.78 576.41,441.91 576.76,442.36 577.1,442.92 577.45,443.52 577.8,443.76 578.03,444.79 578.27,445.11 578.5,446.07 578.73,447.25 578.97,447.35 579.2,448.18 579.5,447.83 579.8,447.65 580.1,447.93 580.4,447.62 580.7,446.91 581,445.99 581.3,445.55 581.6,444.94 581.9,444.69 582.2,444.14 582.5,443.41 582.8,442.91 583.1,442.11 583.4,441.94 583.7,441.8 584,441.29 584.3,440.5 584.63,440.83 584.97,441.06 585.3,440.88 585.63,441.51 585.97,441.43 586.3,441.87 586.63,441.93 586.97,442.61 587.3,442.74 587.63,442.86 587.97,442.83 588.3,443.31 588.63,443.29 588.97,443.96 589.3,444.43 589.63,444.21 589.97,444.71 590.3,444.96 590.63,445.18 590.97,445.71 591.3,446.22 591.63,446.46 591.97,446.74 592.3,447.57 592.54,447.97 592.79,449.14 593.03,450.01 593.28,451.05 593.52,452.02 593.77,452.42 594.01,453.44 594.26,453.92 594.5,454.63 594.76,454.49 595.01,453.79 595.27,452.78 595.53,452.43 595.79,451.82 596.04,451.05 596.3,450.01 596.56,449.24 596.81,447.79 597.07,447.59 597.33,446.62 597.59,445.75 597.84,445.22 598.1,444.49 598.43,443.51 598.75,443.62 599.08,443.24 599.4,442.52 599.73,442.61 600.06,442.25 600.38,441.72 600.71,441.9 601.03,441.18 601.36,441.26 601.69,440.88 602.01,440.51 602.34,440.47 602.66,440.15 602.99,439.72 603.31,440 603.64,439.12 603.97,438.82 604.29,438.9 604.62,438.9 604.94,438.52 605.27,438.34 605.6,437.91 605.92,437.83 606.25,437.38 606.57,437.15 606.9,437.14 607.26,436.77 607.62,436.79 607.99,437.25 608.35,436.85 608.71,437.28 609.08,437.35 609.44,437.12 609.8,437.36 610.16,437.48 610.52,437.57 610.89,437.1 611.25,437.16 611.61,437.36 611.98,437.46 612.34,437.38 612.7,437.22 613.06,437.65 613.42,437.98 613.79,437.6 614.15,437.77 614.51,437.73 614.88,437.86 615.24,438.26 615.6,437.98 615.93,438.45 616.26,438.57 616.6,438.87 616.93,439.4 617.26,439.1 617.59,439.93 617.92,439.86 618.25,440.4 618.59,440.81 618.92,441.01 619.25,441.13 619.58,441.74 619.91,441.52 620.25,442.19 620.58,442.32 620.91,442.72 621.24,443.25 621.57,443.57 621.9,443.87 622.24,444.12 622.57,444.6 622.9,445.35 623.1,446.27 623.3,447.44 623.5,449.11 623.7,449.78 623.9,451.58 624.1,452.65 624.3,454.01 624.5,455.35 624.7,456.55 624.9,458.19 625.1,459.36 625.3,460.93 625.5,462.19 625.7,464.05 625.9,465.57 626.1,466.79 626.3,468.56 626.5,470.45 626.57,472.24 626.64,474.36 626.71,476.79 626.79,479.16 626.86,481.97 626.93,484.28 627,486.8 627.07,489.64 627.14,491.77 627.21,494.7 627.29,497.11 627.36,499.47 627.43,502.3 627.5,504.49 627.57,507.39 627.64,509.96 627.71,512.19 627.79,514.85 627.86,517.56 627.93,519.94 628,522.48 628.07,525.09 628.14,527.66 628.21,530.06 628.29,532.74 628.36,534.79 628.43,537.54 628.5,540.1 628.57,542.39 628.64,544.92 628.71,547.27 628.78,550.32 628.84,552.4 628.91,554.98 628.98,557.78 629.05,559.78 629.12,562.82 629.19,564.74 629.26,567.17 629.33,569.9 629.4,572.4 629.47,575.29 629.53,577.77 629.6,580.18 629.67,582.46 629.74,585.03 629.81,587.32 629.88,590.23 629.95,592.42 630.02,594.85 630.09,597.6 630.16,599.76 630.22,602.1 630.29,604.48 630.36,605.58 630.43,607.02 630.5,608.2 630.57,607.1 630.64,605.81 630.71,604.01 630.78,602.12 630.84,599.82 630.91,597.32 630.98,595.08 631.05,592.39 631.12,589.91 631.19,587.69 631.26,584.69 631.33,582.25 631.4,580.25 631.47,577.45 631.53,575.2 631.6,572.24 631.67,570.02 631.74,567.74 631.81,564.89 631.88,562.69 631.95,560.08 632.02,557.43 632.09,555.35 632.16,552.42 632.22,549.98 632.29,547.58 632.36,544.87 632.43,542.73 632.5,540.06 632.56,537.55 632.62,535.01 632.69,532.81 632.75,530.31 632.81,527.69 632.87,524.92 632.93,522.38 632.99,519.95 633.06,517.1 633.12,514.64 633.18,512.75 633.24,509.63 633.3,507.69 633.36,505 633.43,502.66 633.49,499.56 633.55,497.21 633.61,495.05 633.67,491.99 633.74,489.55 633.8,487.21 633.86,484.58 633.92,482.05 633.98,479.91 634.04,476.99 634.11,475.1 634.17,472.37 634.23,469.44 634.29,467.52 634.35,464.65 634.41,462.49 634.48,460.31 634.54,457.87 634.6,456.08 634.87,454.49 635.14,453.39 635.41,452.79 635.67,451.72 635.94,450.59 636.21,449.88 636.48,449.19 636.75,447.85 637.02,447.27 637.29,446.19 637.56,445.36 637.83,444.56 638.09,443.88 638.36,443.04 638.63,442.47 638.9,441.93 639.24,441.74 639.58,441.57 639.92,441.3 640.26,440.91 640.61,440.53 640.95,440.63 641.29,439.91 641.63,439.67 641.97,439.98 642.31,439.65 642.65,439.16 642.99,439.08 643.34,438.84 643.68,438.76 644.02,438.59 644.36,438.42 644.7,438.55 645.06,438.49 645.41,438.26 645.77,438.15 646.13,437.98 646.48,438.29 646.84,438.42 647.2,437.87 647.55,438.18 647.91,438.16 648.27,438.11 648.62,437.65 648.98,438 649.34,437.73 649.69,437.71 650.05,437.96 650.41,437.98 650.76,437.95 651.12,438.01 651.48,437.96 651.83,437.78 652.19,437.46 652.55,437.95 652.9,437.97 653.26,437.95 653.62,437.77 653.97,437.36 654.33,437.46 654.69,437.39 655.04,437.76 655.4,437.7 655.75,437.5 656.1,438.08 656.45,438.15 656.8,438.16 657.15,437.92 657.5,437.86 657.85,437.87 658.19,438.37 658.54,438.36 658.89,438.13 659.24,438.63 659.59,438.47 659.94,438.43 660.29,438.5 660.64,438.78 660.99,438.66 661.34,438.87 661.69,438.57 662.04,439.04 662.39,438.81 662.74,439.32 663.09,438.9 663.44,439.06 663.78,439.27 664.13,439.23 664.48,439.4 664.83,439.74 665.18,439.3 665.53,439.77 665.88,439.79 666.23,439.92 666.58,439.75 666.93,439.82 667.28,439.82 667.63,439.97 667.98,439.89 668.33,439.91 668.68,440.18 669.03,440.05 669.37,440.31 669.72,440.45 670.07,440.34 670.42,440.31 670.77,440.68 671.12,440.93 671.47,440.55 671.82,440.89 672.17,440.99 672.52,441.22 672.87,441.15 673.22,440.95 673.57,440.95 673.92,441.46 674.27,441.15 674.62,441.02 674.96,441.69 675.31,441.28 675.66,441.43 676.01,441.51 676.36,441.53 676.71,441.93 677.06,441.73 677.41,441.86 677.76,441.92 678.11,442.28 678.46,441.77 678.81,442.24 679.16,441.99 679.51,442.07 679.86,442.46 680.21,442.37 680.55,442.22 680.9,442.65 681.25,442.95 681.6,442.84 681.95,442.82 682.3,443.13 682.65,443.32 683,442.9 683.33,443.19 683.66,443.86 684,444.05 684.33,443.76 684.66,444.35 684.99,444.71 685.33,444.75 685.66,445.07 685.99,445.18 686.32,445.22 686.66,445.45 686.99,445.58 687.32,446.24 687.65,446.11 687.99,446.69 688.32,446.77 688.65,447.04 688.98,447.66 689.32,447.49 689.65,447.79 689.98,447.97 690.31,448.09 690.65,448.34 690.98,448.8 691.31,449.24 691.64,448.97 691.98,449.81 692.31,449.86 692.64,449.66 692.97,450.36 693.31,450.39 693.64,450.71 693.97,450.65 694.3,451.17 694.64,451.4 694.97,451.8 695.3,451.88 695.63,452.13 695.97,452.31 696.3,452.11 696.64,452.13 696.97,452.59 697.31,452.49 697.64,452.64 697.98,452.91 698.31,453.2 698.65,453.39 698.98,453.56 699.32,453.91 699.65,453.46 699.99,453.92 700.32,453.73 700.66,454.28 700.99,454.26 701.33,454.19 701.66,454.45 702,454.84 702.33,454.85 702.67,455.32 703,455.05 703.33,455.18 703.67,455.73 704,455.65 704.34,455.44 704.67,456.06 705.01,455.9 705.34,456.45 705.68,456.38 706.01,456.64 706.35,456.84 706.68,456.71 707.02,457.17 707.35,456.65 707.69,457.02 708.02,457.51 708.36,457.07 708.69,457.67 709.03,458.04 709.36,457.99 709.7,458.25 710.03,457.86 710.37,458.36 710.7,458.59 711.03,458.7 711.36,458.94 711.69,459.45 712.01,459.27 712.34,459.46 712.67,460.12 713,460.65 713.33,460.83 713.66,461 713.99,461.01 714.31,461.71 714.64,461.38 714.97,461.8 715.3,462.45 715.63,462.8 715.96,462.73 716.29,463.36 716.61,463.08 716.94,463.69 717.27,463.6 717.6,463.99 717.93,464.23 718.26,464.38 718.59,464.93 718.91,465.26 719.24,465.37 719.57,465.89 719.9,465.73 720.23,466.27 720.56,466.49 720.9,466.62 721.23,467.19 721.56,466.84 721.89,467.25 722.23,467.47 722.56,467.61 722.89,468.23 723.22,468.15 723.56,468.31 723.89,468.46 724.22,468.66 724.55,469.22 724.89,469.31 725.22,469.4 725.55,469.26 725.88,469.77 726.22,469.64 726.55,470 726.88,469.97 727.21,470.64 727.55,471.03 727.88,471 728.21,471.15 728.54,471.13 728.88,471.46 729.21,471.68 729.54,471.85 729.87,471.94 730.21,472.1 730.54,472.68 730.87,472.99 731.2,473.05 731.54,473.04 731.87,472.73 732.2,473 732.54,473.25 732.89,473.2 733.23,472.73 733.58,472.55 733.92,472.41 734.27,471.86 734.61,471.94 734.96,471.45 735.3,471.54 735.64,471.03 735.99,470.93 736.33,470.61 736.68,470.35 737.02,470.03 737.37,470.1 737.71,469.66 738.06,469.11 738.4,468.83 738.69,468.62 738.98,468.01 739.26,467.43 739.55,467.1 739.84,465.96 740.12,465.72 740.41,465.16 740.7,464.47 740.99,464.25 741.27,463.68 741.56,462.7 741.85,462.28 742.14,461.81 742.42,461.19 742.71,460.38 743,460.11 743.29,459.22 743.58,458.5 743.86,458.29 744.15,457.7 744.44,456.96 744.73,456.45 745.01,456.22 745.3,455.52 745.59,454.66 745.88,454.44 746.16,453.62 746.45,452.94 746.74,452.54 747.02,452.08 747.31,451.6 747.6,450.89 747.91,450.37 748.23,449.68 748.54,448.92 748.85,448.71 749.17,447.98 749.48,448.06 749.8,447.17 750.11,446.85 750.42,446.45 750.74,445.57 751.05,445.53 751.36,444.69 751.68,444.02 751.99,443.9 752.3,443.27 752.62,443.14 752.93,442.32 753.25,441.63 753.56,441.19 753.87,440.86 754.19,440.9 754.5,440.82 754.83,440.55 755.15,440.99 755.48,441.39 755.8,442.03 756.12,442.48 756.45,442.86 756.77,443.15 757.1,443.49 757.42,443.56 757.75,444.08 758.07,443.95 758.4,444.16 758.7,444.1 759,443.41 759.3,442.95 759.6,442.13 759.9,441.3 760.2,440.73 760.5,440.09 760.8,439.22 761.1,439.04 761.4,438.58 761.75,437.82 762.11,437.71 762.46,438 762.82,437.86 763.17,437.49 763.52,437.76 763.88,437.53 764.23,437.99 764.59,437.81 764.94,437.77 765.3,437.55 765.65,437.73 766,437.8 766.36,437.74 766.71,437.63 767.07,437.66 767.42,438.02 767.77,438.2 768.13,438.16 768.48,438.01 768.84,438.15 769.19,437.71 769.55,437.78 769.9,438.14 770.25,437.67 770.61,437.74 770.96,438.25 771.32,437.85 771.67,437.86 772.02,438.03 772.38,438.35 772.73,437.79 773.09,438.41 773.44,438.03 773.8,438.23 774.15,438.18 774.5,437.95 774.86,438.55 775.21,438.02 775.57,438.48 775.92,438.55 776.27,438.27 776.63,438.64 776.98,438.02 777.34,438.09 777.69,438.34 778.05,438.07 778.4,438.59" fill="none" stroke="#ff0000" stroke-width="1.9" stroke-linejoin="round" />
<rect x="471.2" y="366" width="352.8" height="261.4" fill="none" stroke="#000" stroke-width="2" />
<line x1="471.2" y1="627.4" x2="471.2" y2="633.4" stroke="#000" stroke-width="1.6" />
<text x="471.2" y="652.7" font-size="20.3" text-anchor="middle" font-weight="bold" fill="#000" font-family='"Liberation Sans", sans-serif' >0</text>
<line x1="509.62" y1="627.4" x2="509.62" y2="630.9" stroke="#000" stroke-width="1.6" />
<line x1="548.04" y1="627.4" x2="548.04" y2="633.4" stroke="#000" stroke-width="1.6" />
<text x="548.04" y="652.7" font-size="20.3" text-anchor="middle" font-weight="bold" fill="#000" font-family='"Liberation Sans", sans-serif' >1000</text>
<line x1="586.46" y1="627.4" x2="586.46" y2="630.9" stroke="#000" stroke-width="1.6" />
<line x1="624.88" y1="627.4" x2="624.88" y2="633.4" stroke="#000" stroke-width="1.6" />
<text x="624.88" y="652.7" font-size="20.3" text-anchor="middle" font-weight="bold" fill="#000" font-family='"Liberation Sans", sans-serif' >2000</text>
<line x1="663.3" y1="627.4" x2="663.3" y2="630.9" stroke="#000" stroke-width="1.6" />
<line x1="701.72" y1="627.4" x2="701.72" y2="633.4" stroke="#000" stroke-width="1.6" />
<text x="701.72" y="652.7" font-size="20.3" text-anchor="middle" font-weight="bold" fill="#000" font-family='"Liberation Sans", sans-serif' >3000</text>
<line x1="740.14" y1="627.4" x2="740.14" y2="630.9" stroke="#000" stroke-width="1.6" />
<line x1="778.56" y1="627.4" x2="778.56" y2="633.4" stroke="#000" stroke-width="1.6" />
<text x="778.56" y="652.7" font-size="20.3" text-anchor="middle" font-weight="bold" fill="#000" font-family='"Liberation Sans", sans-serif' >4000</text>
<line x1="816.98" y1="627.4" x2="816.98" y2="630.9" stroke="#000" stroke-width="1.6" />
<line x1="638.8" y1="495.8" x2="667" y2="495.8" stroke="#000" stroke-width="2" />
<text x="669.5" y="500.3" font-size="12.5" text-anchor="start" font-weight="bold" fill="#000" font-family='"Liberation Sans", sans-serif' >PB@PAMAM</text>
<line x1="638.8" y1="511.8" x2="667" y2="511.8" stroke="#ff0000" stroke-width="2" />
<text x="669.5" y="516.3" font-size="12.5" text-anchor="start" font-weight="bold" fill="#ff0000" font-family='"Liberation Sans", sans-serif' >PB@PAMAM@angiopep2</text>
<text x="610.5" y="598.5" font-size="14.5" text-anchor="middle" font-weight="bold" fill="#000" font-family='"Liberation Sans", sans-serif' >-CN-</text>
<text x="647.5" y="689" font-size="20.8" text-anchor="middle" font-weight="bold" font-family='"Liberation Sans", sans-serif'>Wavenumber (cm<tspan font-size="11" dy="-9">-1</tspan><tspan dy="9">)</tspan></text>
<rect x="918.5" y="397.6" width="307.5" height="228.4" fill="none" stroke="#000" stroke-width="2" />
<polyline points="918.5,626 994.8,626 1001.8,581.7 1009.8,476.1 1017.2,416.8 1025.2,447.2 1032.2,504.9 1040.3,559.3 1047.6,591.3 1054.7,609 1062.7,618.5 1073.9,622.7 1096.3,625.3 1118.8,626 1226,626" fill="none" stroke="#000" stroke-width="1.6" stroke-linejoin="round" />
<polyline points="918.5,626 1025.2,626 1032.2,591.3 1040.3,514.5 1047.6,434.4 1055.3,445.6 1062.7,485.7 1070.7,546.5 1077.7,581.7 1091.5,610.5 1105.9,622.7 1118.8,626 1226,626" fill="none" stroke="#ff0000" stroke-width="1.6" stroke-linejoin="round" />
<line x1="913.7" y1="626" x2="918.5" y2="626" stroke="#000" stroke-width="1.6" />
<text x="911.5" y="632.2" font-size="17.9" text-anchor="end" font-weight="bold" fill="#000" font-family='"Liberation Sans", sans-serif' >0</text>
<line x1="913.7" y1="584.36" x2="918.5" y2="584.36" stroke="#000" stroke-width="1.6" />
<text x="911.5" y="590.56" font-size="17.9" text-anchor="end" font-weight="bold" fill="#000" font-family='"Liberation Sans", sans-serif' >5</text>
<line x1="913.7" y1="542.72" x2="918.5" y2="542.72" stroke="#000" stroke-width="1.6" />
<text x="911.5" y="548.92" font-size="17.9" text-anchor="end" font-weight="bold" fill="#000" font-family='"Liberation Sans", sans-serif' >10</text>
<line x1="913.7" y1="501.08" x2="918.5" y2="501.08" stroke="#000" stroke-width="1.6" />
<text x="911.5" y="507.28" font-size="17.9" text-anchor="end" font-weight="bold" fill="#000" font-family='"Liberation Sans", sans-serif' >15</text>
<line x1="913.7" y1="459.44" x2="918.5" y2="459.44" stroke="#000" stroke-width="1.6" />
<text x="911.5" y="465.64" font-size="17.9" text-anchor="end" font-weight="bold" fill="#000" font-family='"Liberation Sans", sans-serif' >20</text>
<line x1="913.7" y1="417.8" x2="918.5" y2="417.8" stroke="#000" stroke-width="1.6" />
<text x="911.5" y="424" font-size="17.9" text-anchor="end" font-weight="bold" fill="#000" font-family='"Liberation Sans", sans-serif' >25</text>
<line x1="915" y1="605.18" x2="918.5" y2="605.18" stroke="#000" stroke-width="1.4" />
<line x1="915" y1="563.54" x2="918.5" y2="563.54" stroke="#000" stroke-width="1.4" />
<line x1="915" y1="521.9" x2="918.5" y2="521.9" stroke="#000" stroke-width="1.4" />
<line x1="915" y1="480.26" x2="918.5" y2="480.26" stroke="#000" stroke-width="1.4" />
<line x1="915" y1="438.62" x2="918.5" y2="438.62" stroke="#000" stroke-width="1.4" />
<line x1="918.5" y1="626" x2="918.5" y2="632" stroke="#000" stroke-width="1.6" />
<text x="918.5" y="648" font-size="17" text-anchor="middle" font-weight="bold" fill="#000" font-family='"Liberation Sans", sans-serif' >10</text>
<line x1="953.96" y1="626" x2="953.96" y2="629.5" stroke="#000" stroke-width="1.3" />
<line x1="974.7" y1="626" x2="974.7" y2="629.5" stroke="#000" stroke-width="1.3" />
<line x1="989.42" y1="626" x2="989.42" y2="629.5" stroke="#000" stroke-width="1.3" />
<line x1="1000.84" y1="626" x2="1000.84" y2="629.5" stroke="#000" stroke-width="1.3" />
<line x1="1010.17" y1="626" x2="1010.17" y2="629.5" stroke="#000" stroke-width="1.3" />
<line x1="1018.05" y1="626" x2="1018.05" y2="629.5" stroke="#000" stroke-width="1.3" />
<line x1="1024.88" y1="626" x2="1024.88" y2="629.5" stroke="#000" stroke-width="1.3" />
<line x1="1030.91" y1="626" x2="1030.91" y2="629.5" stroke="#000" stroke-width="1.3" />
<line x1="1036.3" y1="626" x2="1036.3" y2="632" stroke="#000" stroke-width="1.6" />
<text x="1036.3" y="648" font-size="17" text-anchor="middle" font-weight="bold" fill="#000" font-family='"Liberation Sans", sans-serif' >100</text>
<line x1="1071.76" y1="626" x2="1071.76" y2="629.5" stroke="#000" stroke-width="1.3" />
<line x1="1092.5" y1="626" x2="1092.5" y2="629.5" stroke="#000" stroke-width="1.3" />
<line x1="1107.22" y1="626" x2="1107.22" y2="629.5" stroke="#000" stroke-width="1.3" />
<line x1="1118.64" y1="626" x2="1118.64" y2="629.5" stroke="#000" stroke-width="1.3" />
<line x1="1127.97" y1="626" x2="1127.97" y2="629.5" stroke="#000" stroke-width="1.3" />
<line x1="1135.85" y1="626" x2="1135.85" y2="629.5" stroke="#000" stroke-width="1.3" />
<line x1="1142.68" y1="626" x2="1142.68" y2="629.5" stroke="#000" stroke-width="1.3" />
<line x1="1148.71" y1="626" x2="1148.71" y2="629.5" stroke="#000" stroke-width="1.3" />
<line x1="1154.1" y1="626" x2="1154.1" y2="632" stroke="#000" stroke-width="1.6" />
<text x="1154.1" y="648" font-size="17" text-anchor="middle" font-weight="bold" fill="#000" font-family='"Liberation Sans", sans-serif' >1000</text>
<line x1="1189.56" y1="626" x2="1189.56" y2="629.5" stroke="#000" stroke-width="1.3" />
<line x1="1210.3" y1="626" x2="1210.3" y2="629.5" stroke="#000" stroke-width="1.3" />
<line x1="1225.02" y1="626" x2="1225.02" y2="629.5" stroke="#000" stroke-width="1.3" />
<line x1="1038.7" y1="409.5" x2="1062.7" y2="409.5" stroke="#000" stroke-width="1.8" />
<text x="1066.5" y="414.2" font-size="12.85" text-anchor="start" font-weight="bold" fill="#000" font-family='"Liberation Sans", sans-serif' >PB@PAMAM</text>
<line x1="1038.7" y1="424.8" x2="1062.7" y2="424.8" stroke="#ff0000" stroke-width="1.8" />
<text x="1066.5" y="429.5" font-size="12.85" text-anchor="start" font-weight="bold" fill="#ff0000" font-family='"Liberation Sans", sans-serif' >PB@PAMAM@angiopep2</text>
<text x="1071.3" y="676" font-size="17" text-anchor="middle" font-weight="bold" fill="#000" font-family='"Liberation Sans", sans-serif' >Size (d.nm)</text>
<text x="0" y="0" font-size="17.6" text-anchor="middle" font-weight="bold" fill="#000" font-family='"Liberation Sans", sans-serif' transform="translate(874,515) rotate(-90)">Number (Percent)</text>
<rect x="12.2" y="733" width="555.2" height="241.2" fill="#08356a" stroke="none" stroke-width="1" />
<path d="M18.5,974.2 L18.5,972.5 L18.8,972.2 L19.2,971.0 L19.5,966.7 L19.9,955.3 L20.2,935.4 L20.6,913.5 L20.9,903.7 L21.2,913.5 L21.6,935.4 L21.9,955.3 L22.3,966.7 L22.6,971.0 L22.9,972.2 L23.3,972.4 L23.6,968.0 L24.0,967.6 L24.3,967.7 L24.7,967.9 L25.0,966.8 L25.3,966.0 L25.7,964.6 L26.0,961.5 L26.4,957.9 L26.7,952.1 L27.1,944.1 L27.4,932.3 L27.7,919.4 L28.1,904.1 L28.4,889.3 L28.8,874.2 L29.1,860.7 L29.4,853.5 L29.8,849.9 L30.1,851.0 L30.5,857.2 L30.8,866.1 L31.2,876.8 L31.5,888.0 L31.8,896.1 L32.2,902.3 L32.5,905.6 L32.9,906.5 L33.2,907.1 L33.5,907.2 L33.9,908.9 L34.2,911.4 L34.6,916.3 L34.9,922.5 L35.3,930.1 L35.6,937.4 L35.9,944.2 L36.3,951.3 L36.6,955.8 L37.0,958.4 L37.3,959.1 L37.7,957.7 L38.0,955.5 L38.3,953.0 L38.7,950.7 L39.0,950.9 L39.4,951.5 L39.7,954.6 L40.0,957.1 L40.4,961.0 L40.7,963.0 L41.1,962.7 L41.4,962.2 L41.8,960.6 L42.1,955.3 L42.4,949.1 L42.8,939.4 L43.1,928.6 L43.5,918.8 L43.8,909.7 L44.2,902.6 L44.5,900.0 L44.8,902.7 L45.2,909.9 L45.5,919.0 L45.9,928.6 L46.2,939.2 L46.5,947.9 L46.9,954.9 L47.2,960.9 L47.6,963.3 L47.9,965.8 L48.3,966.7 L48.6,966.9 L48.9,967.9 L49.3,967.2 L49.6,968.0 L50.0,967.3 L50.3,967.7 L50.6,967.4 L51.0,967.5 L51.3,968.4 L51.7,968.2 L52.0,967.4 L52.4,968.1 L52.7,963.7 L53.0,963.4 L53.4,963.1 L53.7,961.4 L54.1,958.8 L54.4,957.7 L54.8,954.1 L55.1,951.9 L55.4,951.0 L55.8,949.8 L56.1,950.3 L56.5,951.6 L56.8,954.0 L57.1,957.2 L57.5,959.1 L57.8,961.5 L58.2,962.6 L58.5,963.6 L58.9,964.8 L59.2,964.5 L59.5,964.8 L59.9,965.2 L60.2,964.3 L60.6,964.3 L60.9,965.4 L61.3,965.2 L61.6,964.5 L61.9,964.4 L62.3,965.2 L62.6,965.4 L63.0,964.4 L63.3,965.5 L63.6,965.4 L64.0,965.0 L64.3,964.8 L64.7,964.3 L65.0,964.2 L65.4,965.5 L65.7,964.5 L66.0,965.2 L66.4,964.6 L66.7,965.4 L67.1,965.1 L67.4,964.7 L67.7,964.5 L68.1,965.3 L68.4,964.4 L68.8,964.6 L69.1,965.1 L69.5,965.5 L69.8,965.2 L70.1,964.7 L70.5,965.6 L70.8,964.6 L71.2,964.4 L71.5,964.7 L71.9,965.0 L72.2,964.4 L72.5,964.6 L72.9,964.9 L73.2,965.2 L73.6,964.6 L73.9,964.9 L74.2,965.5 L74.6,965.5 L74.9,964.7 L75.3,964.2 L75.6,962.8 L76.0,960.2 L76.3,956.6 L76.6,951.2 L77.0,944.6 L77.3,933.2 L77.7,919.1 L78.0,900.2 L78.4,881.0 L78.7,859.7 L79.0,840.2 L79.4,823.2 L79.7,813.2 L80.1,808.1 L80.4,812.6 L80.7,823.8 L81.1,840.5 L81.4,860.2 L81.8,881.1 L82.1,901.3 L82.5,919.2 L82.8,932.9 L83.1,944.4 L83.5,952.6 L83.8,958.0 L84.2,960.7 L84.5,963.3 L84.8,964.6 L85.2,964.9 L85.5,965.3 L85.9,965.1 L86.2,965.4 L86.6,965.5 L86.9,964.8 L87.2,965.6 L87.6,966.1 L87.9,966.0 L88.3,965.8 L88.6,965.3 L89.0,965.8 L89.3,965.6 L89.6,965.4 L90.0,965.9 L90.3,964.9 L90.7,965.8 L91.0,964.8 L91.3,965.6 L91.7,965.5 L92.0,965.1 L92.4,965.8 L92.7,965.5 L93.1,965.7 L93.4,966.1 L93.7,965.2 L94.1,964.9 L94.4,965.3 L94.8,965.8 L95.1,965.2 L95.4,965.1 L95.8,966.2 L96.1,965.8 L96.5,965.5 L96.8,966.2 L97.2,965.4 L97.5,965.9 L97.8,965.2 L98.2,965.6 L98.5,966.1 L98.9,966.3 L99.2,966.2 L99.6,965.5 L99.9,965.8 L100.2,965.5 L100.6,965.2 L100.9,965.7 L101.3,966.2 L101.6,966.2 L101.9,966.0 L102.3,966.4 L102.6,965.5 L103.0,965.3 L103.3,965.7 L103.7,965.5 L104.0,965.4 L104.3,965.7 L104.7,966.0 L105.0,965.8 L105.4,965.5 L105.7,966.2 L106.1,966.3 L106.4,965.3 L106.7,964.3 L107.1,963.5 L107.4,963.4 L107.8,960.5 L108.1,959.0 L108.4,955.9 L108.8,952.2 L109.1,949.6 L109.5,945.7 L109.8,944.0 L110.2,943.7 L110.5,943.8 L110.8,946.9 L111.2,948.9 L111.5,952.0 L111.9,955.2 L112.2,959.0 L112.5,961.1 L112.9,963.2 L113.2,964.5 L113.6,965.5 L113.9,966.2 L114.3,966.1 L114.6,965.5 L114.9,966.0 L115.3,965.6 L115.6,965.4 L116.0,966.0 L116.3,966.4 L116.7,965.6 L117.0,965.8 L117.3,965.9 L117.7,966.4 L118.0,966.2 L118.4,966.3 L118.7,966.5 L119.0,966.0 L119.4,966.6 L119.7,966.7 L120.1,965.6 L120.4,966.8 L120.8,966.5 L121.1,965.7 L121.4,966.1 L121.8,966.4 L122.1,966.8 L122.5,966.1 L122.8,966.3 L123.2,966.8 L123.5,966.7 L123.8,966.9 L124.2,966.2 L124.5,966.5 L124.9,965.9 L125.2,966.6 L125.5,966.7 L125.9,966.5 L126.2,966.6 L126.6,965.9 L126.9,966.9 L127.3,967.0 L127.6,967.0 L127.9,966.4 L128.3,966.7 L128.6,966.0 L129.0,966.8 L129.3,966.6 L129.6,965.7 L130.0,965.1 L130.3,965.1 L130.7,964.6 L131.0,964.1 L131.4,962.6 L131.7,960.6 L132.0,960.2 L132.4,957.5 L132.7,956.9 L133.1,954.6 L133.4,953.6 L133.8,953.5 L134.1,952.3 L134.4,952.6 L134.8,953.9 L135.1,955.4 L135.5,957.1 L135.8,958.5 L136.1,960.5 L136.5,961.4 L136.8,963.4 L137.2,963.3 L137.5,964.3 L137.9,965.4 L138.2,965.5 L138.5,966.5 L138.9,966.5 L139.2,966.5 L139.6,967.0 L139.9,966.7 L140.3,966.4 L140.6,966.5 L140.9,967.1 L141.3,967.2 L141.6,966.3 L142.0,967.2 L142.3,967.4 L142.6,966.7 L143.0,966.8 L143.3,966.3 L143.7,966.8 L144.0,966.7 L144.4,966.9 L144.7,966.1 L145.0,967.4 L145.4,966.8 L145.7,966.6 L146.1,967.2 L146.4,966.9 L146.7,966.8 L147.1,967.1 L147.4,966.2 L147.8,966.9 L148.1,966.7 L148.5,967.5 L148.8,967.4 L149.1,966.5 L149.5,966.8 L149.8,966.3 L150.2,966.8 L150.5,967.3 L150.9,967.5 L151.2,966.9 L151.5,966.7 L151.9,966.5 L152.2,967.1 L152.6,967.5 L152.9,966.4 L153.2,967.3 L153.6,966.3 L153.9,966.5 L154.3,966.6 L154.6,967.2 L155.0,966.7 L155.3,966.8 L155.6,967.2 L156.0,966.5 L156.3,967.3 L156.7,966.5 L157.0,967.1 L157.4,966.7 L157.7,966.6 L158.0,967.1 L158.4,967.0 L158.7,966.9 L159.1,967.0 L159.4,967.1 L159.7,966.6 L160.1,966.7 L160.4,967.3 L160.8,967.3 L161.1,967.2 L161.5,967.6 L161.8,967.3 L162.1,967.7 L162.5,966.8 L162.8,967.5 L163.2,967.6 L163.5,967.8 L163.8,966.9 L164.2,966.9 L164.5,967.8 L164.9,966.8 L165.2,967.9 L165.6,967.8 L165.9,966.7 L166.2,966.9 L166.6,967.6 L166.9,966.9 L167.3,966.7 L167.6,967.8 L168.0,967.2 L168.3,967.7 L168.6,966.8 L169.0,967.2 L169.3,967.6 L169.7,966.7 L170.0,966.9 L170.3,967.6 L170.7,967.9 L171.0,968.0 L171.4,966.8 L171.7,967.4 L172.1,967.8 L172.4,967.4 L172.7,967.7 L173.1,967.0 L173.4,966.8 L173.8,966.9 L174.1,966.8 L174.5,967.5 L174.8,967.5 L175.1,967.6 L175.5,967.0 L175.8,967.0 L176.2,967.1 L176.5,968.0 L176.8,968.2 L177.2,968.1 L177.5,967.0 L177.9,966.9 L178.2,968.2 L178.6,967.5 L178.9,967.9 L179.2,967.3 L179.6,967.5 L179.9,967.6 L180.3,967.5 L180.6,967.7 L180.9,966.9 L181.3,967.9 L181.6,968.1 L182.0,967.2 L182.3,967.6 L182.7,968.0 L183.0,967.5 L183.3,967.2 L183.7,967.2 L184.0,967.7 L184.4,967.0 L184.7,968.2 L185.1,968.1 L185.4,968.0 L185.7,968.2 L186.1,967.9 L186.4,967.6 L186.8,967.9 L187.1,967.8 L187.4,968.4 L187.8,968.2 L188.1,967.4 L188.5,968.4 L188.8,968.1 L189.2,968.2 L189.5,968.2 L189.8,967.7 L190.2,968.4 L190.5,968.4 L190.9,968.1 L191.2,968.2 L191.6,968.2 L191.9,967.7 L192.2,968.2 L192.6,967.3 L192.9,967.7 L193.3,967.8 L193.6,967.2 L193.9,967.7 L194.3,968.1 L194.6,968.1 L195.0,967.6 L195.3,968.6 L195.7,968.2 L196.0,967.7 L196.3,968.2 L196.7,970.4 L197.0,970.3 L197.4,970.1 L197.7,971.0 L198.0,970.5 L198.4,970.6 L198.7,970.7 L199.1,971.0 L199.4,969.6 L199.8,970.5 L200.1,970.6 L200.4,970.0 L200.8,970.2 L201.1,969.7 L201.5,969.9 L201.8,970.1 L202.2,969.7 L202.5,970.0 L202.8,970.9 L203.2,970.4 L203.5,970.3 L203.9,971.0 L204.2,970.4 L204.5,971.0 L204.9,970.5 L205.2,970.7 L205.6,969.7 L205.9,970.4 L206.3,970.7 L206.6,969.7 L206.9,970.9 L207.3,969.8 L207.6,970.3 L208.0,969.8 L208.3,970.3 L208.7,970.5 L209.0,969.7 L209.3,970.9 L209.7,970.2 L210.0,970.3 L210.4,970.4 L210.7,970.1 L211.0,970.0 L211.4,970.5 L211.7,970.4 L212.1,970.0 L212.4,970.6 L212.8,970.0 L213.1,969.6 L213.4,969.9 L213.8,969.7 L214.1,969.8 L214.5,970.7 L214.8,970.1 L215.1,970.9 L215.5,970.6 L215.8,969.7 L216.2,971.0 L216.5,970.9 L216.9,969.7 L217.2,970.9 L217.5,970.2 L217.9,970.3 L218.2,971.0 L218.6,969.9 L218.9,970.3 L219.3,970.9 L219.6,970.6 L219.9,970.3 L220.3,971.0 L220.6,970.7 L221.0,970.4 L221.3,969.8 L221.6,970.5 L222.0,970.2 L222.3,969.9 L222.7,969.7 L223.0,970.3 L223.4,969.8 L223.7,970.2 L224.0,970.5 L224.4,970.2 L224.7,970.0 L225.1,970.4 L225.4,970.2 L225.8,970.7 L226.1,970.3 L226.4,971.0 L226.8,970.9 L227.1,970.6 L227.5,969.9 L227.8,969.8 L228.1,970.8 L228.5,970.7 L228.8,970.5 L229.2,970.1 L229.5,970.0 L229.9,970.5 L230.2,970.4 L230.5,970.4 L230.9,970.4 L231.2,970.4 L231.6,969.5 L231.9,969.3 L232.2,969.8 L232.6,969.0 L232.9,967.7 L233.3,964.7 L233.6,962.1 L234.0,958.6 L234.3,953.6 L234.6,947.0 L235.0,937.4 L235.3,927.1 L235.7,913.4 L236.0,898.4 L236.4,882.7 L236.7,865.1 L237.0,847.9 L237.4,831.2 L237.7,817.2 L238.1,805.8 L238.4,799.0 L238.7,797.1 L239.1,799.7 L239.4,805.6 L239.8,816.7 L240.1,831.8 L240.5,847.9 L240.8,865.4 L241.1,884.0 L241.5,900.9 L241.8,915.6 L242.2,929.5 L242.5,939.8 L242.9,949.0 L243.2,956.4 L243.5,960.7 L243.9,964.7 L244.2,967.7 L244.6,969.8 L244.9,970.3 L245.2,971.0 L245.6,971.1 L245.9,972.4 L246.3,971.5 L246.6,971.6 L247.0,972.3 L247.3,972.2 L247.6,972.5 L248.0,972.0 L248.3,972.7 L248.7,971.7 L249.0,971.9 L249.3,972.5 L249.7,971.7 L250.0,972.0 L250.4,972.6 L250.7,972.6 L251.1,972.0 L251.4,971.8 L251.7,972.1 L252.1,972.6 L252.4,972.1 L252.8,971.8 L253.1,972.6 L253.5,972.4 L253.8,972.9 L254.1,972.9 L254.5,972.9 L254.8,972.2 L255.2,972.7 L255.5,971.9 L255.8,971.8 L256.2,971.8 L256.5,972.3 L256.9,971.9 L257.2,970.4 L257.6,969.8 L257.9,968.7 L258.2,967.3 L258.6,965.6 L258.9,963.5 L259.3,960.8 L259.6,958.6 L260.0,956.2 L260.3,953.2 L260.6,951.2 L261.0,949.0 L261.3,947.3 L261.7,947.7 L262.0,948.2 L262.3,948.6 L262.7,950.1 L263.0,953.1 L263.4,955.8 L263.7,958.6 L264.1,961.8 L264.4,963.8 L264.7,966.2 L265.1,966.9 L265.4,969.0 L265.8,970.4 L266.1,970.2 L266.4,970.7 L266.8,972.0 L267.1,972.5 L267.5,971.5 L267.8,972.4 L268.2,971.7 L268.5,972.6 L268.8,972.5 L269.2,971.9 L269.5,971.9 L269.9,972.7 L270.2,972.3 L270.6,972.7 L270.9,972.2 L271.2,972.1 L271.6,973.0 L271.9,972.5 L272.3,972.3 L272.6,972.4 L272.9,972.6 L273.3,972.6 L273.6,972.9 L274.0,972.2 L274.3,972.8 L274.7,972.5 L275.0,972.8 L275.3,972.7 L275.7,972.8 L276.0,972.8 L276.4,972.9 L276.7,972.5 L277.1,972.3 L277.4,972.6 L277.7,972.7 L278.1,972.2 L278.4,972.2 L278.8,971.8 L279.1,972.6 L279.4,973.0 L279.8,972.1 L280.1,971.8 L280.5,971.9 L280.8,972.2 L281.2,972.0 L281.5,973.0 L281.8,971.7 L282.2,972.0 L282.5,971.8 L282.9,972.5 L283.2,972.7 L283.5,971.9 L283.9,971.7 L284.2,972.2 L284.6,972.4 L284.9,972.9 L285.3,971.7 L285.6,971.8 L285.9,971.9 L286.3,971.9 L286.6,971.9 L287.0,972.6 L287.3,972.4 L287.7,971.9 L288.0,971.9 L288.3,972.0 L288.7,971.8 L289.0,972.7 L289.4,972.0 L289.7,972.4 L290.0,972.7 L290.4,972.3 L290.7,972.0 L291.1,972.8 L291.4,972.9 L291.8,972.1 L292.1,972.4 L292.4,972.9 L292.8,972.3 L293.1,971.9 L293.5,971.7 L293.8,972.9 L294.2,972.7 L294.5,972.1 L294.8,972.3 L295.2,972.3 L295.5,972.0 L295.9,973.0 L296.2,972.5 L296.5,971.9 L296.9,971.6 L297.2,972.3 L297.6,972.1 L297.9,972.7 L298.3,972.6 L298.6,972.4 L298.9,971.8 L299.3,971.8 L299.6,972.1 L300.0,972.0 L300.3,972.8 L300.6,972.3 L301.0,972.5 L301.3,973.0 L301.7,972.0 L302.0,972.3 L302.4,971.8 L302.7,972.7 L303.0,971.6 L303.4,972.7 L303.7,972.8 L304.1,972.8 L304.4,971.7 L304.8,972.0 L305.1,972.6 L305.4,971.7 L305.8,972.3 L306.1,972.3 L306.5,972.9 L306.8,972.4 L307.1,972.8 L307.5,972.0 L307.8,972.7 L308.2,972.2 L308.5,972.9 L308.9,971.7 L309.2,972.8 L309.5,971.9 L309.9,972.4 L310.2,972.3 L310.6,971.8 L310.9,972.8 L311.3,972.0 L311.6,972.0 L311.9,971.7 L312.3,972.0 L312.6,972.3 L313.0,972.6 L313.3,972.1 L313.6,972.6 L314.0,971.7 L314.3,972.2 L314.7,972.2 L315.0,973.0 L315.4,972.8 L315.7,972.5 L316.0,971.6 L316.4,972.1 L316.7,972.6 L317.1,971.9 L317.4,972.4 L317.7,972.2 L318.1,971.6 L318.4,973.0 L318.8,972.7 L319.1,971.9 L319.5,972.5 L319.8,972.0 L320.1,972.1 L320.5,972.4 L320.8,972.0 L321.2,972.1 L321.5,972.1 L321.9,972.5 L322.2,972.0 L322.5,971.9 L322.9,972.6 L323.2,972.1 L323.6,972.9 L323.9,972.4 L324.2,972.6 L324.6,972.1 L324.9,972.8 L325.3,971.7 L325.6,971.8 L326.0,971.7 L326.3,972.5 L326.6,972.6 L327.0,971.9 L327.3,972.2 L327.7,972.8 L328.0,972.4 L328.4,971.7 L328.7,971.9 L329.0,971.8 L329.4,971.8 L329.7,972.2 L330.1,971.7 L330.4,972.9 L330.7,972.2 L331.1,972.3 L331.4,972.5 L331.8,972.7 L332.1,972.7 L332.5,972.1 L332.8,972.1 L333.1,972.2 L333.5,971.6 L333.8,972.2 L334.2,972.6 L334.5,973.0 L334.8,972.7 L335.2,972.5 L335.5,972.5 L335.9,971.6 L336.2,972.1 L336.6,972.1 L336.9,972.5 L337.2,971.7 L337.6,972.1 L337.9,972.3 L338.3,972.7 L338.6,972.8 L339.0,972.5 L339.3,971.8 L339.6,972.7 L340.0,972.9 L340.3,972.4 L340.7,972.1 L341.0,972.3 L341.3,971.8 L341.7,972.6 L342.0,973.0 L342.4,972.3 L342.7,972.6 L343.1,972.8 L343.4,971.9 L343.7,972.9 L344.1,972.5 L344.4,971.9 L344.8,971.7 L345.1,971.9 L345.5,972.4 L345.8,972.6 L346.1,972.1 L346.5,972.9 L346.8,972.1 L347.2,972.2 L347.5,971.8 L347.8,973.0 L348.2,971.8 L348.5,972.9 L348.9,972.4 L349.2,972.4 L349.6,972.4 L349.9,972.0 L350.2,972.9 L350.6,973.0 L350.9,972.7 L351.3,972.4 L351.6,971.8 L351.9,972.8 L352.3,972.0 L352.6,972.9 L353.0,971.9 L353.3,972.4 L353.7,972.8 L354.0,971.9 L354.3,972.4 L354.7,971.7 L355.0,971.6 L355.4,971.9 L355.7,973.0 L356.1,972.9 L356.4,972.5 L356.7,972.0 L357.1,972.5 L357.4,972.6 L357.8,972.1 L358.1,972.4 L358.4,972.7 L358.8,971.6 L359.1,971.9 L359.5,972.3 L359.8,971.8 L360.2,972.1 L360.5,972.4 L360.8,971.8 L361.2,972.3 L361.5,972.0 L361.9,972.4 L362.2,972.1 L362.6,972.5 L362.9,971.7 L363.2,972.5 L363.6,971.8 L363.9,972.9 L364.3,972.4 L364.6,972.3 L364.9,972.2 L365.3,972.5 L365.6,972.6 L366.0,972.7 L366.3,972.7 L366.7,972.3 L367.0,973.0 L367.3,972.8 L367.7,972.8 L368.0,972.2 L368.4,972.2 L368.7,972.4 L369.0,972.9 L369.4,972.3 L369.7,972.3 L370.1,972.2 L370.4,972.9 L370.8,972.0 L371.1,971.7 L371.4,972.6 L371.8,972.9 L372.1,974.2 L372.5,974.2 L372.8,974.2 L373.2,974.2 L373.5,974.2 L373.8,974.2 L374.2,974.2 L374.5,974.2 L374.9,974.2 L375.2,974.2 L375.5,974.2 L375.9,974.2 L376.2,972.6 L376.6,972.4 L376.9,972.7 L377.3,972.0 L377.6,972.4 L377.9,971.7 L378.3,971.8 L378.6,972.2 L379.0,972.3 L379.3,972.2 L379.7,971.7 L380.0,972.6 L380.3,972.3 L380.7,971.9 L381.0,972.0 L381.4,972.2 L381.7,971.9 L382.0,971.7 L382.4,972.9 L382.7,973.0 L383.1,974.2 L383.4,974.2 L383.8,974.2 L384.1,974.2 L384.4,974.2 L384.8,974.2 L385.1,974.2 L385.5,974.2 L385.8,974.2 L386.1,974.2 L386.5,974.2 L386.8,974.2 L387.2,974.2 L387.5,974.2 L387.9,974.2 L387.9,974.2 Z" fill="#ffff00" stroke="none"/>
<line x1="20.4" y1="733" x2="20.4" y2="974.2" stroke="#1a2a3a" stroke-width="1.2" />
<line x1="29.2" y1="797.1" x2="29.2" y2="803.6" stroke="#9aa4b4" stroke-width="1.6" />
<ellipse cx="29.2" cy="789.1" rx="10" ry="10" fill="#9ba5b5"/>
<text x="29.2" y="793.6" font-size="12.8" text-anchor="middle" font-weight="normal" fill="#f6f6f6" font-family='"Liberation Sans", sans-serif' >C</text>
<line x1="29.2" y1="820.4" x2="29.2" y2="826.9" stroke="#9aa4b4" stroke-width="1.6" />
<ellipse cx="29.2" cy="812.4" rx="10" ry="10" fill="#9ba5b5"/>
<text x="29.2" y="816.9" font-size="12.8" text-anchor="middle" font-weight="normal" fill="#f6f6f6" font-family='"Liberation Sans", sans-serif' >K</text>
<line x1="32.7" y1="844" x2="32.7" y2="850.5" stroke="#9aa4b4" stroke-width="1.6" />
<ellipse cx="32.7" cy="836" rx="10" ry="10" fill="#9ba5b5"/>
<text x="32.7" y="840.5" font-size="12.8" text-anchor="middle" font-weight="normal" fill="#f6f6f6" font-family='"Liberation Sans", sans-serif' >N</text>
<line x1="43.1" y1="881.6" x2="43.1" y2="888.1" stroke="#9aa4b4" stroke-width="1.6" />
<ellipse cx="43.1" cy="873.6" rx="12.3" ry="10.2" fill="#9ba5b5"/>
<text x="43.1" y="878.1" font-size="12.8" text-anchor="middle" font-weight="normal" fill="#f6f6f6" font-family='"Liberation Sans", sans-serif' >Fe</text>
<line x1="36.4" y1="903.8" x2="36.4" y2="910.3" stroke="#9aa4b4" stroke-width="1.6" />
<ellipse cx="36.4" cy="895.8" rx="10" ry="10" fill="#9ba5b5"/>
<text x="36.4" y="900.3" font-size="12.8" text-anchor="middle" font-weight="normal" fill="#f6f6f6" font-family='"Liberation Sans", sans-serif' >O</text>
<line x1="59.8" y1="944.3" x2="59.8" y2="950.8" stroke="#9aa4b4" stroke-width="1.6" />
<ellipse cx="59.8" cy="936.3" rx="12.3" ry="10.2" fill="#9ba5b5"/>
<text x="59.8" y="940.8" font-size="12.8" text-anchor="middle" font-weight="normal" fill="#f6f6f6" font-family='"Liberation Sans", sans-serif' >Gd</text>
<line x1="132.7" y1="946.1" x2="132.7" y2="952.6" stroke="#9aa4b4" stroke-width="1.6" />
<ellipse cx="132.7" cy="938.1" rx="10" ry="10" fill="#9ba5b5"/>
<text x="132.7" y="942.6" font-size="12.8" text-anchor="middle" font-weight="normal" fill="#f6f6f6" font-family='"Liberation Sans", sans-serif' >K</text>
<line x1="238.4" y1="792.2" x2="238.4" y2="798.7" stroke="#9aa4b4" stroke-width="1.6" />
<ellipse cx="238.4" cy="784.2" rx="12.3" ry="10.2" fill="#9ba5b5"/>
<text x="238.4" y="788.7" font-size="12.8" text-anchor="middle" font-weight="normal" fill="#f6f6f6" font-family='"Liberation Sans", sans-serif' >Fe</text>
<line x1="226.7" y1="929.7" x2="226.7" y2="936.2" stroke="#9aa4b4" stroke-width="1.6" />
<ellipse cx="226.7" cy="921.7" rx="12.3" ry="10.2" fill="#9ba5b5"/>
<text x="226.7" y="926.2" font-size="12.8" text-anchor="middle" font-weight="normal" fill="#f6f6f6" font-family='"Liberation Sans", sans-serif' >Gd</text>
<line x1="260.4" y1="919.3" x2="260.4" y2="925.8" stroke="#9aa4b4" stroke-width="1.6" />
<ellipse cx="260.4" cy="911.3" rx="12.3" ry="10.2" fill="#9ba5b5"/>
<text x="260.4" y="915.8" font-size="12.8" text-anchor="middle" font-weight="normal" fill="#f6f6f6" font-family='"Liberation Sans", sans-serif' >Fe</text>
<line x1="261.4" y1="942.8" x2="261.4" y2="949.3" stroke="#9aa4b4" stroke-width="1.6" />
<ellipse cx="261.4" cy="934.8" rx="12.3" ry="10.2" fill="#9ba5b5"/>
<text x="261.4" y="939.3" font-size="12.8" text-anchor="middle" font-weight="normal" fill="#f6f6f6" font-family='"Liberation Sans", sans-serif' >Gd</text>
<line x1="201.8" y1="963.5" x2="201.8" y2="970" stroke="#9aa4b4" stroke-width="1.6" />
<ellipse cx="201.8" cy="955.5" rx="12.3" ry="10.2" fill="#9ba5b5"/>
<text x="201.8" y="960" font-size="12.8" text-anchor="middle" font-weight="normal" fill="#f6f6f6" font-family='"Liberation Sans", sans-serif' >Gd</text>
<line x1="295.6" y1="965.8" x2="295.6" y2="972.3" stroke="#9aa4b4" stroke-width="1.6" />
<ellipse cx="295.6" cy="957.8" rx="12.3" ry="10.2" fill="#9ba5b5"/>
<text x="295.6" y="962.3" font-size="12.8" text-anchor="middle" font-weight="normal" fill="#f6f6f6" font-family='"Liberation Sans", sans-serif' >Gd</text>
<rect x="284.8" y="734.4" width="276.4" height="160.9" fill="#a6cdf0" stroke="none" stroke-width="1" />
<line x1="284.8" y1="756.6" x2="561.2" y2="756.6" stroke="#3d5f84" stroke-width="1.1" />
<line x1="284.8" y1="779.3" x2="561.2" y2="779.3" stroke="#3d5f84" stroke-width="1.1" />
<line x1="284.8" y1="802" x2="561.2" y2="802" stroke="#3d5f84" stroke-width="1.1" />
<line x1="284.8" y1="825" x2="561.2" y2="825" stroke="#3d5f84" stroke-width="1.1" />
<line x1="284.8" y1="847.7" x2="561.2" y2="847.7" stroke="#3d5f84" stroke-width="1.1" />
<line x1="284.8" y1="870.6" x2="561.2" y2="870.6" stroke="#3d5f84" stroke-width="1.1" />
<line x1="369.5" y1="734.4" x2="369.5" y2="895.3" stroke="#3d5f84" stroke-width="1.1" />
<line x1="475.3" y1="734.4" x2="475.3" y2="895.3" stroke="#3d5f84" stroke-width="1.1" />
<rect x="284.8" y="734.4" width="276.4" height="160.9" fill="none" stroke="#6f8fae" stroke-width="1" />
<text x="285.5" y="752" font-size="16" font-family='"Liberation Mono", monospace' fill="#111" transform="translate(285.5,752) scale(1,1.15) translate(-285.5,-752)" textLength="67.9" lengthAdjust="spacingAndGlyphs">Element</text>
<text x="370.5" y="752" font-size="16" font-family='"Liberation Mono", monospace' fill="#111" transform="translate(370.5,752) scale(1,1.15) translate(-370.5,-752)" textLength="87.3" lengthAdjust="spacingAndGlyphs">Weight(%)</text>
<text x="476.3" y="752" font-size="16" font-family='"Liberation Mono", monospace' fill="#111" transform="translate(476.3,752) scale(1,1.15) translate(-476.3,-752)" textLength="67.9" lengthAdjust="spacingAndGlyphs">Atom(%)</text>
<text x="285.5" y="774.1" font-size="18.5" text-anchor="start" font-weight="bold" fill="#000" font-family='"Liberation Serif", serif' >C K</text>
<text x="370.5" y="774.1" font-size="18.5" text-anchor="start" font-weight="bold" fill="#000" font-family='"Liberation Serif", serif' >30.07</text>
<text x="476.3" y="774.1" font-size="18.5" text-anchor="start" font-weight="bold" fill="#000" font-family='"Liberation Serif", serif' >42.66</text>
<text x="285.5" y="796.88" font-size="18.5" text-anchor="start" font-weight="bold" fill="#000" font-family='"Liberation Serif", serif' >N K</text>
<text x="370.5" y="796.88" font-size="18.5" text-anchor="start" font-weight="bold" fill="#000" font-family='"Liberation Serif", serif' >33.96</text>
<text x="476.3" y="796.88" font-size="18.5" text-anchor="start" font-weight="bold" fill="#000" font-family='"Liberation Serif", serif' >41.31</text>
<text x="285.5" y="819.66" font-size="18.5" text-anchor="start" font-weight="bold" fill="#000" font-family='"Liberation Serif", serif' >O K</text>
<text x="370.5" y="819.66" font-size="18.5" text-anchor="start" font-weight="bold" fill="#000" font-family='"Liberation Serif", serif' >6.73</text>
<text x="476.3" y="819.66" font-size="18.5" text-anchor="start" font-weight="bold" fill="#000" font-family='"Liberation Serif", serif' >7.17</text>
<text x="285.5" y="842.44" font-size="18.5" text-anchor="start" font-weight="bold" fill="#000" font-family='"Liberation Serif", serif' >K K</text>
<text x="370.5" y="842.44" font-size="18.5" text-anchor="start" font-weight="bold" fill="#000" font-family='"Liberation Serif", serif' >0.74</text>
<text x="476.3" y="842.44" font-size="18.5" text-anchor="start" font-weight="bold" fill="#000" font-family='"Liberation Serif", serif' >0.32</text>
<text x="285.5" y="865.22" font-size="18.5" text-anchor="start" font-weight="bold" fill="#000" font-family='"Liberation Serif", serif' >Fe K</text>
<text x="370.5" y="865.22" font-size="18.5" text-anchor="start" font-weight="bold" fill="#000" font-family='"Liberation Serif", serif' >27.66</text>
<text x="476.3" y="865.22" font-size="18.5" text-anchor="start" font-weight="bold" fill="#000" font-family='"Liberation Serif", serif' >8.44</text>
<text x="285.5" y="888" font-size="18.5" text-anchor="start" font-weight="bold" fill="#000" font-family='"Liberation Serif", serif' >Gd L</text>
<text x="370.5" y="888" font-size="18.5" text-anchor="start" font-weight="bold" fill="#000" font-family='"Liberation Serif", serif' >0.83</text>
<text x="476.3" y="888" font-size="18.5" text-anchor="start" font-weight="bold" fill="#000" font-family='"Liberation Serif", serif' >0.09</text>
<rect x="12.2" y="974.2" width="555.2" height="35.8" fill="#ffffff" stroke="none" stroke-width="1" />
<line x1="12.7" y1="974.2" x2="12.7" y2="1003" stroke="#2a5a9a" stroke-width="1.2" />
<line x1="566.9" y1="974.2" x2="566.9" y2="1006" stroke="#2a5a9a" stroke-width="1.2" />
<line x1="12.2" y1="974.7" x2="567.4" y2="974.7" stroke="#333" stroke-width="1" />
<line x1="18.5" y1="974.2" x2="18.5" y2="979.7" stroke="#333" stroke-width="1.1" />
<line x1="25.34" y1="974.2" x2="25.34" y2="977.7" stroke="#333" stroke-width="0.9" />
<line x1="32.18" y1="974.2" x2="32.18" y2="977.7" stroke="#333" stroke-width="0.9" />
<line x1="39.02" y1="974.2" x2="39.02" y2="977.7" stroke="#333" stroke-width="0.9" />
<line x1="45.86" y1="974.2" x2="45.86" y2="977.7" stroke="#333" stroke-width="0.9" />
<line x1="52.7" y1="974.2" x2="52.7" y2="979.7" stroke="#333" stroke-width="1.1" />
<line x1="59.54" y1="974.2" x2="59.54" y2="977.7" stroke="#333" stroke-width="0.9" />
<line x1="66.38" y1="974.2" x2="66.38" y2="977.7" stroke="#333" stroke-width="0.9" />
<line x1="73.22" y1="974.2" x2="73.22" y2="977.7" stroke="#333" stroke-width="0.9" />
<line x1="80.06" y1="974.2" x2="80.06" y2="977.7" stroke="#333" stroke-width="0.9" />
<line x1="86.9" y1="974.2" x2="86.9" y2="979.7" stroke="#333" stroke-width="1.1" />
<line x1="93.74" y1="974.2" x2="93.74" y2="977.7" stroke="#333" stroke-width="0.9" />
<line x1="100.58" y1="974.2" x2="100.58" y2="977.7" stroke="#333" stroke-width="0.9" />
<line x1="107.42" y1="974.2" x2="107.42" y2="977.7" stroke="#333" stroke-width="0.9" />
<line x1="114.26" y1="974.2" x2="114.26" y2="977.7" stroke="#333" stroke-width="0.9" />
<line x1="121.1" y1="974.2" x2="121.1" y2="979.7" stroke="#333" stroke-width="1.1" />
<line x1="127.94" y1="974.2" x2="127.94" y2="977.7" stroke="#333" stroke-width="0.9" />
<line x1="134.78" y1="974.2" x2="134.78" y2="977.7" stroke="#333" stroke-width="0.9" />
<line x1="141.62" y1="974.2" x2="141.62" y2="977.7" stroke="#333" stroke-width="0.9" />
<line x1="148.46" y1="974.2" x2="148.46" y2="977.7" stroke="#333" stroke-width="0.9" />
<line x1="155.3" y1="974.2" x2="155.3" y2="979.7" stroke="#333" stroke-width="1.1" />
<line x1="162.14" y1="974.2" x2="162.14" y2="977.7" stroke="#333" stroke-width="0.9" />
<line x1="168.98" y1="974.2" x2="168.98" y2="977.7" stroke="#333" stroke-width="0.9" />
<line x1="175.82" y1="974.2" x2="175.82" y2="977.7" stroke="#333" stroke-width="0.9" />
<line x1="182.66" y1="974.2" x2="182.66" y2="977.7" stroke="#333" stroke-width="0.9" />
<line x1="189.5" y1="974.2" x2="189.5" y2="979.7" stroke="#333" stroke-width="1.1" />
<line x1="196.34" y1="974.2" x2="196.34" y2="977.7" stroke="#333" stroke-width="0.9" />
<line x1="203.18" y1="974.2" x2="203.18" y2="977.7" stroke="#333" stroke-width="0.9" />
<line x1="210.02" y1="974.2" x2="210.02" y2="977.7" stroke="#333" stroke-width="0.9" />
<line x1="216.86" y1="974.2" x2="216.86" y2="977.7" stroke="#333" stroke-width="0.9" />
<line x1="223.7" y1="974.2" x2="223.7" y2="979.7" stroke="#333" stroke-width="1.1" />
<line x1="230.54" y1="974.2" x2="230.54" y2="977.7" stroke="#333" stroke-width="0.9" />
<line x1="237.38" y1="974.2" x2="237.38" y2="977.7" stroke="#333" stroke-width="0.9" />
<line x1="244.22" y1="974.2" x2="244.22" y2="977.7" stroke="#333" stroke-width="0.9" />
<line x1="251.06" y1="974.2" x2="251.06" y2="977.7" stroke="#333" stroke-width="0.9" />
<line x1="257.9" y1="974.2" x2="257.9" y2="979.7" stroke="#333" stroke-width="1.1" />
<line x1="264.74" y1="974.2" x2="264.74" y2="977.7" stroke="#333" stroke-width="0.9" />
<line x1="271.58" y1="974.2" x2="271.58" y2="977.7" stroke="#333" stroke-width="0.9" />
<line x1="278.42" y1="974.2" x2="278.42" y2="977.7" stroke="#333" stroke-width="0.9" />
<line x1="285.26" y1="974.2" x2="285.26" y2="977.7" stroke="#333" stroke-width="0.9" />
<line x1="292.1" y1="974.2" x2="292.1" y2="979.7" stroke="#333" stroke-width="1.1" />
<line x1="298.94" y1="974.2" x2="298.94" y2="977.7" stroke="#333" stroke-width="0.9" />
<line x1="305.78" y1="974.2" x2="305.78" y2="977.7" stroke="#333" stroke-width="0.9" />
<line x1="312.62" y1="974.2" x2="312.62" y2="977.7" stroke="#333" stroke-width="0.9" />
<line x1="319.46" y1="974.2" x2="319.46" y2="977.7" stroke="#333" stroke-width="0.9" />
<line x1="326.3" y1="974.2" x2="326.3" y2="979.7" stroke="#333" stroke-width="1.1" />
<line x1="333.14" y1="974.2" x2="333.14" y2="977.7" stroke="#333" stroke-width="0.9" />
<line x1="339.98" y1="974.2" x2="339.98" y2="977.7" stroke="#333" stroke-width="0.9" />
<line x1="346.82" y1="974.2" x2="346.82" y2="977.7" stroke="#333" stroke-width="0.9" />
<line x1="353.66" y1="974.2" x2="353.66" y2="977.7" stroke="#333" stroke-width="0.9" />
<line x1="360.5" y1="974.2" x2="360.5" y2="979.7" stroke="#333" stroke-width="1.1" />
<line x1="367.34" y1="974.2" x2="367.34" y2="977.7" stroke="#333" stroke-width="0.9" />
<line x1="374.18" y1="974.2" x2="374.18" y2="977.7" stroke="#333" stroke-width="0.9" />
<line x1="381.02" y1="974.2" x2="381.02" y2="977.7" stroke="#333" stroke-width="0.9" />
<line x1="387.86" y1="974.2" x2="387.86" y2="977.7" stroke="#333" stroke-width="0.9" />
<line x1="394.7" y1="974.2" x2="394.7" y2="979.7" stroke="#333" stroke-width="1.1" />
<line x1="401.54" y1="974.2" x2="401.54" y2="977.7" stroke="#333" stroke-width="0.9" />
<line x1="408.38" y1="974.2" x2="408.38" y2="977.7" stroke="#333" stroke-width="0.9" />
<line x1="415.22" y1="974.2" x2="415.22" y2="977.7" stroke="#333" stroke-width="0.9" />
<line x1="422.06" y1="974.2" x2="422.06" y2="977.7" stroke="#333" stroke-width="0.9" />
<line x1="428.9" y1="974.2" x2="428.9" y2="979.7" stroke="#333" stroke-width="1.1" />
<line x1="435.74" y1="974.2" x2="435.74" y2="977.7" stroke="#333" stroke-width="0.9" />
<line x1="442.58" y1="974.2" x2="442.58" y2="977.7" stroke="#333" stroke-width="0.9" />
<line x1="449.42" y1="974.2" x2="449.42" y2="977.7" stroke="#333" stroke-width="0.9" />
<line x1="456.26" y1="974.2" x2="456.26" y2="977.7" stroke="#333" stroke-width="0.9" />
<line x1="463.1" y1="974.2" x2="463.1" y2="979.7" stroke="#333" stroke-width="1.1" />
<line x1="469.94" y1="974.2" x2="469.94" y2="977.7" stroke="#333" stroke-width="0.9" />
<line x1="476.78" y1="974.2" x2="476.78" y2="977.7" stroke="#333" stroke-width="0.9" />
<line x1="483.62" y1="974.2" x2="483.62" y2="977.7" stroke="#333" stroke-width="0.9" />
<line x1="490.46" y1="974.2" x2="490.46" y2="977.7" stroke="#333" stroke-width="0.9" />
<line x1="497.3" y1="974.2" x2="497.3" y2="979.7" stroke="#333" stroke-width="1.1" />
<line x1="504.14" y1="974.2" x2="504.14" y2="977.7" stroke="#333" stroke-width="0.9" />
<line x1="510.98" y1="974.2" x2="510.98" y2="977.7" stroke="#333" stroke-width="0.9" />
<line x1="517.82" y1="974.2" x2="517.82" y2="977.7" stroke="#333" stroke-width="0.9" />
<line x1="524.66" y1="974.2" x2="524.66" y2="977.7" stroke="#333" stroke-width="0.9" />
<line x1="531.5" y1="974.2" x2="531.5" y2="979.7" stroke="#333" stroke-width="1.1" />
<line x1="538.34" y1="974.2" x2="538.34" y2="977.7" stroke="#333" stroke-width="0.9" />
<line x1="545.18" y1="974.2" x2="545.18" y2="977.7" stroke="#333" stroke-width="0.9" />
<line x1="552.02" y1="974.2" x2="552.02" y2="977.7" stroke="#333" stroke-width="0.9" />
<line x1="558.86" y1="974.2" x2="558.86" y2="977.7" stroke="#333" stroke-width="0.9" />
<line x1="565.7" y1="974.2" x2="565.7" y2="979.7" stroke="#333" stroke-width="1.1" />
<text x="18.5" y="997" font-size="13.5" text-anchor="middle" font-weight="normal" fill="#333" font-family='"Liberation Sans", sans-serif' >0</text>
<text x="86.9" y="997" font-size="13.5" text-anchor="middle" font-weight="normal" fill="#333" font-family='"Liberation Sans", sans-serif' >2</text>
<text x="155.3" y="997" font-size="13.5" text-anchor="middle" font-weight="normal" fill="#333" font-family='"Liberation Sans", sans-serif' >4</text>
<text x="223.7" y="997" font-size="13.5" text-anchor="middle" font-weight="normal" fill="#333" font-family='"Liberation Sans", sans-serif' >6</text>
<text x="292.1" y="997" font-size="13.5" text-anchor="middle" font-weight="normal" fill="#333" font-family='"Liberation Sans", sans-serif' >8</text>
<text x="360.5" y="997" font-size="13.5" text-anchor="middle" font-weight="normal" fill="#333" font-family='"Liberation Sans", sans-serif' >10</text>
<text x="428.9" y="997" font-size="13.5" text-anchor="middle" font-weight="normal" fill="#333" font-family='"Liberation Sans", sans-serif' >12</text>
<text x="497.3" y="997" font-size="13.5" text-anchor="middle" font-weight="normal" fill="#333" font-family='"Liberation Sans", sans-serif' >14</text>
<text x="565.7" y="997" font-size="13.5" text-anchor="middle" font-weight="normal" fill="#333" font-family='"Liberation Sans", sans-serif' >16</text>
<rect x="567.6" y="980" width="18" height="22" fill="#ffffff" stroke="none" stroke-width="1" />
<text x="290" y="1009" font-size="13" text-anchor="middle" font-weight="bold" fill="#333" font-family='"Liberation Sans", sans-serif' >Kev</text>
<path d="M661.5,944.7 C664.45,943.3 673.15,939.25 679.2,936.3 C685.25,933.35 692.53,930.72 697.8,927 C703.07,923.28 705.53,919.58 710.8,914 C716.07,908.42 723.2,900.63 729.4,893.5 C735.6,886.37 741.8,878.33 748,871.2 C754.2,864.07 760.38,856.9 766.6,850.7 C772.82,844.5 779.08,839.27 785.3,834 C791.52,828.73 797.7,823.6 803.9,819.1 C810.1,814.6 816.3,810.42 822.5,807 C828.7,803.58 834.9,800.77 841.1,798.6 C847.3,796.43 853.5,795.18 859.7,794 C865.9,792.82 875.2,791.92 878.3,791.5" fill="none" stroke="#000000" stroke-width="1.7"/>
<path d="M661.5,945.2 C664.45,944.03 672.53,940.92 679.2,938.2 C685.87,935.48 694.68,933.25 701.5,928.9 C708.32,924.55 713.9,917.38 720.1,912.1 C726.3,906.82 732.5,901.85 738.7,897.2 C744.9,892.55 751.1,888.53 757.3,884.2 C763.5,879.87 769.68,875.53 775.9,871.2 C782.12,866.87 788.38,862.08 794.6,858.2 C800.82,854.32 807,851.02 813.2,847.9 C819.4,844.78 825.6,841.98 831.8,839.5 C838,837.02 842.65,835.1 850.4,833 C858.15,830.9 873.65,827.92 878.3,826.9" fill="none" stroke="#ff0000" stroke-width="1.7"/>
<path d="M661.5,945.5 C664.45,944.43 672.53,941.57 679.2,939.1 C685.87,936.63 694.68,934.27 701.5,930.7 C708.32,927.13 713.9,921.73 720.1,917.7 C726.3,913.67 732.5,909.92 738.7,906.5 C744.9,903.08 746.43,902.15 757.3,897.2 C768.17,892.25 789.93,882.53 803.9,876.8 C817.87,871.07 828.7,867.15 841.1,862.8 C853.5,858.45 872.1,852.72 878.3,850.7" fill="none" stroke="#0000ff" stroke-width="1.7"/>
<path d="M661.5,946.2 C666.62,945.8 680.88,945.45 692.2,943.8 C703.52,942.15 717,938.85 729.4,936.3 C741.8,933.75 754.18,931.05 766.6,928.5 C779.02,925.95 791.48,923.42 803.9,921 C816.32,918.58 828.7,916.32 841.1,914 C853.5,911.68 872.1,908.25 878.3,907.1" fill="none" stroke="#2a9090" stroke-width="1.7"/>
<rect x="640.5" y="775.2" width="259" height="192.9" fill="none" stroke="#000" stroke-width="2" />
<line x1="635.5" y1="948.8" x2="640.5" y2="948.8" stroke="#000" stroke-width="1.5" />
<line x1="899.5" y1="948.8" x2="895.5" y2="948.8" stroke="#000" stroke-width="1.5" />
<text x="633.5" y="953.6" font-size="16.5" text-anchor="end" font-weight="bold" fill="#000" font-family='"Liberation Sans", sans-serif' letter-spacing="-0.9">0.0</text>
<line x1="635.5" y1="910.15" x2="640.5" y2="910.15" stroke="#000" stroke-width="1.5" />
<line x1="899.5" y1="910.15" x2="895.5" y2="910.15" stroke="#000" stroke-width="1.5" />
<text x="633.5" y="914.95" font-size="16.5" text-anchor="end" font-weight="bold" fill="#000" font-family='"Liberation Sans", sans-serif' letter-spacing="-0.9">0.5</text>
<line x1="635.5" y1="871.5" x2="640.5" y2="871.5" stroke="#000" stroke-width="1.5" />
<line x1="899.5" y1="871.5" x2="895.5" y2="871.5" stroke="#000" stroke-width="1.5" />
<text x="633.5" y="876.3" font-size="16.5" text-anchor="end" font-weight="bold" fill="#000" font-family='"Liberation Sans", sans-serif' letter-spacing="-0.9">1.0</text>
<line x1="635.5" y1="832.85" x2="640.5" y2="832.85" stroke="#000" stroke-width="1.5" />
<line x1="899.5" y1="832.85" x2="895.5" y2="832.85" stroke="#000" stroke-width="1.5" />
<text x="633.5" y="837.65" font-size="16.5" text-anchor="end" font-weight="bold" fill="#000" font-family='"Liberation Sans", sans-serif' letter-spacing="-0.9">1.5</text>
<line x1="635.5" y1="794.2" x2="640.5" y2="794.2" stroke="#000" stroke-width="1.5" />
<line x1="899.5" y1="794.2" x2="895.5" y2="794.2" stroke="#000" stroke-width="1.5" />
<text x="633.5" y="799" font-size="16.5" text-anchor="end" font-weight="bold" fill="#000" font-family='"Liberation Sans", sans-serif' letter-spacing="-0.9">2.0</text>
<line x1="637.5" y1="968.12" x2="640.5" y2="968.12" stroke="#000" stroke-width="1.3" />
<line x1="637.5" y1="929.47" x2="640.5" y2="929.47" stroke="#000" stroke-width="1.3" />
<line x1="637.5" y1="890.82" x2="640.5" y2="890.82" stroke="#000" stroke-width="1.3" />
<line x1="637.5" y1="852.17" x2="640.5" y2="852.17" stroke="#000" stroke-width="1.3" />
<line x1="637.5" y1="813.52" x2="640.5" y2="813.52" stroke="#000" stroke-width="1.3" />
<line x1="637.5" y1="774.88" x2="640.5" y2="774.88" stroke="#000" stroke-width="1.3" />
<line x1="662.1" y1="968.1" x2="662.1" y2="973.1" stroke="#000" stroke-width="1.5" />
<text x="662.1" y="986.9" font-size="15.5" text-anchor="middle" font-weight="bold" fill="#000" font-family='"Liberation Sans", sans-serif' >0</text>
<line x1="705.34" y1="968.1" x2="705.34" y2="973.1" stroke="#000" stroke-width="1.5" />
<text x="705.34" y="986.9" font-size="15.5" text-anchor="middle" font-weight="bold" fill="#000" font-family='"Liberation Sans", sans-serif' >2</text>
<line x1="748.58" y1="968.1" x2="748.58" y2="973.1" stroke="#000" stroke-width="1.5" />
<text x="748.58" y="986.9" font-size="15.5" text-anchor="middle" font-weight="bold" fill="#000" font-family='"Liberation Sans", sans-serif' >4</text>
<line x1="791.82" y1="968.1" x2="791.82" y2="973.1" stroke="#000" stroke-width="1.5" />
<text x="791.82" y="986.9" font-size="15.5" text-anchor="middle" font-weight="bold" fill="#000" font-family='"Liberation Sans", sans-serif' >6</text>
<line x1="835.06" y1="968.1" x2="835.06" y2="973.1" stroke="#000" stroke-width="1.5" />
<text x="835.06" y="986.9" font-size="15.5" text-anchor="middle" font-weight="bold" fill="#000" font-family='"Liberation Sans", sans-serif' >8</text>
<line x1="878.3" y1="968.1" x2="878.3" y2="973.1" stroke="#000" stroke-width="1.5" />
<text x="878.3" y="986.9" font-size="15.5" text-anchor="middle" font-weight="bold" fill="#000" font-family='"Liberation Sans", sans-serif' >10</text>
<line x1="683.72" y1="968.1" x2="683.72" y2="971.1" stroke="#000" stroke-width="1.3" />
<line x1="726.96" y1="968.1" x2="726.96" y2="971.1" stroke="#000" stroke-width="1.3" />
<line x1="770.2" y1="968.1" x2="770.2" y2="971.1" stroke="#000" stroke-width="1.3" />
<line x1="813.44" y1="968.1" x2="813.44" y2="971.1" stroke="#000" stroke-width="1.3" />
<line x1="856.68" y1="968.1" x2="856.68" y2="971.1" stroke="#000" stroke-width="1.3" />
<line x1="648.5" y1="786.1" x2="669" y2="786.1" stroke="#000000" stroke-width="1.8" />
<text x="671.7" y="789.9" font-size="10.7" text-anchor="start" font-weight="bold" fill="#000" font-family='"Liberation Sans", sans-serif' >2.0ug/mL</text>
<line x1="648.5" y1="799.2" x2="669" y2="799.2" stroke="#ff0000" stroke-width="1.8" />
<text x="671.7" y="803" font-size="10.7" text-anchor="start" font-weight="bold" fill="#000" font-family='"Liberation Sans", sans-serif' >1.0ug/mL</text>
<line x1="648.5" y1="812.6" x2="669" y2="812.6" stroke="#0000ff" stroke-width="1.8" />
<text x="671.7" y="816.4" font-size="10.7" text-anchor="start" font-weight="bold" fill="#000" font-family='"Liberation Sans", sans-serif' >0.5ug/mL</text>
<line x1="648.5" y1="825.6" x2="669" y2="825.6" stroke="#2a9090" stroke-width="1.8" />
<text x="671.7" y="829.4" font-size="10.7" text-anchor="start" font-weight="bold" fill="#000" font-family='"Liberation Sans", sans-serif' >0.0ug/mL</text>
<text x="770.3" y="1011" font-size="15.5" text-anchor="middle" font-weight="bold" fill="#000" font-family='"Liberation Sans", sans-serif' >Time (min)</text>
<text x="0" y="0" font-size="15.1" text-anchor="middle" font-weight="bold" fill="#000" font-family='"Liberation Sans", sans-serif' transform="translate(596.2,876.5) rotate(-90)">Absorbance (a.u.)</text>
<polyline points="987.1,907.3 1009.66,860.66 1032.22,829.57 1054.78,814.94 1077.34,804.88 1122.46,798.48 1167.58,797.56 1212.7,797.56" fill="none" stroke="#0000ff" stroke-width="1.6" stroke-linejoin="round" />
<polyline points="987.1,941.14 1032.22,939.31 1077.34,936.57 1122.46,936.57 1145.02,933.82 1190.14,931.99 1212.7,931.99" fill="none" stroke="#ff0000" stroke-width="1.5" stroke-linejoin="round" />
<polyline points="987.1,947.54 1032.22,947.54 1077.34,944.8 1122.46,944.8 1145.02,945.71 1190.14,942.97 1212.7,941.14" fill="none" stroke="#000" stroke-width="1.4" stroke-linejoin="round" />
<polygon points="987.1,903.7 983.5,909.9 990.7,909.9" fill="#0000ff"/>
<polygon points="1009.66,857.06 1006.06,863.26 1013.26,863.26" fill="#0000ff"/>
<polygon points="1032.22,825.97 1028.62,832.17 1035.82,832.17" fill="#0000ff"/>
<polygon points="1054.78,811.34 1051.18,817.54 1058.38,817.54" fill="#0000ff"/>
<polygon points="1077.34,801.28 1073.74,807.48 1080.94,807.48" fill="#0000ff"/>
<polygon points="1122.46,794.88 1118.86,801.08 1126.06,801.08" fill="#0000ff"/>
<polygon points="1167.58,793.96 1163.98,800.16 1171.18,800.16" fill="#0000ff"/>
<polygon points="1212.7,793.96 1209.1,800.16 1216.3,800.16" fill="#0000ff"/>
<circle cx="987.1" cy="941.14" r="2.8" fill="#ff0000"/>
<circle cx="1032.22" cy="939.31" r="2.8" fill="#ff0000"/>
<circle cx="1077.34" cy="936.57" r="2.8" fill="#ff0000"/>
<circle cx="1122.46" cy="936.57" r="2.8" fill="#ff0000"/>
<circle cx="1145.02" cy="933.82" r="2.8" fill="#ff0000"/>
<circle cx="1190.14" cy="931.99" r="2.8" fill="#ff0000"/>
<circle cx="1212.7" cy="931.99" r="2.8" fill="#ff0000"/>
<rect x="984.5" y="944.94" width="5.2" height="5.2" fill="#000" stroke="none" stroke-width="1" />
<rect x="1029.62" y="944.94" width="5.2" height="5.2" fill="#000" stroke="none" stroke-width="1" />
<rect x="1074.74" y="942.2" width="5.2" height="5.2" fill="#000" stroke="none" stroke-width="1" />
<rect x="1119.86" y="942.2" width="5.2" height="5.2" fill="#000" stroke="none" stroke-width="1" />
<rect x="1142.42" y="943.11" width="5.2" height="5.2" fill="#000" stroke="none" stroke-width="1" />
<rect x="1187.54" y="940.37" width="5.2" height="5.2" fill="#000" stroke="none" stroke-width="1" />
<rect x="1210.1" y="938.54" width="5.2" height="5.2" fill="#000" stroke="none" stroke-width="1" />
<rect x="964.7" y="765.3" width="269.8" height="202.3" fill="none" stroke="#000" stroke-width="2" />
<line x1="959.7" y1="957.6" x2="964.7" y2="957.6" stroke="#000" stroke-width="1.5" />
<line x1="1234.5" y1="957.6" x2="1230.5" y2="957.6" stroke="#000" stroke-width="1.5" />
<text x="958.2" y="963.2" font-size="16.8" text-anchor="end" font-weight="bold" fill="#000" font-family='"Liberation Sans", sans-serif' letter-spacing="-0.8">4</text>
<line x1="959.7" y1="921.02" x2="964.7" y2="921.02" stroke="#000" stroke-width="1.5" />
<line x1="1234.5" y1="921.02" x2="1230.5" y2="921.02" stroke="#000" stroke-width="1.5" />
<text x="958.2" y="926.62" font-size="16.8" text-anchor="end" font-weight="bold" fill="#000" font-family='"Liberation Sans", sans-serif' letter-spacing="-0.8">8</text>
<line x1="959.7" y1="884.44" x2="964.7" y2="884.44" stroke="#000" stroke-width="1.5" />
<line x1="1234.5" y1="884.44" x2="1230.5" y2="884.44" stroke="#000" stroke-width="1.5" />
<text x="958.2" y="890.04" font-size="16.8" text-anchor="end" font-weight="bold" fill="#000" font-family='"Liberation Sans", sans-serif' letter-spacing="-0.8">12</text>
<line x1="959.7" y1="847.86" x2="964.7" y2="847.86" stroke="#000" stroke-width="1.5" />
<line x1="1234.5" y1="847.86" x2="1230.5" y2="847.86" stroke="#000" stroke-width="1.5" />
<text x="958.2" y="853.46" font-size="16.8" text-anchor="end" font-weight="bold" fill="#000" font-family='"Liberation Sans", sans-serif' letter-spacing="-0.8">16</text>
<line x1="959.7" y1="811.28" x2="964.7" y2="811.28" stroke="#000" stroke-width="1.5" />
<line x1="1234.5" y1="811.28" x2="1230.5" y2="811.28" stroke="#000" stroke-width="1.5" />
<text x="958.2" y="816.88" font-size="16.8" text-anchor="end" font-weight="bold" fill="#000" font-family='"Liberation Sans", sans-serif' letter-spacing="-0.8">20</text>
<line x1="959.7" y1="774.7" x2="964.7" y2="774.7" stroke="#000" stroke-width="1.5" />
<line x1="1234.5" y1="774.7" x2="1230.5" y2="774.7" stroke="#000" stroke-width="1.5" />
<text x="958.2" y="780.3" font-size="16.8" text-anchor="end" font-weight="bold" fill="#000" font-family='"Liberation Sans", sans-serif' letter-spacing="-0.8">24</text>
<line x1="961.7" y1="939.31" x2="964.7" y2="939.31" stroke="#000" stroke-width="1.3" />
<line x1="961.7" y1="902.73" x2="964.7" y2="902.73" stroke="#000" stroke-width="1.3" />
<line x1="961.7" y1="866.15" x2="964.7" y2="866.15" stroke="#000" stroke-width="1.3" />
<line x1="961.7" y1="829.57" x2="964.7" y2="829.57" stroke="#000" stroke-width="1.3" />
<line x1="961.7" y1="792.99" x2="964.7" y2="792.99" stroke="#000" stroke-width="1.3" />
<line x1="987.1" y1="967.6" x2="987.1" y2="972.6" stroke="#000" stroke-width="1.5" />
<text x="987.1" y="987.6" font-size="15.5" text-anchor="middle" font-weight="bold" fill="#000" font-family='"Liberation Sans", sans-serif' >0</text>
<line x1="1032.22" y1="967.6" x2="1032.22" y2="972.6" stroke="#000" stroke-width="1.5" />
<text x="1032.22" y="987.6" font-size="15.5" text-anchor="middle" font-weight="bold" fill="#000" font-family='"Liberation Sans", sans-serif' >2</text>
<line x1="1077.34" y1="967.6" x2="1077.34" y2="972.6" stroke="#000" stroke-width="1.5" />
<text x="1077.34" y="987.6" font-size="15.5" text-anchor="middle" font-weight="bold" fill="#000" font-family='"Liberation Sans", sans-serif' >4</text>
<line x1="1122.46" y1="967.6" x2="1122.46" y2="972.6" stroke="#000" stroke-width="1.5" />
<text x="1122.46" y="987.6" font-size="15.5" text-anchor="middle" font-weight="bold" fill="#000" font-family='"Liberation Sans", sans-serif' >6</text>
<line x1="1167.58" y1="967.6" x2="1167.58" y2="972.6" stroke="#000" stroke-width="1.5" />
<text x="1167.58" y="987.6" font-size="15.5" text-anchor="middle" font-weight="bold" fill="#000" font-family='"Liberation Sans", sans-serif' >8</text>
<line x1="1212.7" y1="967.6" x2="1212.7" y2="972.6" stroke="#000" stroke-width="1.5" />
<text x="1212.7" y="987.6" font-size="15.5" text-anchor="middle" font-weight="bold" fill="#000" font-family='"Liberation Sans", sans-serif' >10</text>
<line x1="1009.66" y1="967.6" x2="1009.66" y2="970.6" stroke="#000" stroke-width="1.3" />
<line x1="1054.78" y1="967.6" x2="1054.78" y2="970.6" stroke="#000" stroke-width="1.3" />
<line x1="1099.9" y1="967.6" x2="1099.9" y2="970.6" stroke="#000" stroke-width="1.3" />
<line x1="1145.02" y1="967.6" x2="1145.02" y2="970.6" stroke="#000" stroke-width="1.3" />
<line x1="1190.14" y1="967.6" x2="1190.14" y2="970.6" stroke="#000" stroke-width="1.3" />
<line x1="979.3" y1="781.5" x2="1001.1" y2="781.5" stroke="#0000ff" stroke-width="1.8" />
<polygon points="990.2,777.5 986.2,784.5 994.2,784.5" fill="#0000ff"/>
<text x="1004.2" y="785.7" font-size="12" text-anchor="start" font-weight="bold" fill="#000" font-family='"Liberation Sans", sans-serif' >pH=9.8</text>
<line x1="979.3" y1="795.5" x2="1001.1" y2="795.5" stroke="#ff0000" stroke-width="1.8" />
<circle cx="990.2" cy="795.5" r="3.2" fill="#ff0000"/>
<text x="1004.2" y="799.7" font-size="12" text-anchor="start" font-weight="bold" fill="#000" font-family='"Liberation Sans", sans-serif' >pH=7.6</text>
<line x1="979.3" y1="809.5" x2="1001.1" y2="809.5" stroke="#000" stroke-width="1.8" />
<rect x="987.2" y="806.5" width="6" height="6" fill="#000" stroke="none" stroke-width="1" />
<text x="1004.2" y="813.7" font-size="12" text-anchor="start" font-weight="bold" fill="#000" font-family='"Liberation Sans", sans-serif' >pH=3.6</text>
<text x="1100.7" y="1006" font-size="15.5" text-anchor="middle" font-weight="bold" fill="#000" font-family='"Liberation Sans", sans-serif' >Time (min)</text>
<text x="0" y="0" font-size="15.5" text-anchor="middle" font-weight="bold" fill="#000" font-family='"Liberation Sans", sans-serif' transform="translate(932,875) rotate(-90)">Oxygen solubility (mg/L)</text>
<rect x="648.9" y="836" width="66.4" height="45.7" fill="#dcd9d9" stroke="none" stroke-width="1" />
<polygon points="650.3,837.4 667.5,837.4 662.7,880.0 656.5,880.0" fill="#e9eaea" stroke="#c8cccc" stroke-width="0.6"/>
<polygon points="667.5,837.4 684.0,837.4 678.5,880.7 670.9,880.7" fill="#e9eaea" stroke="#c8cccc" stroke-width="0.6"/>
<polygon points="684.7,837.4 700.5,837.4 695.7,880.7 687.5,880.7" fill="#e9eaea" stroke="#c8cccc" stroke-width="0.6"/>
<polygon points="700.5,837.4 715.3,837.4 714.3,881.1 704.6,881.1" fill="#e9eaea" stroke="#c8cccc" stroke-width="0.6"/>
<polygon points="653.8,855.3 663.0,855.3 659.9,879.3 656.5,879.3" fill="#a6bcc3"/>
<polygon points="668.2,852.5 681.3,852.5 676.1,880.0 670.3,880.0" fill="#3aa8b5"/>
<polygon points="685.4,853.9 697.4,853.9 694.3,880.0 688.1,880.0" fill="#1bb0bf"/>
<polygon points="702.9,845.6 714.3,845.6 713.0,880.7 707.1,880.7" fill="#10929e"/>
<line x1="653.8" y1="842.2" x2="654.4" y2="853.9" stroke="#2a2a2a" stroke-width="1.6" stroke-dasharray="1.5,0.8" opacity="0.75"/>
<line x1="673.7" y1="841.5" x2="674.4" y2="859.4" stroke="#2a2a2a" stroke-width="1.6" stroke-dasharray="1.5,0.8" opacity="0.75"/>
<line x1="690.9" y1="841.5" x2="691.6" y2="855.3" stroke="#2a2a2a" stroke-width="1.6" stroke-dasharray="1.5,0.8" opacity="0.75"/>
<line x1="708.1" y1="842.9" x2="708.8" y2="855.9" stroke="#2a2a2a" stroke-width="1.6" stroke-dasharray="1.5,0.8" opacity="0.75"/>
<line x1="662.7" y1="845.6" x2="657.9" y2="878.6" stroke="#f4f6f6" stroke-width="1.4" opacity="0.7"/>
<line x1="681.3" y1="845.6" x2="675.8" y2="878.6" stroke="#f4f6f6" stroke-width="1.4" opacity="0.7"/>
<line x1="697.8" y1="845.6" x2="692.3" y2="878.6" stroke="#f4f6f6" stroke-width="1.4" opacity="0.7"/>
<defs><clipPath id="clipI"><rect x="1053.3" y="850.1" width="152.7" height="55.7" rx="5"/></clipPath><linearGradient id="tg1" x1="0" y1="0" x2="0" y2="1"><stop offset="0" stop-color="#d8dde2"/><stop offset="0.15" stop-color="#b8c8d4"/><stop offset="1" stop-color="#b4c6d2"/></linearGradient><linearGradient id="tg2" x1="0" y1="0" x2="0" y2="1"><stop offset="0" stop-color="#dcdfe2"/><stop offset="0.15" stop-color="#c2ccd4"/><stop offset="1" stop-color="#c6d0d8"/></linearGradient><linearGradient id="tg3" x1="0" y1="0" x2="0" y2="1"><stop offset="0" stop-color="#e0e2e4"/><stop offset="0.15" stop-color="#c8d0d6"/><stop offset="1" stop-color="#d0d6dc"/></linearGradient></defs>
<g clip-path="url(#clipI)">
<rect x="1053.3" y="850.1" width="152.7" height="55.7" fill="#2b2622" stroke="none" stroke-width="1" />
<path d="M1053.3,850.1 L1104.8,850.1 L1104.8,886.49 A25.75,20.6 0 0 1 1053.3,886.49 Z" fill="url(#tg1)"/>
<path d="M1104.8,850.1 L1155,850.1 L1155,886.97 A25.1,20.08 0 0 1 1104.8,886.97 Z" fill="url(#tg2)"/>
<path d="M1155,850.1 L1206,850.1 L1206,886.67 A25.5,20.4 0 0 1 1155,886.67 Z" fill="url(#tg3)"/>
<ellipse cx="1184" cy="866" rx="3.5" ry="1.8" fill="none" stroke="#f0f0f0" stroke-width="0.8"/>
<ellipse cx="1190" cy="878" rx="3.5" ry="1.8" fill="none" stroke="#f0f0f0" stroke-width="0.8"/>
<ellipse cx="1180" cy="880" rx="3.5" ry="1.8" fill="none" stroke="#f0f0f0" stroke-width="0.8"/>
<ellipse cx="1188" cy="884" rx="3.5" ry="1.8" fill="none" stroke="#f0f0f0" stroke-width="0.8"/>
<ellipse cx="1178" cy="888" rx="3.5" ry="1.8" fill="none" stroke="#f0f0f0" stroke-width="0.8"/>
<ellipse cx="1172" cy="874" rx="3.5" ry="1.8" fill="none" stroke="#f0f0f0" stroke-width="0.8"/>
<ellipse cx="1186" cy="891" rx="3.5" ry="1.8" fill="none" stroke="#f0f0f0" stroke-width="0.8"/>
</g>
<text x="1079.4" y="847.6" font-size="11.8" text-anchor="middle" font-weight="normal" fill="#3a3a3a" font-family='"Liberation Sans", sans-serif' stroke="#3a3a3a" stroke-width="0.25">PH=3.6</text>
<text x="1129.9" y="847.6" font-size="11.8" text-anchor="middle" font-weight="normal" fill="#3a3a3a" font-family='"Liberation Sans", sans-serif' stroke="#3a3a3a" stroke-width="0.25">PH=7.6</text>
<text x="1181" y="847.6" font-size="11.8" text-anchor="middle" font-weight="normal" fill="#3a3a3a" font-family='"Liberation Sans", sans-serif' stroke="#3a3a3a" stroke-width="0.25">PH=9.8</text>
<text x="-1" y="29.8" font-size="34.5" text-anchor="start" font-weight="normal" fill="#000" font-family='"Liberation Sans", sans-serif' >a</text>
<text x="415" y="37.8" font-size="34.3" text-anchor="start" font-weight="normal" fill="#000" font-family='"Liberation Sans", sans-serif' >b</text>
<text x="865.6" y="31" font-size="34.5" text-anchor="start" font-weight="normal" fill="#000" font-family='"Liberation Sans", sans-serif' >c</text>
<text x="21" y="355.7" font-size="34.5" text-anchor="start" font-weight="normal" fill="#000" font-family='"Liberation Sans", sans-serif' >d</text>
<text x="432.8" y="361.8" font-size="34.1" text-anchor="start" font-weight="normal" fill="#000" font-family='"Liberation Sans", sans-serif' >e</text>
<text x="13" y="707.5" font-size="33.5" text-anchor="start" font-weight="normal" fill="#000" font-family='"Liberation Sans", sans-serif' >g</text>
<text x="589" y="738.6" font-size="33.5" text-anchor="start" font-weight="normal" fill="#000" font-family='"Liberation Sans", sans-serif' >h</text>
<text x="924.6" y="739" font-size="33.5" text-anchor="start" font-weight="normal" fill="#000" font-family='"Liberation Sans", sans-serif' >i</text>
</svg></body></html>
